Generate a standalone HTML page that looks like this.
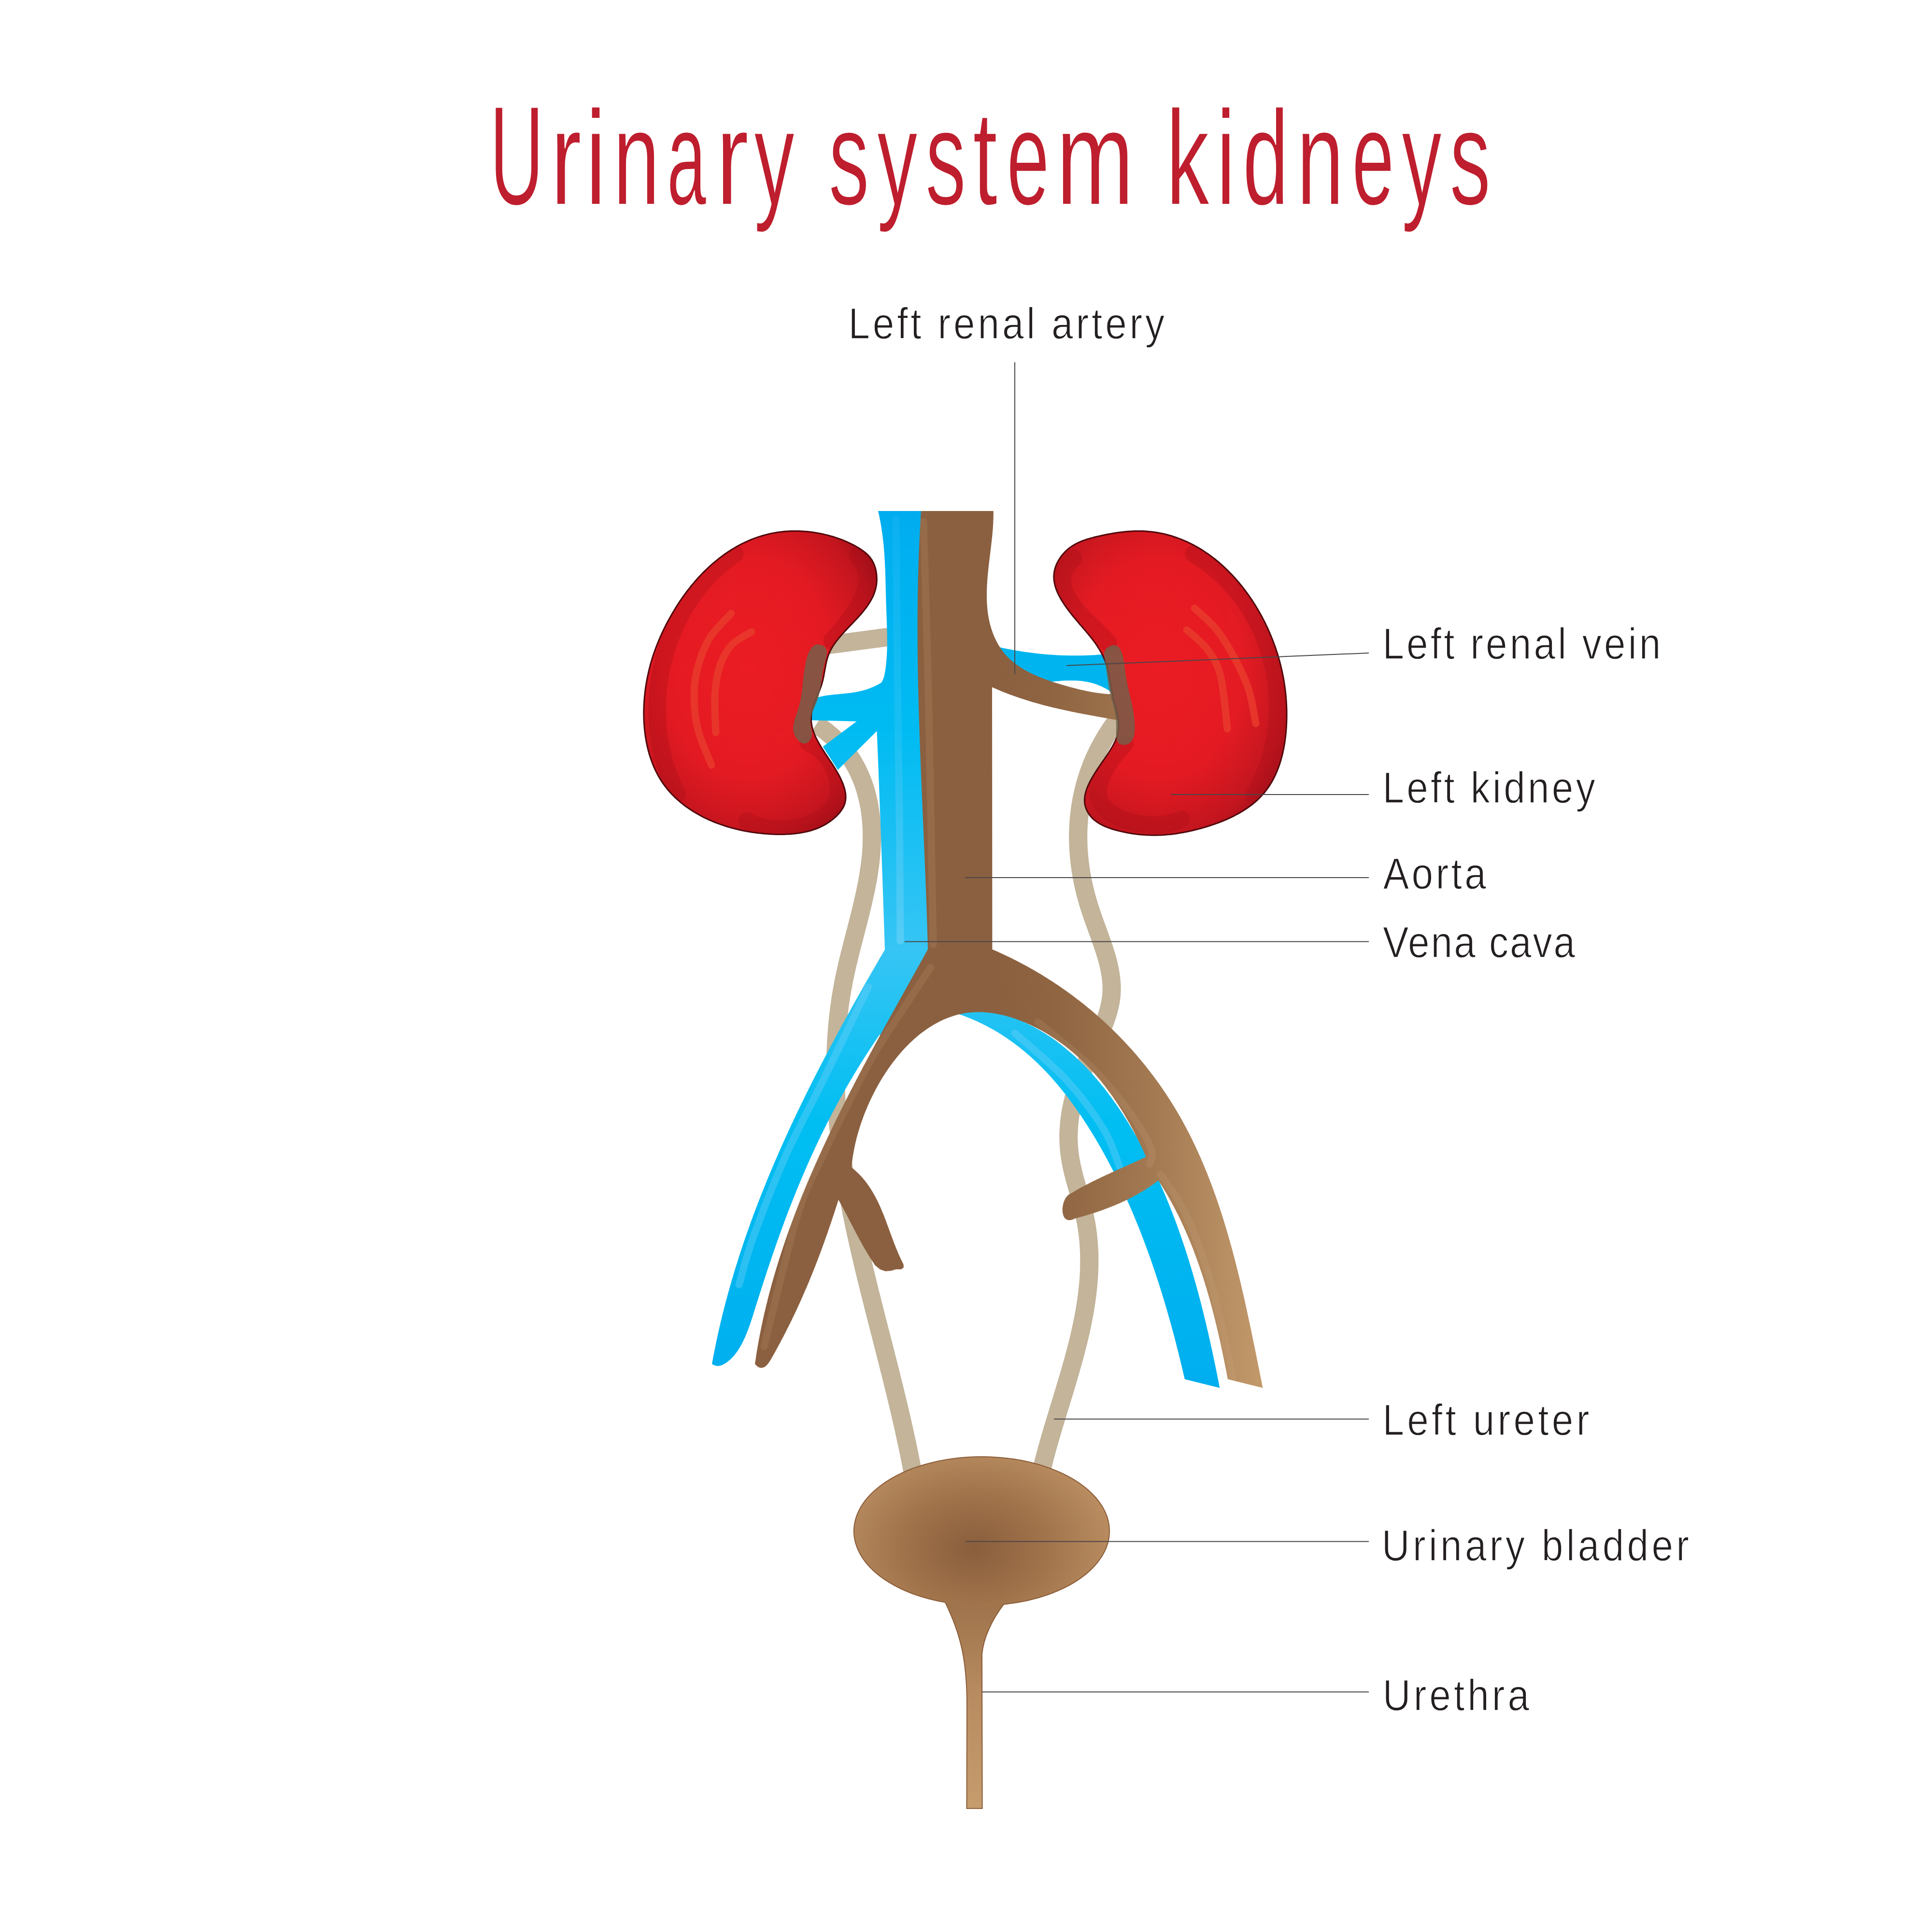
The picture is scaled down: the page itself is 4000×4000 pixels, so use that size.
<!DOCTYPE html>
<html><head><meta charset="utf-8"><style>
html,body{margin:0;padding:0;background:#fff;width:4000px;height:4000px;overflow:hidden}
svg{display:block}
</style></head><body>
<svg width="4000" height="4000" viewBox="0 0 4000 4000">
<rect width="4000" height="4000" fill="#fff"/>
<defs>
<radialGradient id="gKid" cx="0.45" cy="0.45" r="0.65"><stop offset="0" stop-color="#eb1c24"/><stop offset="0.55" stop-color="#e41b23"/><stop offset="0.85" stop-color="#c4161f"/><stop offset="1" stop-color="#9e0e18"/></radialGradient>
<linearGradient id="gBlue" gradientUnits="userSpaceOnUse" x1="0" y1="1058" x2="0" y2="2870"><stop offset="0" stop-color="#00adef"/><stop offset="0.25" stop-color="#00bbf2"/><stop offset="0.5" stop-color="#36c5f4"/><stop offset="0.7" stop-color="#00bef2"/><stop offset="1" stop-color="#00aeef"/></linearGradient>
<linearGradient id="gBrown" gradientUnits="userSpaceOnUse" x1="2060" y1="0" x2="2620" y2="0"><stop offset="0" stop-color="#8b6040"/><stop offset="0.2" stop-color="#8e6441"/><stop offset="0.6" stop-color="#a47a53"/><stop offset="1" stop-color="#c39a6b"/></linearGradient>
<radialGradient id="gBlad" gradientUnits="userSpaceOnUse" cx="2016" cy="3207" r="300" gradientTransform="translate(2016 3207) scale(1 0.75) translate(-2016 -3207)"><stop offset="0" stop-color="#8a5e3c"/><stop offset="0.5" stop-color="#a0734b"/><stop offset="1" stop-color="#bb8f62"/></radialGradient>
<linearGradient id="gUre" gradientUnits="userSpaceOnUse" x1="0" y1="3300" x2="0" y2="3744"><stop offset="0" stop-color="#9c7049"/><stop offset="0.45" stop-color="#b78b5f"/><stop offset="1" stop-color="#c69c6d"/></linearGradient>
<linearGradient id="gStripe" gradientUnits="userSpaceOnUse" x1="0" y1="1070" x2="0" y2="1950"><stop offset="0" stop-color="#6fd0f7" stop-opacity="0.25"/><stop offset="0.5" stop-color="#6fd0f7" stop-opacity="0.5"/><stop offset="1" stop-color="#8ad9f9" stop-opacity="1"/></linearGradient>
</defs>
<path d="M1700.0,1337.3 L1704.2,1336.7 L1708.3,1336.2 L1712.5,1335.6 L1716.7,1335.1 L1720.8,1334.5 L1725.0,1334.0 L1729.2,1333.4 L1733.3,1332.9 L1737.5,1332.3 L1741.7,1331.8 L1745.8,1331.2 L1750.0,1330.7 L1754.2,1330.1 L1758.3,1329.6 L1762.5,1329.0 L1766.7,1328.4 L1770.8,1327.9 L1775.0,1327.3 L1779.2,1326.8 L1783.3,1326.2 L1787.5,1325.7 L1791.7,1325.1 L1795.8,1324.6 L1800.0,1324.0 L1804.2,1323.4 L1808.3,1322.9 L1812.5,1322.3 L1816.7,1321.8 L1820.8,1321.2 L1825.0,1320.7 L1829.2,1320.1 L1833.3,1319.5 L1837.5,1319.0 L1841.7,1318.4 L1845.8,1317.9 L1850.0,1317.3 " fill="none" stroke="#c3b49a" stroke-width="38"/>
<path d="M1690.0,1500.0 L1693.7,1502.4 L1697.4,1504.8 L1701.0,1507.3 L1704.5,1509.8 L1707.9,1512.4 L1711.3,1515.0 L1714.6,1517.7 L1717.8,1520.4 L1721.0,1523.1 L1724.1,1525.9 L1727.2,1528.7 L1730.1,1531.6 L1733.0,1534.5 L1735.9,1537.4 L1738.6,1540.4 L1741.4,1543.4 L1744.0,1546.4 L1746.6,1549.5 L1749.1,1552.6 L1751.6,1555.8 L1754.0,1559.0 L1756.3,1562.2 L1758.6,1565.4 L1760.8,1568.7 L1762.9,1572.0 L1765.0,1575.3 L1767.1,1578.7 L1769.0,1582.1 L1770.9,1585.5 L1772.8,1589.0 L1774.6,1592.4 L1776.3,1595.9 L1778.0,1599.5 L1779.7,1603.0 L1781.2,1606.6 L1782.8,1610.2 L1784.2,1613.8 L1785.6,1617.4 L1787.0,1621.1 L1788.3,1624.8 L1789.5,1628.5 L1790.7,1632.2 L1791.9,1636.0 L1793.0,1639.7 L1794.0,1643.5 L1795.0,1647.3 L1796.0,1651.1 L1796.9,1654.9 L1797.7,1658.7 L1798.5,1662.6 L1799.3,1666.5 L1800.0,1670.3 L1800.6,1674.2 L1801.2,1678.1 L1801.8,1682.0 L1802.3,1685.9 L1802.8,1689.9 L1803.2,1693.8 L1803.6,1697.7 L1803.9,1701.7 L1804.2,1705.7 L1804.5,1709.6 L1804.7,1713.6 L1804.9,1717.6 L1805.0,1721.5 L1805.1,1725.5 L1805.1,1729.5 L1805.1,1733.5 L1805.1,1737.4 L1805.0,1741.4 L1804.9,1745.4 L1804.8,1749.4 L1804.6,1753.4 L1804.4,1757.4 L1804.1,1761.3 L1803.8,1765.3 L1803.5,1769.3 L1803.1,1773.3 L1802.7,1777.2 L1802.3,1781.2 L1801.9,1785.2 L1801.4,1789.2 L1800.9,1793.1 L1800.3,1797.1 L1799.7,1801.1 L1799.1,1805.0 L1798.5,1809.0 L1797.9,1813.0 L1797.2,1817.0 L1796.5,1820.9 L1795.8,1824.9 L1795.1,1828.9 L1794.3,1832.8 L1793.5,1836.8 L1792.7,1840.8 L1791.9,1844.7 L1791.0,1848.7 L1790.2,1852.7 L1789.3,1856.6 L1788.4,1860.6 L1787.5,1864.5 L1786.6,1868.5 L1785.7,1872.5 L1784.8,1876.4 L1783.8,1880.4 L1782.8,1884.4 L1781.9,1888.3 L1780.9,1892.3 L1779.9,1896.2 L1778.9,1900.2 L1777.9,1904.2 L1776.9,1908.1 L1775.9,1912.1 L1774.8,1916.0 L1773.8,1920.0 L1772.8,1924.0 L1771.8,1927.9 L1770.7,1931.9 L1769.7,1935.8 L1768.7,1939.8 L1767.7,1943.7 L1766.6,1947.7 L1765.6,1951.7 L1764.6,1955.6 L1763.6,1959.6 L1762.6,1963.5 L1761.6,1967.5 L1760.6,1971.4 L1759.6,1975.4 L1758.6,1979.3 L1757.6,1983.3 L1756.7,1987.3 L1755.7,1991.2 L1754.8,1995.2 L1753.9,1999.1 L1753.0,2003.1 L1752.1,2007.0 L1751.2,2011.0 L1750.3,2014.9 L1749.5,2018.9 L1748.6,2022.9 L1747.8,2026.8 L1747.0,2030.8 L1746.2,2034.7 L1745.5,2038.7 L1744.8,2042.6 L1744.0,2046.6 L1743.3,2050.5 L1742.7,2054.5 L1742.0,2058.5 L1741.4,2062.4 L1740.7,2066.4 L1740.1,2070.3 L1739.5,2074.3 L1739.0,2078.2 L1738.4,2082.2 L1737.9,2086.2 L1737.4,2090.1 L1736.9,2094.1 L1736.4,2098.0 L1735.9,2102.0 L1735.5,2105.9 L1735.1,2109.9 L1734.7,2113.8 L1734.3,2117.8 L1733.9,2121.8 L1733.5,2125.7 L1733.2,2129.7 L1732.9,2133.6 L1732.6,2137.6 L1732.3,2141.5 L1732.0,2145.5 L1731.7,2149.5 L1731.5,2153.4 L1731.3,2157.4 L1731.1,2161.3 L1730.9,2165.3 L1730.7,2169.2 L1730.5,2173.2 L1730.4,2177.2 L1730.2,2181.1 L1730.1,2185.1 L1730.0,2189.0 L1729.9,2193.0 L1729.9,2196.9 L1729.8,2200.9 L1729.8,2204.9 L1729.7,2208.8 L1729.7,2212.8 L1729.7,2216.7 L1729.7,2220.7 L1729.8,2224.6 L1729.8,2228.6 L1729.9,2232.6 L1730.0,2236.5 L1730.0,2240.5 L1730.1,2244.4 L1730.3,2248.4 L1730.4,2252.3 L1730.5,2256.3 L1730.7,2260.2 L1730.9,2264.2 L1731.0,2268.2 L1731.2,2272.1 L1731.4,2276.1 L1731.7,2280.0 L1731.9,2284.0 L1732.2,2287.9 L1732.4,2291.9 L1732.7,2295.8 L1733.0,2299.8 L1733.3,2303.8 L1733.6,2307.7 L1733.9,2311.7 L1734.2,2315.6 L1734.6,2319.6 L1734.9,2323.5 L1735.3,2327.5 L1735.7,2331.4 L1736.1,2335.4 L1736.5,2339.3 L1736.9,2343.3 L1737.3,2347.2 L1737.7,2351.2 L1738.2,2355.2 L1738.6,2359.1 L1739.1,2363.1 L1739.6,2367.0 L1740.1,2371.0 L1740.6,2374.9 L1741.1,2378.9 L1741.6,2382.8 L1742.1,2386.8 L1742.7,2390.7 L1743.2,2394.7 L1743.8,2398.6 L1744.3,2402.6 L1744.9,2406.5 L1745.5,2410.5 L1746.1,2414.4 L1746.7,2418.4 L1747.3,2422.3 L1748.0,2426.3 L1748.6,2430.2 L1749.2,2434.2 L1749.9,2438.1 L1750.5,2442.1 L1751.2,2446.0 L1751.9,2450.0 L1752.6,2453.9 L1753.3,2457.9 L1754.0,2461.8 L1754.7,2465.8 L1755.4,2469.7 L1756.1,2473.7 L1756.8,2477.6 L1757.6,2481.6 L1758.3,2485.5 L1759.1,2489.5 L1759.8,2493.4 L1760.6,2497.3 L1761.4,2501.3 L1762.2,2505.2 L1762.9,2509.2 L1763.7,2513.1 L1764.5,2517.1 L1765.4,2521.0 L1766.2,2525.0 L1767.0,2528.9 L1767.8,2532.8 L1768.7,2536.8 L1769.5,2540.7 L1770.3,2544.7 L1771.2,2548.6 L1772.0,2552.6 L1772.9,2556.5 L1773.8,2560.4 L1774.6,2564.4 L1775.5,2568.3 L1776.4,2572.3 L1777.3,2576.2 L1778.2,2580.2 L1779.1,2584.1 L1780.0,2588.0 L1780.9,2592.0 L1781.8,2595.9 L1782.7,2599.9 L1783.6,2603.8 L1784.6,2607.7 L1785.5,2611.7 L1786.4,2615.6 L1787.4,2619.5 L1788.3,2623.5 L1789.2,2627.4 L1790.2,2631.4 L1791.1,2635.3 L1792.1,2639.2 L1793.1,2643.2 L1794.0,2647.1 L1795.0,2651.0 L1795.9,2655.0 L1796.9,2658.9 L1797.9,2662.8 L1798.9,2666.8 L1799.8,2670.7 L1800.8,2674.6 L1801.8,2678.6 L1802.8,2682.5 L1803.8,2686.4 L1804.8,2690.4 L1805.7,2694.3 L1806.7,2698.2 L1807.7,2702.1 L1808.7,2706.1 L1809.7,2710.0 L1810.7,2713.9 L1811.7,2717.9 L1812.7,2721.8 L1813.7,2725.7 L1814.7,2729.6 L1815.7,2733.6 L1816.7,2737.5 L1817.7,2741.4 L1818.7,2745.3 L1819.7,2749.3 L1820.7,2753.2 L1821.7,2757.1 L1822.8,2761.0 L1823.8,2765.0 L1824.8,2768.9 L1825.8,2772.8 L1826.8,2776.7 L1827.8,2780.7 L1828.8,2784.6 L1829.8,2788.5 L1830.8,2792.4 L1831.8,2796.3 L1832.8,2800.3 L1833.8,2804.2 L1834.8,2808.1 L1835.8,2812.0 L1836.8,2815.9 L1837.8,2819.8 L1838.8,2823.8 L1839.8,2827.7 L1840.7,2831.6 L1841.7,2835.5 L1842.7,2839.4 L1843.7,2843.3 L1844.7,2847.2 L1845.7,2851.2 L1846.6,2855.1 L1847.6,2859.0 L1848.6,2862.9 L1849.5,2866.8 L1850.5,2870.7 L1851.5,2874.6 L1852.4,2878.5 L1853.4,2882.4 L1854.3,2886.4 L1855.3,2890.3 L1856.2,2894.2 L1857.2,2898.1 L1858.1,2902.0 L1859.0,2905.9 L1860.0,2909.8 L1860.9,2913.7 L1861.8,2917.6 L1862.7,2921.5 L1863.7,2925.4 L1864.6,2929.3 L1865.5,2933.2 L1866.4,2937.1 L1867.3,2941.0 L1868.2,2944.9 L1869.0,2948.8 L1869.9,2952.7 L1870.8,2956.6 L1871.7,2960.5 L1872.5,2964.4 L1873.4,2968.3 L1874.2,2972.2 L1875.1,2976.1 L1875.9,2980.0 L1876.8,2983.9 L1877.6,2987.8 L1878.4,2991.7 L1879.2,2995.6 L1880.1,2999.5 L1880.9,3003.3 L1881.7,3007.2 L1882.5,3011.1 L1883.2,3015.0 L1884.0,3018.9 L1884.8,3022.8 L1885.6,3026.7 L1886.3,3030.6 L1887.1,3034.5 L1887.8,3038.3 L1888.5,3042.2 L1889.3,3046.1 L1890.0,3050.0 " fill="none" stroke="#c3b49a" stroke-width="38"/>
<path d="M2312.0,1492.0 L2309.5,1495.4 L2307.0,1498.8 L2304.5,1502.2 L2302.1,1505.7 L2299.8,1509.1 L2297.4,1512.6 L2295.2,1516.1 L2292.9,1519.6 L2290.7,1523.1 L2288.6,1526.6 L2286.5,1530.2 L2284.4,1533.7 L2282.4,1537.3 L2280.4,1540.9 L2278.4,1544.5 L2276.5,1548.1 L2274.7,1551.7 L2272.9,1555.3 L2271.1,1558.9 L2269.4,1562.6 L2267.7,1566.2 L2266.0,1569.9 L2264.4,1573.6 L2262.8,1577.3 L2261.3,1581.0 L2259.8,1584.7 L2258.4,1588.4 L2257.0,1592.2 L2255.6,1595.9 L2254.3,1599.6 L2253.0,1603.4 L2251.7,1607.2 L2250.5,1610.9 L2249.4,1614.7 L2248.2,1618.5 L2247.2,1622.3 L2246.1,1626.1 L2245.1,1630.0 L2244.1,1633.8 L2243.2,1637.6 L2242.3,1641.5 L2241.4,1645.3 L2240.6,1649.2 L2239.9,1653.0 L2239.1,1656.9 L2238.4,1660.8 L2237.8,1664.6 L2237.1,1668.5 L2236.5,1672.4 L2236.0,1676.3 L2235.5,1680.2 L2235.0,1684.1 L2234.6,1688.1 L2234.2,1692.0 L2233.8,1695.9 L2233.5,1699.8 L2233.2,1703.8 L2233.0,1707.7 L2232.7,1711.6 L2232.6,1715.6 L2232.4,1719.5 L2232.3,1723.5 L2232.3,1727.4 L2232.2,1731.4 L2232.2,1735.3 L2232.3,1739.3 L2232.4,1743.3 L2232.5,1747.2 L2232.6,1751.2 L2232.8,1755.2 L2233.0,1759.1 L2233.3,1763.1 L2233.6,1767.1 L2233.9,1771.1 L2234.3,1775.0 L2234.7,1779.0 L2235.1,1783.0 L2235.6,1787.0 L2236.1,1790.9 L2236.6,1794.9 L2237.2,1798.9 L2237.8,1802.9 L2238.4,1806.9 L2239.1,1810.8 L2239.8,1814.8 L2240.5,1818.8 L2241.3,1822.7 L2242.1,1826.7 L2242.9,1830.7 L2243.8,1834.7 L2244.7,1838.6 L2245.7,1842.6 L2246.6,1846.5 L2247.6,1850.5 L2248.7,1854.4 L2249.7,1858.4 L2250.9,1862.3 L2252.0,1866.3 L2253.2,1870.2 L2254.4,1874.2 L2255.6,1878.1 L2256.9,1882.0 L2258.1,1885.9 L2259.5,1889.9 L2260.8,1893.8 L2262.1,1897.7 L2263.5,1901.6 L2264.9,1905.5 L2266.3,1909.4 L2267.7,1913.3 L2269.1,1917.2 L2270.5,1921.1 L2271.9,1925.0 L2273.3,1928.8 L2274.8,1932.7 L2276.2,1936.6 L2277.5,1940.4 L2278.9,1944.3 L2280.3,1948.2 L2281.6,1952.0 L2282.9,1955.9 L2284.2,1959.7 L2285.5,1963.6 L2286.8,1967.4 L2288.0,1971.2 L2289.2,1975.1 L2290.3,1978.9 L2291.4,1982.7 L2292.5,1986.6 L2293.5,1990.4 L2294.5,1994.2 L2295.4,1998.0 L2296.2,2001.8 L2297.1,2005.6 L2297.8,2009.4 L2298.5,2013.2 L2299.1,2017.0 L2299.7,2020.8 L2300.2,2024.6 L2300.6,2028.4 L2301.0,2032.1 L2301.3,2035.9 L2301.5,2039.7 L2301.6,2043.5 L2301.6,2047.2 L2301.6,2051.0 L2301.4,2054.7 L2301.2,2058.5 L2300.9,2062.3 L2300.4,2066.0 L2299.9,2069.7 L2299.3,2073.5 L2298.7,2077.2 L2297.9,2081.0 L2297.1,2084.7 L2296.1,2088.4 L2295.2,2092.2 L2294.1,2095.9 L2293.0,2099.6 L2291.8,2103.3 L2290.6,2107.1 L2289.3,2110.8 L2287.9,2114.5 L2286.5,2118.2 L2285.1,2121.9 L2283.6,2125.6 L2282.1,2129.3 L2280.5,2133.0 L2278.9,2136.7 L2277.3,2140.4 L2275.7,2144.2 L2274.0,2147.9 L2272.3,2151.6 L2270.6,2155.3 L2268.8,2159.0 L2267.1,2162.7 L2265.4,2166.4 L2263.6,2170.1 L2261.9,2173.8 L2260.1,2177.5 L2258.4,2181.2 L2256.6,2184.9 L2254.9,2188.6 L2253.2,2192.3 L2251.5,2196.0 L2249.8,2199.7 L2248.2,2203.4 L2246.5,2207.1 L2244.9,2210.8 L2243.4,2214.5 L2241.8,2218.2 L2240.3,2221.9 L2238.9,2225.6 L2237.4,2229.3 L2236.0,2233.0 L2234.7,2236.8 L2233.3,2240.5 L2232.1,2244.2 L2230.8,2247.9 L2229.6,2251.6 L2228.4,2255.4 L2227.2,2259.1 L2226.1,2262.8 L2225.1,2266.5 L2224.0,2270.3 L2223.0,2274.0 L2222.1,2277.8 L2221.2,2281.5 L2220.3,2285.2 L2219.5,2289.0 L2218.7,2292.7 L2217.9,2296.5 L2217.2,2300.3 L2216.6,2304.0 L2216.0,2307.8 L2215.4,2311.6 L2214.9,2315.3 L2214.4,2319.1 L2214.0,2322.9 L2213.6,2326.7 L2213.3,2330.5 L2213.0,2334.3 L2212.8,2338.1 L2212.6,2341.9 L2212.4,2345.7 L2212.3,2349.5 L2212.3,2353.3 L2212.3,2357.1 L2212.4,2361.0 L2212.5,2364.8 L2212.7,2368.6 L2212.9,2372.5 L2213.2,2376.3 L2213.5,2380.2 L2213.9,2384.0 L2214.4,2387.9 L2214.9,2391.8 L2215.4,2395.6 L2216.0,2399.5 L2216.7,2403.4 L2217.4,2407.3 L2218.2,2411.2 L2219.0,2415.1 L2219.9,2419.0 L2220.8,2423.0 L2221.7,2426.9 L2222.7,2430.8 L2223.7,2434.7 L2224.7,2438.7 L2225.8,2442.6 L2226.9,2446.6 L2228.0,2450.5 L2229.1,2454.5 L2230.2,2458.4 L2231.3,2462.4 L2232.4,2466.3 L2233.5,2470.3 L2234.7,2474.2 L2235.8,2478.2 L2236.9,2482.2 L2238.0,2486.1 L2239.1,2490.1 L2240.1,2494.1 L2241.2,2498.1 L2242.2,2502.0 L2243.1,2506.0 L2244.1,2510.0 L2245.0,2514.0 L2245.9,2517.9 L2246.7,2521.9 L2247.5,2525.9 L2248.2,2529.9 L2249.0,2533.8 L2249.6,2537.8 L2250.3,2541.8 L2250.8,2545.8 L2251.4,2549.7 L2251.9,2553.7 L2252.4,2557.7 L2252.8,2561.7 L2253.2,2565.6 L2253.6,2569.6 L2253.9,2573.6 L2254.2,2577.5 L2254.5,2581.5 L2254.7,2585.5 L2254.9,2589.4 L2255.1,2593.4 L2255.2,2597.4 L2255.3,2601.4 L2255.3,2605.3 L2255.3,2609.3 L2255.3,2613.3 L2255.3,2617.2 L2255.2,2621.2 L2255.1,2625.2 L2255.0,2629.1 L2254.8,2633.1 L2254.7,2637.0 L2254.4,2641.0 L2254.2,2645.0 L2253.9,2648.9 L2253.6,2652.9 L2253.3,2656.8 L2252.9,2660.8 L2252.5,2664.8 L2252.1,2668.7 L2251.7,2672.7 L2251.2,2676.6 L2250.8,2680.6 L2250.2,2684.5 L2249.7,2688.5 L2249.2,2692.4 L2248.6,2696.4 L2248.0,2700.3 L2247.4,2704.3 L2246.7,2708.2 L2246.1,2712.2 L2245.4,2716.1 L2244.7,2720.1 L2243.9,2724.0 L2243.2,2728.0 L2242.4,2731.9 L2241.6,2735.9 L2240.8,2739.8 L2240.0,2743.7 L2239.2,2747.7 L2238.3,2751.6 L2237.5,2755.5 L2236.6,2759.5 L2235.7,2763.4 L2234.8,2767.3 L2233.8,2771.3 L2232.9,2775.2 L2231.9,2779.1 L2230.9,2783.1 L2229.9,2787.0 L2228.9,2790.9 L2227.9,2794.8 L2226.9,2798.8 L2225.9,2802.7 L2224.8,2806.6 L2223.8,2810.5 L2222.7,2814.4 L2221.6,2818.3 L2220.5,2822.3 L2219.4,2826.2 L2218.3,2830.1 L2217.2,2834.0 L2216.1,2837.9 L2215.0,2841.8 L2213.8,2845.7 L2212.7,2849.6 L2211.5,2853.5 L2210.4,2857.4 L2209.2,2861.3 L2208.1,2865.2 L2206.9,2869.1 L2205.7,2873.0 L2204.6,2876.9 L2203.4,2880.8 L2202.2,2884.7 L2201.0,2888.6 L2199.8,2892.4 L2198.6,2896.3 L2197.5,2900.2 L2196.3,2904.1 L2195.1,2908.0 L2193.9,2911.8 L2192.7,2915.7 L2191.5,2919.6 L2190.3,2923.5 L2189.2,2927.3 L2188.0,2931.2 L2186.8,2935.0 L2185.6,2938.9 L2184.5,2942.8 L2183.3,2946.6 L2182.1,2950.5 L2181.0,2954.3 L2179.8,2958.2 L2178.7,2962.0 L2177.6,2965.9 L2176.4,2969.7 L2175.3,2973.6 L2174.2,2977.4 L2173.1,2981.3 L2172.0,2985.1 L2170.9,2988.9 L2169.8,2992.8 L2168.7,2996.6 L2167.7,3000.4 L2166.6,3004.3 L2165.6,3008.1 L2164.6,3011.9 L2163.5,3015.7 L2162.5,3019.5 L2161.6,3023.4 L2160.6,3027.2 L2159.6,3031.0 L2158.7,3034.8 L2157.7,3038.6 L2156.8,3042.4 L2155.9,3046.2 L2155.0,3050.0 " fill="none" stroke="#c3b49a" stroke-width="38"/>
<path d="M2040.0,1333.0 L2043.9,1334.0 L2047.9,1335.0 L2051.9,1336.0 L2055.8,1337.0 L2059.8,1337.9 L2063.7,1338.8 L2067.7,1339.7 L2071.7,1340.6 L2075.7,1341.4 L2079.6,1342.3 L2083.6,1343.1 L2087.6,1343.9 L2091.6,1344.6 L2095.6,1345.4 L2099.6,1346.1 L2103.6,1346.8 L2107.6,1347.5 L2111.6,1348.1 L2115.6,1348.8 L2119.7,1349.4 L2123.7,1350.0 L2127.7,1350.5 L2131.7,1351.1 L2135.7,1351.6 L2139.8,1352.1 L2143.8,1352.6 L2147.8,1353.1 L2151.9,1353.5 L2155.9,1353.9 L2159.9,1354.3 L2164.0,1354.7 L2168.0,1355.0 L2172.1,1355.3 L2176.1,1355.6 L2180.2,1355.9 L2184.2,1356.1 L2188.3,1356.4 L2192.3,1356.6 L2196.4,1356.7 L2200.4,1356.9 L2204.5,1357.0 L2208.5,1357.1 L2212.6,1357.2 L2216.6,1357.3 L2220.7,1357.3 L2224.8,1357.3 L2228.8,1357.3 L2232.9,1357.3 L2236.9,1357.2 L2241.0,1357.2 L2245.1,1357.1 L2249.1,1356.9 L2253.2,1356.8 L2257.2,1356.6 L2261.3,1356.4 L2265.4,1356.2 L2269.4,1355.9 L2273.5,1355.6 L2277.5,1355.3 L2281.6,1355.0 L2285.7,1354.6 L2289.7,1354.3 L2293.8,1353.9 L2297.8,1353.4 L2301.9,1353.0 L2305.9,1352.5 L2310.0,1352.0 L2310.0,1440.0 L2306.4,1437.0 L2302.7,1434.3 L2299.0,1431.6 L2295.3,1429.2 L2291.6,1426.9 L2287.8,1424.8 L2284.1,1422.9 L2280.3,1421.1 L2276.5,1419.4 L2272.7,1417.9 L2268.9,1416.5 L2265.0,1415.3 L2261.2,1414.2 L2257.3,1413.2 L2253.4,1412.3 L2249.5,1411.5 L2245.6,1410.9 L2241.7,1410.3 L2237.8,1409.8 L2233.8,1409.5 L2229.9,1409.2 L2225.9,1409.0 L2222.0,1408.9 L2218.0,1408.9 L2214.0,1408.9 L2210.0,1409.0 L2206.0,1409.1 L2202.0,1409.3 L2197.9,1409.6 L2193.9,1409.9 L2189.9,1410.2 L2185.8,1410.6 L2181.8,1411.0 L2177.7,1411.4 L2173.7,1411.8 L2169.6,1412.3 L2165.6,1412.7 L2161.5,1413.2 L2157.4,1413.7 L2153.3,1414.1 L2149.3,1414.6 L2145.2,1415.0 L2141.1,1415.4 L2137.0,1415.8 L2133.0,1416.2 L2128.9,1416.5 L2124.8,1416.8 L2120.7,1417.1 L2116.6,1417.3 L2112.6,1417.4 L2108.5,1417.5 L2104.4,1417.5 L2100.3,1417.4 L2096.3,1417.3 L2092.2,1417.1 L2088.2,1416.8 L2084.1,1416.4 L2080.1,1416.0 L2076.0,1415.4 L2072.0,1414.7 L2068.0,1413.9 L2063.9,1413.0 L2059.9,1412.0 L2055.9,1410.9 L2051.9,1409.6 L2047.9,1408.2 L2044.0,1406.7 L2040.0,1405.0 Z" fill="#00b5ef"/>
<path d="M1960.0,2092.0 L1964.0,2093.1 L1968.1,2094.3 L1972.0,2095.4 L1976.0,2096.7 L1979.9,2097.9 L1983.8,2099.2 L1987.7,2100.5 L1991.6,2101.9 L1995.4,2103.3 L1999.2,2104.7 L2003.0,2106.2 L2006.8,2107.7 L2010.5,2109.2 L2014.2,2110.8 L2017.9,2112.4 L2021.6,2114.0 L2025.2,2115.7 L2028.8,2117.4 L2032.4,2119.1 L2036.0,2120.9 L2039.5,2122.7 L2043.1,2124.5 L2046.6,2126.4 L2050.0,2128.2 L2053.5,2130.2 L2056.9,2132.1 L2060.3,2134.1 L2063.7,2136.1 L2067.1,2138.1 L2070.4,2140.2 L2073.8,2142.3 L2077.1,2144.4 L2080.3,2146.5 L2083.6,2148.7 L2086.8,2150.9 L2090.1,2153.2 L2093.2,2155.4 L2096.4,2157.7 L2099.6,2160.0 L2102.7,2162.4 L2105.8,2164.7 L2108.9,2167.1 L2112.0,2169.5 L2115.0,2172.0 L2118.1,2174.4 L2121.1,2176.9 L2124.1,2179.4 L2127.0,2182.0 L2130.0,2184.5 L2132.9,2187.1 L2135.8,2189.7 L2138.7,2192.4 L2141.6,2195.0 L2144.5,2197.7 L2147.3,2200.4 L2150.1,2203.1 L2152.9,2205.9 L2155.7,2208.7 L2158.5,2211.4 L2161.2,2214.3 L2163.9,2217.1 L2166.6,2219.9 L2169.3,2222.8 L2172.0,2225.7 L2174.7,2228.6 L2177.3,2231.5 L2179.9,2234.5 L2182.5,2237.5 L2185.1,2240.4 L2187.7,2243.5 L2190.3,2246.5 L2192.8,2249.5 L2195.3,2252.6 L2197.8,2255.7 L2200.3,2258.7 L2202.8,2261.9 L2205.3,2265.0 L2207.7,2268.1 L2210.1,2271.3 L2212.6,2274.5 L2215.0,2277.7 L2217.3,2280.9 L2219.7,2284.1 L2222.1,2287.3 L2224.4,2290.6 L2226.7,2293.8 L2229.0,2297.1 L2231.3,2300.4 L2233.6,2303.7 L2235.9,2307.0 L2238.2,2310.3 L2240.4,2313.7 L2242.6,2317.0 L2244.8,2320.4 L2247.0,2323.8 L2249.2,2327.2 L2251.4,2330.6 L2253.6,2334.0 L2255.7,2337.4 L2257.9,2340.8 L2260.0,2344.3 L2262.1,2347.7 L2264.2,2351.2 L2266.3,2354.7 L2268.4,2358.1 L2270.4,2361.6 L2272.5,2365.1 L2274.5,2368.6 L2276.5,2372.2 L2278.6,2375.7 L2280.6,2379.2 L2282.6,2382.8 L2284.5,2386.3 L2286.5,2389.9 L2288.5,2393.4 L2290.4,2397.0 L2292.3,2400.6 L2294.3,2404.2 L2296.2,2407.8 L2298.1,2411.4 L2300.0,2415.0 L2301.8,2418.6 L2303.7,2422.3 L2305.6,2425.9 L2307.4,2429.5 L2309.2,2433.2 L2311.1,2436.9 L2312.9,2440.5 L2314.7,2444.2 L2316.4,2447.9 L2318.2,2451.6 L2320.0,2455.2 L2321.7,2458.9 L2323.5,2462.6 L2325.2,2466.4 L2326.9,2470.1 L2328.7,2473.8 L2330.4,2477.5 L2332.0,2481.2 L2333.7,2485.0 L2335.4,2488.7 L2337.0,2492.5 L2338.7,2496.2 L2340.3,2500.0 L2342.0,2503.7 L2343.6,2507.5 L2345.2,2511.3 L2346.8,2515.1 L2348.4,2518.8 L2349.9,2522.6 L2351.5,2526.4 L2353.0,2530.2 L2354.6,2534.0 L2356.1,2537.8 L2357.7,2541.6 L2359.2,2545.4 L2360.7,2549.2 L2362.2,2553.0 L2363.7,2556.9 L2365.1,2560.7 L2366.6,2564.5 L2368.0,2568.3 L2369.5,2572.2 L2370.9,2576.0 L2372.4,2579.8 L2373.8,2583.7 L2375.2,2587.5 L2376.6,2591.4 L2378.0,2595.2 L2379.4,2599.1 L2380.7,2602.9 L2382.1,2606.8 L2383.4,2610.6 L2384.8,2614.5 L2386.1,2618.3 L2387.4,2622.2 L2388.8,2626.0 L2390.1,2629.9 L2391.4,2633.7 L2392.6,2637.6 L2393.9,2641.5 L2395.2,2645.3 L2396.5,2649.2 L2397.7,2653.1 L2399.0,2656.9 L2400.2,2660.8 L2401.4,2664.6 L2402.6,2668.5 L2403.9,2672.4 L2405.1,2676.2 L2406.2,2680.1 L2407.4,2684.0 L2408.6,2687.8 L2409.8,2691.7 L2410.9,2695.6 L2412.1,2699.4 L2413.2,2703.3 L2414.4,2707.1 L2415.5,2711.0 L2416.6,2714.8 L2417.7,2718.7 L2418.8,2722.5 L2419.9,2726.4 L2421.0,2730.2 L2422.1,2734.1 L2423.2,2737.9 L2424.2,2741.8 L2425.3,2745.6 L2426.3,2749.5 L2427.4,2753.3 L2428.4,2757.1 L2429.5,2761.0 L2430.5,2764.8 L2431.5,2768.6 L2432.5,2772.4 L2433.5,2776.2 L2434.5,2780.1 L2435.5,2783.9 L2436.4,2787.7 L2437.4,2791.5 L2438.4,2795.3 L2439.3,2799.1 L2440.3,2802.9 L2441.2,2806.7 L2442.1,2810.4 L2443.1,2814.2 L2444.0,2818.0 L2444.9,2821.8 L2445.8,2825.5 L2446.7,2829.3 L2447.6,2833.1 L2448.5,2836.8 L2449.4,2840.6 L2450.2,2844.3 L2451.1,2848.0 L2452.0,2851.8 L2452.8,2855.5 L2452.8,2855.5 L2525.3,2873.6 L2525.3,2873.6 L2524.5,2869.7 L2523.8,2865.7 L2523.0,2861.8 L2522.2,2857.8 L2521.4,2853.9 L2520.7,2850.0 L2519.9,2846.0 L2519.1,2842.1 L2518.3,2838.1 L2517.5,2834.2 L2516.7,2830.3 L2515.9,2826.3 L2515.0,2822.4 L2514.2,2818.5 L2513.4,2814.6 L2512.6,2810.6 L2511.7,2806.7 L2510.9,2802.8 L2510.1,2798.8 L2509.2,2794.9 L2508.4,2791.0 L2507.5,2787.1 L2506.6,2783.2 L2505.8,2779.2 L2504.9,2775.3 L2504.0,2771.4 L2503.1,2767.5 L2502.3,2763.6 L2501.4,2759.7 L2500.5,2755.8 L2499.5,2751.9 L2498.6,2748.0 L2497.7,2744.1 L2496.8,2740.1 L2495.9,2736.2 L2494.9,2732.3 L2494.0,2728.5 L2493.0,2724.6 L2492.1,2720.7 L2491.1,2716.8 L2490.1,2712.9 L2489.2,2709.0 L2488.2,2705.1 L2487.2,2701.2 L2486.2,2697.3 L2485.2,2693.5 L2484.2,2689.6 L2483.1,2685.7 L2482.1,2681.8 L2481.1,2678.0 L2480.0,2674.1 L2479.0,2670.2 L2477.9,2666.4 L2476.9,2662.5 L2475.8,2658.6 L2474.7,2654.8 L2473.6,2650.9 L2472.5,2647.1 L2471.4,2643.2 L2470.3,2639.4 L2469.2,2635.5 L2468.0,2631.7 L2466.9,2627.9 L2465.8,2624.0 L2464.6,2620.2 L2463.4,2616.4 L2462.3,2612.5 L2461.1,2608.7 L2459.9,2604.9 L2458.7,2601.1 L2457.5,2597.2 L2456.3,2593.4 L2455.0,2589.6 L2453.8,2585.8 L2452.5,2582.0 L2451.3,2578.2 L2450.0,2574.4 L2448.7,2570.6 L2447.4,2566.8 L2446.1,2563.0 L2444.8,2559.2 L2443.5,2555.4 L2442.2,2551.7 L2440.8,2547.9 L2439.5,2544.1 L2438.1,2540.3 L2436.8,2536.6 L2435.4,2532.8 L2434.0,2529.1 L2432.6,2525.3 L2431.2,2521.5 L2429.7,2517.8 L2428.3,2514.1 L2426.9,2510.3 L2425.4,2506.6 L2423.9,2502.8 L2422.5,2499.1 L2421.0,2495.4 L2419.5,2491.6 L2417.9,2487.9 L2416.4,2484.2 L2414.9,2480.5 L2413.3,2476.8 L2411.8,2473.1 L2410.2,2469.4 L2408.6,2465.7 L2407.0,2462.0 L2405.4,2458.3 L2403.8,2454.6 L2402.1,2450.9 L2400.5,2447.3 L2398.8,2443.6 L2397.1,2439.9 L2395.4,2436.3 L2393.7,2432.6 L2392.0,2428.9 L2390.3,2425.3 L2388.6,2421.6 L2386.8,2418.0 L2385.0,2414.4 L2383.3,2410.7 L2381.5,2407.1 L2379.6,2403.5 L2377.8,2399.9 L2376.0,2396.2 L2374.1,2392.6 L2372.3,2389.0 L2370.4,2385.4 L2368.5,2381.8 L2366.6,2378.2 L2364.7,2374.6 L2362.8,2371.1 L2360.8,2367.5 L2358.8,2363.9 L2356.9,2360.4 L2354.9,2356.8 L2352.9,2353.3 L2350.8,2349.7 L2348.8,2346.2 L2346.8,2342.7 L2344.7,2339.2 L2342.6,2335.7 L2340.5,2332.2 L2338.4,2328.7 L2336.3,2325.2 L2334.1,2321.7 L2332.0,2318.3 L2329.8,2314.9 L2327.6,2311.4 L2325.4,2308.0 L2323.2,2304.6 L2320.9,2301.2 L2318.7,2297.8 L2316.4,2294.5 L2314.1,2291.1 L2311.8,2287.8 L2309.5,2284.5 L2307.2,2281.2 L2304.8,2277.9 L2302.5,2274.6 L2300.1,2271.3 L2297.7,2268.1 L2295.3,2264.9 L2292.8,2261.6 L2290.4,2258.4 L2287.9,2255.3 L2285.4,2252.1 L2282.9,2249.0 L2280.4,2245.9 L2277.9,2242.7 L2275.3,2239.7 L2272.7,2236.6 L2270.1,2233.6 L2267.5,2230.5 L2264.9,2227.5 L2262.3,2224.6 L2259.6,2221.6 L2256.9,2218.7 L2254.2,2215.7 L2251.5,2212.8 L2248.8,2210.0 L2246.0,2207.1 L2243.3,2204.3 L2240.5,2201.5 L2237.7,2198.7 L2234.8,2196.0 L2232.0,2193.3 L2229.1,2190.6 L2226.3,2187.9 L2223.4,2185.2 L2220.4,2182.6 L2217.5,2180.0 L2214.5,2177.4 L2211.6,2174.9 L2208.6,2172.4 L2205.6,2169.9 L2202.5,2167.4 L2199.5,2165.0 L2196.4,2162.6 L2193.3,2160.2 L2190.2,2157.9 L2187.1,2155.6 L2183.9,2153.3 L2180.7,2151.0 L2177.6,2148.8 L2174.3,2146.6 L2171.1,2144.5 L2167.9,2142.4 L2164.6,2140.3 L2161.3,2138.2 L2158.0,2136.2 L2154.6,2134.2 L2151.3,2132.2 L2147.9,2130.3 L2144.5,2128.4 L2141.1,2126.6 L2137.7,2124.7 L2134.2,2123.0 L2130.7,2121.2 L2127.2,2119.5 L2123.7,2117.8 L2120.2,2116.2 L2116.6,2114.6 L2113.0,2113.0 L2109.4,2111.5 L2105.8,2110.0 L2102.1,2108.6 L2098.4,2107.2 L2094.7,2105.8 L2091.0,2104.5 L2087.3,2103.2 L2083.5,2101.9 L2079.7,2100.7 L2075.9,2099.6 L2072.1,2098.4 L2068.3,2097.3 L2064.4,2096.3 L2060.5,2095.3 L2056.6,2094.3 L2052.6,2093.4 L2048.7,2092.6 L2044.7,2091.7 L2040.7,2091.0 L2036.6,2090.2 L2032.6,2089.5 L2028.5,2088.9 L2024.4,2088.3 L2020.3,2087.7 L2016.1,2087.2 L2011.9,2086.8 L2007.7,2086.4 L2003.5,2086.0 L1999.3,2085.7 L1995.0,2085.4 L1990.7,2085.2 L1986.4,2085.0 L1982.1,2084.9 L1977.7,2084.8 L1973.3,2084.8 L1968.9,2084.8 L1964.5,2084.9 L1960.0,2085.0 Z" fill="url(#gBlue)"/>
<path d="M1818.0,1058.0 L1915.0,1058.0 L1915.0,1058.0 L1914.7,1062.0 L1914.4,1066.0 L1914.2,1070.1 L1913.9,1074.1 L1913.6,1078.1 L1913.4,1082.1 L1913.1,1086.1 L1912.9,1090.1 L1912.7,1094.2 L1912.4,1098.2 L1912.2,1102.2 L1912.0,1106.2 L1911.8,1110.2 L1911.6,1114.2 L1911.4,1118.3 L1911.2,1122.3 L1911.0,1126.3 L1910.8,1130.3 L1910.6,1134.3 L1910.4,1138.4 L1910.3,1142.4 L1910.1,1146.4 L1909.9,1150.4 L1909.8,1154.4 L1909.6,1158.4 L1909.5,1162.5 L1909.4,1166.5 L1909.2,1170.5 L1909.1,1174.5 L1909.0,1178.5 L1908.8,1182.6 L1908.7,1186.6 L1908.6,1190.6 L1908.5,1194.6 L1908.4,1198.6 L1908.3,1202.6 L1908.2,1206.7 L1908.1,1210.7 L1908.1,1214.7 L1908.0,1218.7 L1907.9,1222.7 L1907.8,1226.7 L1907.8,1230.8 L1907.7,1234.8 L1907.7,1238.8 L1907.6,1242.8 L1907.6,1246.8 L1907.5,1250.9 L1907.5,1254.9 L1907.5,1258.9 L1907.4,1262.9 L1907.4,1266.9 L1907.4,1270.9 L1907.4,1275.0 L1907.4,1279.0 L1907.3,1283.0 L1907.3,1287.0 L1907.3,1291.0 L1907.3,1295.1 L1907.3,1299.1 L1907.3,1303.1 L1907.4,1307.1 L1907.4,1311.1 L1907.4,1315.1 L1907.4,1319.2 L1907.4,1323.2 L1907.5,1327.2 L1907.5,1331.2 L1907.5,1335.2 L1907.6,1339.2 L1907.6,1343.3 L1907.7,1347.3 L1907.7,1351.3 L1907.8,1355.3 L1907.8,1359.3 L1907.9,1363.4 L1908.0,1367.4 L1908.0,1371.4 L1908.1,1375.4 L1908.2,1379.4 L1908.2,1383.4 L1908.3,1387.5 L1908.4,1391.5 L1908.5,1395.5 L1908.6,1399.5 L1908.7,1403.5 L1908.7,1407.5 L1908.8,1411.6 L1908.9,1415.6 L1909.0,1419.6 L1909.1,1423.6 L1909.2,1427.6 L1909.3,1431.7 L1909.5,1435.7 L1909.6,1439.7 L1909.7,1443.7 L1909.8,1447.7 L1909.9,1451.7 L1910.0,1455.8 L1910.2,1459.8 L1910.3,1463.8 L1910.4,1467.8 L1910.5,1471.8 L1910.7,1475.8 L1910.8,1479.9 L1910.9,1483.9 L1911.1,1487.9 L1911.2,1491.9 L1911.3,1495.9 L1911.5,1500.0 L1911.6,1504.0 L1911.8,1508.0 L1911.9,1512.0 L1912.1,1516.0 L1912.2,1520.0 L1912.4,1524.1 L1912.5,1528.1 L1912.7,1532.1 L1912.8,1536.1 L1913.0,1540.1 L1913.1,1544.1 L1913.3,1548.2 L1913.5,1552.2 L1913.6,1556.2 L1913.8,1560.2 L1913.9,1564.2 L1914.1,1568.3 L1914.3,1572.3 L1914.4,1576.3 L1914.6,1580.3 L1914.8,1584.3 L1914.9,1588.3 L1915.1,1592.4 L1915.3,1596.4 L1915.5,1600.4 L1915.6,1604.4 L1915.8,1608.4 L1916.0,1612.4 L1916.2,1616.5 L1916.3,1620.5 L1916.5,1624.5 L1916.7,1628.5 L1916.9,1632.5 L1917.0,1636.6 L1917.2,1640.6 L1917.4,1644.6 L1917.6,1648.6 L1917.7,1652.6 L1917.9,1656.6 L1918.1,1660.7 L1918.3,1664.7 L1918.4,1668.7 L1918.6,1672.7 L1918.8,1676.7 L1919.0,1680.7 L1919.2,1684.8 L1919.3,1688.8 L1919.5,1692.8 L1919.7,1696.8 L1919.9,1700.8 L1920.0,1704.9 L1920.2,1708.9 L1920.4,1712.9 L1920.6,1716.9 L1920.8,1720.9 L1920.9,1724.9 L1921.1,1729.0 L1921.3,1733.0 L1921.4,1737.0 L1921.6,1741.0 L1921.8,1745.0 L1922.0,1749.0 L1922.1,1753.1 L1922.3,1757.1 L1922.5,1761.1 L1922.6,1765.1 L1922.8,1769.1 L1923.0,1773.2 L1923.1,1777.2 L1923.3,1781.2 L1923.5,1785.2 L1923.6,1789.2 L1923.8,1793.2 L1923.9,1797.3 L1924.1,1801.3 L1924.3,1805.3 L1924.4,1809.3 L1924.6,1813.3 L1924.7,1817.3 L1924.9,1821.4 L1925.0,1825.4 L1925.2,1829.4 L1925.3,1833.4 L1925.5,1837.4 L1925.6,1841.5 L1925.7,1845.5 L1925.9,1849.5 L1926.0,1853.5 L1926.2,1857.5 L1926.3,1861.5 L1926.4,1865.6 L1926.6,1869.6 L1926.7,1873.6 L1926.8,1877.6 L1926.9,1881.6 L1927.1,1885.6 L1927.2,1889.7 L1927.3,1893.7 L1927.4,1897.7 L1927.5,1901.7 L1927.6,1905.7 L1927.7,1909.8 L1927.8,1913.8 L1928.0,1917.8 L1928.1,1921.8 L1928.2,1925.8 L1928.3,1929.8 L1928.3,1933.9 L1928.4,1937.9 L1928.5,1941.9 L1928.6,1945.9 L1928.7,1949.9 L1928.8,1953.9 L1928.9,1958.0 L1928.9,1962.0 L1929.0,1966.0 L1929.0,1966.0 L1826.0,2147.0 L1821.7,2141.5 L1819.3,2144.9 L1817.0,2148.3 L1814.7,2151.8 L1812.3,2155.2 L1810.0,2158.6 L1807.7,2162.0 L1805.5,2165.5 L1803.2,2168.9 L1800.9,2172.3 L1798.7,2175.8 L1796.5,2179.2 L1794.2,2182.6 L1792.0,2186.1 L1789.8,2189.5 L1787.6,2193.0 L1785.5,2196.4 L1783.3,2199.8 L1781.2,2203.3 L1779.0,2206.7 L1776.9,2210.2 L1774.8,2213.6 L1772.7,2217.1 L1770.6,2220.5 L1768.5,2224.0 L1766.4,2227.5 L1764.4,2230.9 L1762.3,2234.4 L1760.3,2237.8 L1758.2,2241.3 L1756.2,2244.8 L1754.2,2248.3 L1752.2,2251.7 L1750.2,2255.2 L1748.2,2258.7 L1746.3,2262.2 L1744.3,2265.7 L1742.4,2269.1 L1740.4,2272.6 L1738.5,2276.1 L1736.6,2279.6 L1734.7,2283.1 L1732.8,2286.6 L1730.9,2290.1 L1729.0,2293.6 L1727.2,2297.1 L1725.3,2300.6 L1723.4,2304.1 L1721.6,2307.7 L1719.8,2311.2 L1718.0,2314.7 L1716.1,2318.2 L1714.3,2321.8 L1712.5,2325.3 L1710.8,2328.8 L1709.0,2332.4 L1707.2,2335.9 L1705.4,2339.5 L1703.7,2343.0 L1702.0,2346.6 L1700.2,2350.1 L1698.5,2353.7 L1696.8,2357.2 L1695.1,2360.8 L1693.4,2364.4 L1691.7,2368.0 L1690.0,2371.5 L1688.3,2375.1 L1686.6,2378.7 L1685.0,2382.3 L1683.3,2385.9 L1681.7,2389.5 L1680.0,2393.1 L1678.4,2396.7 L1676.8,2400.3 L1675.2,2403.9 L1673.5,2407.5 L1671.9,2411.2 L1670.3,2414.8 L1668.8,2418.4 L1667.2,2422.1 L1665.6,2425.7 L1664.0,2429.3 L1662.5,2433.0 L1660.9,2436.6 L1659.4,2440.3 L1657.8,2444.0 L1656.3,2447.6 L1654.8,2451.3 L1653.2,2455.0 L1651.7,2458.7 L1650.2,2462.3 L1648.7,2466.0 L1647.2,2469.7 L1645.7,2473.4 L1644.2,2477.1 L1642.7,2480.9 L1641.3,2484.6 L1639.8,2488.3 L1638.3,2492.0 L1636.9,2495.8 L1635.4,2499.5 L1634.0,2503.2 L1632.5,2507.0 L1631.1,2510.7 L1629.7,2514.5 L1628.2,2518.3 L1626.8,2522.0 L1625.4,2525.8 L1624.0,2529.6 L1622.6,2533.4 L1621.2,2537.2 L1619.8,2541.0 L1618.4,2544.8 L1617.0,2548.6 L1615.6,2552.4 L1614.2,2556.2 L1612.9,2560.1 L1611.5,2563.9 L1610.1,2567.7 L1608.8,2571.6 L1607.4,2575.4 L1606.0,2579.3 L1604.7,2583.2 L1603.3,2587.0 L1602.0,2590.9 L1600.7,2594.8 L1599.3,2598.7 L1598.0,2602.6 L1596.7,2606.5 L1595.3,2610.4 L1594.0,2614.3 L1592.7,2618.2 L1591.4,2622.2 L1590.0,2626.1 L1588.7,2630.1 L1587.4,2634.0 L1586.1,2638.0 L1584.8,2641.9 L1583.5,2645.9 L1582.2,2649.9 L1580.9,2653.9 L1579.6,2657.9 L1578.3,2661.9 L1577.0,2665.9 L1575.8,2669.9 L1574.5,2673.9 L1573.2,2677.9 L1571.9,2682.0 L1570.6,2686.0 L1569.4,2690.1 L1568.1,2694.1 L1566.8,2698.2 L1565.5,2702.3 L1564.3,2706.3 L1563.0,2710.4 L1561.7,2714.5 L1560.4,2718.6 L1559.2,2722.7 L1557.9,2726.7 L1556.5,2730.8 L1555.2,2734.8 L1553.9,2738.8 L1552.5,2742.7 L1551.1,2746.7 L1549.7,2750.6 L1548.2,2754.5 L1546.7,2758.3 L1545.2,2762.0 L1543.7,2765.8 L1542.1,2769.4 L1540.4,2773.0 L1538.8,2776.6 L1537.0,2780.0 L1535.3,2783.4 L1533.4,2786.7 L1531.5,2790.0 L1529.6,2793.1 L1527.6,2796.2 L1525.5,2799.2 L1523.4,2802.1 L1521.2,2804.9 L1518.9,2807.5 L1516.6,2810.1 L1514.2,2812.5 L1511.7,2814.9 L1509.1,2817.1 L1506.5,2819.2 L1503.7,2821.2 L1500.9,2823.0 L1497.9,2824.7 L1494.9,2826.2 L1491.8,2827.3 L1488.5,2828.0 L1485.1,2828.2 L1481.6,2827.6 L1477.9,2826.3 L1474.0,2824.0 L1474.0,2824.0 L1474.7,2820.0 L1475.5,2816.0 L1476.2,2812.1 L1476.9,2808.1 L1477.7,2804.1 L1478.5,2800.2 L1479.3,2796.2 L1480.1,2792.3 L1480.9,2788.3 L1481.7,2784.4 L1482.5,2780.4 L1483.3,2776.5 L1484.2,2772.5 L1485.0,2768.6 L1485.9,2764.6 L1486.7,2760.7 L1487.6,2756.8 L1488.5,2752.8 L1489.4,2748.9 L1490.3,2745.0 L1491.2,2741.1 L1492.1,2737.1 L1493.1,2733.2 L1494.0,2729.3 L1495.0,2725.4 L1495.9,2721.5 L1496.9,2717.6 L1497.9,2713.7 L1498.9,2709.8 L1499.9,2705.9 L1500.9,2702.0 L1501.9,2698.1 L1502.9,2694.2 L1504.0,2690.3 L1505.0,2686.4 L1506.1,2682.5 L1507.1,2678.7 L1508.2,2674.8 L1509.3,2670.9 L1510.4,2667.0 L1511.5,2663.2 L1512.6,2659.3 L1513.7,2655.4 L1514.8,2651.6 L1515.9,2647.7 L1517.1,2643.9 L1518.2,2640.0 L1519.4,2636.2 L1520.5,2632.3 L1521.7,2628.5 L1522.9,2624.6 L1524.1,2620.8 L1525.3,2616.9 L1526.5,2613.1 L1527.7,2609.3 L1528.9,2605.4 L1530.1,2601.6 L1531.4,2597.8 L1532.6,2594.0 L1533.9,2590.1 L1535.1,2586.3 L1536.4,2582.5 L1537.7,2578.7 L1538.9,2574.9 L1540.2,2571.1 L1541.5,2567.3 L1542.8,2563.5 L1544.1,2559.7 L1545.5,2555.9 L1546.8,2552.1 L1548.1,2548.3 L1549.5,2544.5 L1550.8,2540.7 L1552.2,2536.9 L1553.5,2533.1 L1554.9,2529.3 L1556.3,2525.5 L1557.7,2521.8 L1559.1,2518.0 L1560.5,2514.2 L1561.9,2510.4 L1563.3,2506.7 L1564.7,2502.9 L1566.1,2499.2 L1567.6,2495.4 L1569.0,2491.6 L1570.5,2487.9 L1571.9,2484.1 L1573.4,2480.4 L1574.8,2476.6 L1576.3,2472.9 L1577.8,2469.1 L1579.3,2465.4 L1580.8,2461.7 L1582.3,2457.9 L1583.8,2454.2 L1585.3,2450.4 L1586.8,2446.7 L1588.4,2443.0 L1589.9,2439.3 L1591.4,2435.5 L1593.0,2431.8 L1594.5,2428.1 L1596.1,2424.4 L1597.6,2420.7 L1599.2,2417.0 L1600.8,2413.3 L1602.4,2409.5 L1604.0,2405.8 L1605.6,2402.1 L1607.2,2398.4 L1608.8,2394.7 L1610.4,2391.0 L1612.0,2387.3 L1613.6,2383.7 L1615.2,2380.0 L1616.9,2376.3 L1618.5,2372.6 L1620.2,2368.9 L1621.8,2365.2 L1623.5,2361.6 L1625.1,2357.9 L1626.8,2354.2 L1628.5,2350.5 L1630.1,2346.9 L1631.8,2343.2 L1633.5,2339.5 L1635.2,2335.9 L1636.9,2332.2 L1638.6,2328.6 L1640.3,2324.9 L1642.0,2321.2 L1643.7,2317.6 L1645.5,2313.9 L1647.2,2310.3 L1648.9,2306.6 L1650.7,2303.0 L1652.4,2299.4 L1654.2,2295.7 L1655.9,2292.1 L1657.7,2288.5 L1659.4,2284.8 L1661.2,2281.2 L1663.0,2277.6 L1664.7,2273.9 L1666.5,2270.3 L1668.3,2266.7 L1670.1,2263.1 L1671.9,2259.5 L1673.7,2255.8 L1675.5,2252.2 L1677.3,2248.6 L1679.1,2245.0 L1680.9,2241.4 L1682.7,2237.8 L1684.6,2234.2 L1686.4,2230.6 L1688.2,2227.0 L1690.0,2223.4 L1691.9,2219.8 L1693.7,2216.2 L1695.6,2212.6 L1697.4,2209.0 L1699.3,2205.4 L1701.1,2201.8 L1703.0,2198.3 L1704.9,2194.7 L1706.7,2191.1 L1708.6,2187.5 L1710.5,2184.0 L1712.3,2180.4 L1714.2,2176.8 L1716.1,2173.2 L1718.0,2169.7 L1719.9,2166.1 L1721.8,2162.5 L1723.7,2159.0 L1725.6,2155.4 L1727.5,2151.9 L1729.4,2148.3 L1731.3,2144.8 L1733.2,2141.2 L1735.1,2137.7 L1737.1,2134.1 L1739.0,2130.6 L1740.9,2127.0 L1742.8,2123.5 L1744.8,2119.9 L1746.7,2116.4 L1748.7,2112.9 L1750.6,2109.3 L1752.5,2105.8 L1754.5,2102.3 L1756.4,2098.7 L1758.4,2095.2 L1760.3,2091.7 L1762.3,2088.2 L1764.2,2084.6 L1766.2,2081.1 L1768.2,2077.6 L1770.1,2074.1 L1772.1,2070.6 L1774.1,2067.1 L1776.0,2063.6 L1778.0,2060.0 L1780.0,2056.5 L1782.0,2053.0 L1784.0,2049.5 L1785.9,2046.0 L1787.9,2042.5 L1789.9,2039.0 L1791.9,2035.5 L1793.9,2032.0 L1795.9,2028.6 L1797.9,2025.1 L1799.9,2021.6 L1801.9,2018.1 L1803.9,2014.6 L1805.9,2011.1 L1807.9,2007.6 L1809.9,2004.2 L1811.9,2000.7 L1813.9,1997.2 L1815.9,1993.7 L1817.9,1990.3 L1819.9,1986.8 L1821.9,1983.3 L1823.9,1979.9 L1825.9,1976.4 L1828.0,1972.9 L1830.0,1969.5 L1832.0,1966.0 L1832.0,1966.0 L1831.9,1962.0 L1831.7,1957.9 L1831.6,1953.9 L1831.5,1949.8 L1831.3,1945.8 L1831.2,1941.8 L1831.1,1937.7 L1830.9,1933.7 L1830.8,1929.6 L1830.7,1925.6 L1830.5,1921.6 L1830.4,1917.5 L1830.3,1913.5 L1830.1,1909.4 L1830.0,1905.4 L1829.9,1901.3 L1829.7,1897.3 L1829.6,1893.3 L1829.5,1889.2 L1829.3,1885.2 L1829.2,1881.1 L1829.0,1877.1 L1828.9,1873.1 L1828.8,1869.0 L1828.6,1865.0 L1828.5,1860.9 L1828.4,1856.9 L1828.2,1852.9 L1828.1,1848.8 L1827.9,1844.8 L1827.8,1840.7 L1827.7,1836.7 L1827.5,1832.7 L1827.4,1828.6 L1827.2,1824.6 L1827.1,1820.5 L1827.0,1816.5 L1826.8,1812.5 L1826.7,1808.4 L1826.5,1804.4 L1826.4,1800.3 L1826.2,1796.3 L1826.1,1792.3 L1826.0,1788.2 L1825.8,1784.2 L1825.7,1780.1 L1825.5,1776.1 L1825.4,1772.1 L1825.2,1768.0 L1825.1,1764.0 L1824.9,1759.9 L1824.8,1755.9 L1824.7,1751.9 L1824.5,1747.8 L1824.4,1743.8 L1824.2,1739.7 L1824.1,1735.7 L1823.9,1731.7 L1823.8,1727.6 L1823.6,1723.6 L1823.5,1719.5 L1823.3,1715.5 L1823.2,1711.5 L1823.0,1707.4 L1822.9,1703.4 L1822.7,1699.3 L1822.6,1695.3 L1822.4,1691.3 L1822.3,1687.2 L1822.1,1683.2 L1822.0,1679.1 L1821.8,1675.1 L1821.7,1671.1 L1821.5,1667.0 L1821.4,1663.0 L1821.2,1658.9 L1821.1,1654.9 L1820.9,1650.9 L1820.7,1646.8 L1820.6,1642.8 L1820.4,1638.7 L1820.3,1634.7 L1820.1,1630.7 L1820.0,1626.6 L1819.8,1622.6 L1819.7,1618.5 L1819.5,1614.5 L1819.3,1610.5 L1819.2,1606.4 L1819.0,1602.4 L1818.9,1598.3 L1818.7,1594.3 L1818.6,1590.3 L1818.4,1586.2 L1818.2,1582.2 L1818.1,1578.1 L1817.9,1574.1 L1817.8,1570.1 L1817.6,1566.0 L1817.4,1562.0 L1817.3,1557.9 L1817.1,1553.9 L1817.0,1549.9 L1816.8,1545.8 L1816.6,1541.8 L1816.5,1537.7 L1816.3,1533.7 L1816.2,1529.7 L1816.0,1525.6 L1815.8,1521.6 L1815.7,1517.5 L1815.5,1513.5 L1815.5,1513.5 L1734.7,1594.0 L1703.7,1546.0 L1773.5,1493.4 L1670.0,1491.0 L1670.0,1491.0 L1668.5,1485.1 L1667.6,1479.7 L1667.3,1474.8 L1667.4,1470.3 L1668.0,1466.3 L1669.0,1462.7 L1670.4,1459.5 L1672.2,1456.6 L1674.4,1454.0 L1676.8,1451.8 L1679.6,1449.8 L1682.6,1448.0 L1685.8,1446.5 L1689.2,1445.2 L1692.7,1444.0 L1696.4,1442.9 L1700.2,1442.0 L1704.1,1441.2 L1708.1,1440.4 L1712.1,1439.8 L1716.3,1439.2 L1720.5,1438.7 L1724.7,1438.2 L1729.0,1437.8 L1733.3,1437.4 L1737.7,1437.0 L1742.0,1436.6 L1746.4,1436.2 L1750.7,1435.7 L1755.0,1435.3 L1759.3,1434.8 L1763.6,1434.2 L1767.8,1433.6 L1771.9,1432.9 L1776.0,1432.1 L1780.0,1431.2 L1784.0,1430.3 L1788.0,1429.2 L1791.9,1428.1 L1795.7,1426.9 L1799.5,1425.5 L1803.3,1424.1 L1807.0,1422.6 L1810.7,1420.9 L1814.3,1419.1 L1817.9,1417.2 L1821.5,1415.2 L1825.0,1413.0 L1825.0,1413.0 L1827.0,1409.6 L1828.6,1406.1 L1829.9,1402.4 L1830.9,1398.7 L1831.7,1394.9 L1832.4,1391.0 L1833.0,1387.1 L1833.6,1383.2 L1834.1,1379.2 L1834.5,1375.3 L1834.9,1371.3 L1835.3,1367.3 L1835.6,1363.3 L1835.9,1359.3 L1836.1,1355.3 L1836.3,1351.3 L1836.5,1347.2 L1836.6,1343.1 L1836.7,1339.1 L1836.7,1335.0 L1836.8,1330.9 L1836.8,1326.8 L1836.8,1322.7 L1836.7,1318.6 L1836.7,1314.5 L1836.6,1310.3 L1836.5,1306.2 L1836.4,1302.1 L1836.3,1297.9 L1836.1,1293.8 L1836.0,1289.7 L1835.9,1285.5 L1835.7,1281.4 L1835.6,1277.2 L1835.4,1273.1 L1835.2,1269.0 L1835.1,1264.8 L1834.9,1260.7 L1834.8,1256.6 L1834.7,1252.5 L1834.6,1248.4 L1834.4,1244.3 L1834.3,1240.2 L1834.2,1236.1 L1834.1,1232.0 L1834.0,1227.9 L1833.9,1223.8 L1833.8,1219.7 L1833.7,1215.6 L1833.6,1211.6 L1833.5,1207.5 L1833.4,1203.4 L1833.3,1199.4 L1833.2,1195.3 L1833.0,1191.2 L1832.9,1187.2 L1832.8,1183.1 L1832.6,1179.1 L1832.4,1175.0 L1832.3,1171.0 L1832.1,1167.0 L1831.9,1162.9 L1831.6,1158.9 L1831.4,1154.8 L1831.1,1150.8 L1830.9,1146.8 L1830.6,1142.7 L1830.3,1138.7 L1829.9,1134.7 L1829.6,1130.6 L1829.2,1126.6 L1828.8,1122.6 L1828.3,1118.5 L1827.9,1114.5 L1827.4,1110.5 L1826.9,1106.4 L1826.3,1102.4 L1825.7,1098.4 L1825.1,1094.3 L1824.5,1090.3 L1823.8,1086.3 L1823.1,1082.2 L1822.3,1078.2 L1821.5,1074.2 L1820.7,1070.1 L1819.9,1066.1 L1818.9,1062.0 L1818.0,1058.0 Z" fill="url(#gBlue)"/>
<g fill="none" stroke="#6fd0f7" stroke-width="15" stroke-linecap="round" opacity="0.4">
<path d="M1855.0,1075.0 C1855.5,1129.2 1856.8,1299.2 1858.0,1400.0 C1859.2,1500.8 1861.0,1588.7 1862.0,1680.0 C1863.0,1771.3 1863.7,1903.3 1864.0,1948.0" stroke="url(#gStripe)"/>
<path d="M1798.0,2043.0 C1782.5,2075.0 1733.3,2177.2 1705.0,2235.0 C1676.7,2292.8 1652.2,2335.8 1628.0,2390.0 C1603.8,2444.2 1576.3,2515.0 1560.0,2560.0 C1543.7,2605.0 1535.0,2643.3 1530.0,2660.0"/>
<path d="M2101.0,2139.0 C2118.7,2155.0 2176.3,2201.8 2207.0,2235.0 C2237.7,2268.2 2266.5,2307.8 2285.0,2338.0 C2303.5,2368.2 2312.5,2403.0 2318.0,2416.0"/>
</g>
<path d="M1907.0,1058.0 L2056.7,1058.0 L2056.7,1058.0 L2056.8,1061.8 L2056.8,1065.7 L2056.7,1069.5 L2056.7,1073.4 L2056.5,1077.3 L2056.4,1081.2 L2056.2,1085.1 L2055.9,1089.1 L2055.7,1093.0 L2055.4,1097.0 L2055.0,1101.0 L2054.7,1105.0 L2054.3,1109.1 L2053.9,1113.1 L2053.4,1117.1 L2053.0,1121.2 L2052.5,1125.3 L2052.1,1129.3 L2051.6,1133.4 L2051.1,1137.5 L2050.6,1141.6 L2050.1,1145.7 L2049.6,1149.8 L2049.1,1153.9 L2048.6,1158.1 L2048.1,1162.2 L2047.6,1166.3 L2047.1,1170.4 L2046.7,1174.6 L2046.2,1178.7 L2045.8,1182.8 L2045.4,1187.0 L2045.0,1191.1 L2044.7,1195.2 L2044.3,1199.4 L2044.0,1203.5 L2043.8,1207.6 L2043.5,1211.7 L2043.3,1215.8 L2043.2,1219.9 L2043.1,1224.0 L2043.0,1228.1 L2043.0,1232.2 L2043.0,1236.3 L2043.1,1240.3 L2043.2,1244.4 L2043.4,1248.4 L2043.6,1252.4 L2043.9,1256.5 L2044.3,1260.5 L2044.7,1264.4 L2045.2,1268.4 L2045.7,1272.4 L2046.4,1276.3 L2047.1,1280.2 L2047.9,1284.1 L2048.7,1288.0 L2049.7,1291.9 L2050.7,1295.7 L2051.8,1299.5 L2053.0,1303.3 L2054.3,1307.0 L2055.6,1310.7 L2057.0,1314.4 L2058.5,1318.0 L2060.1,1321.6 L2061.8,1325.1 L2063.6,1328.6 L2065.4,1332.0 L2067.4,1335.4 L2069.4,1338.7 L2071.5,1342.0 L2073.7,1345.1 L2076.0,1348.3 L2078.4,1351.3 L2080.9,1354.3 L2083.5,1357.2 L2086.2,1360.0 L2088.9,1362.8 L2091.8,1365.4 L2094.7,1368.0 L2097.7,1370.6 L2100.8,1373.0 L2103.9,1375.4 L2107.2,1377.7 L2110.5,1380.0 L2113.8,1382.2 L2117.2,1384.3 L2120.7,1386.4 L2124.3,1388.4 L2127.9,1390.3 L2131.5,1392.2 L2135.2,1394.1 L2138.9,1395.9 L2142.7,1397.6 L2146.5,1399.3 L2150.3,1400.9 L2154.2,1402.5 L2158.1,1404.1 L2162.0,1405.6 L2166.0,1407.0 L2169.9,1408.4 L2173.9,1409.8 L2177.9,1411.2 L2181.9,1412.5 L2185.9,1413.8 L2189.9,1415.0 L2193.9,1416.2 L2197.9,1417.4 L2201.9,1418.6 L2205.9,1419.7 L2209.8,1420.8 L2213.8,1421.9 L2217.7,1422.9 L2221.7,1424.0 L2225.6,1425.0 L2229.4,1426.0 L2233.3,1426.9 L2237.2,1427.9 L2241.0,1428.8 L2244.8,1429.6 L2248.7,1430.5 L2252.5,1431.3 L2256.4,1432.0 L2260.2,1432.7 L2264.0,1433.4 L2267.9,1434.0 L2271.8,1434.6 L2275.6,1435.1 L2279.5,1435.6 L2283.5,1436.0 L2287.4,1436.4 L2291.4,1436.7 L2295.3,1436.9 L2299.4,1437.1 L2303.4,1437.2 L2307.5,1437.3 L2311.6,1437.3 L2315.8,1437.2 L2320.0,1437.0 L2320.0,1492.0 L2316.0,1491.3 L2311.9,1490.6 L2307.9,1489.9 L2303.8,1489.2 L2299.7,1488.5 L2295.7,1487.8 L2291.6,1487.1 L2287.6,1486.4 L2283.5,1485.6 L2279.5,1484.9 L2275.4,1484.2 L2271.4,1483.5 L2267.3,1482.7 L2263.3,1482.0 L2259.2,1481.3 L2255.2,1480.5 L2251.2,1479.8 L2247.1,1479.0 L2243.1,1478.2 L2239.0,1477.4 L2235.0,1476.7 L2231.0,1475.9 L2226.9,1475.0 L2222.9,1474.2 L2218.9,1473.4 L2214.8,1472.6 L2210.8,1471.7 L2206.8,1470.8 L2202.8,1470.0 L2198.8,1469.1 L2194.8,1468.2 L2190.7,1467.3 L2186.7,1466.3 L2182.7,1465.4 L2178.8,1464.4 L2174.8,1463.4 L2170.8,1462.5 L2166.8,1461.4 L2162.8,1460.4 L2158.8,1459.4 L2154.9,1458.3 L2150.9,1457.2 L2147.0,1456.1 L2143.0,1455.0 L2139.1,1453.9 L2135.1,1452.7 L2131.2,1451.5 L2127.3,1450.3 L2123.3,1449.1 L2119.4,1447.8 L2115.5,1446.6 L2111.6,1445.3 L2107.7,1444.0 L2103.8,1442.6 L2100.0,1441.2 L2096.1,1439.8 L2092.2,1438.4 L2088.4,1437.0 L2084.5,1435.5 L2080.7,1434.0 L2076.8,1432.5 L2073.0,1430.9 L2069.2,1429.3 L2065.4,1427.7 L2061.6,1426.1 L2057.8,1424.4 L2054.0,1422.7 L2054.0,1422.7 L2054.4,1965.5 L2054.4,1965.5 L2058.2,1967.2 L2062.0,1968.8 L2065.8,1970.5 L2069.5,1972.2 L2073.3,1973.9 L2077.0,1975.7 L2080.7,1977.4 L2084.5,1979.2 L2088.2,1981.0 L2091.9,1982.8 L2095.6,1984.6 L2099.2,1986.4 L2102.9,1988.3 L2106.5,1990.2 L2110.2,1992.1 L2113.8,1994.0 L2117.4,1995.9 L2121.0,1997.8 L2124.6,1999.8 L2128.2,2001.8 L2131.8,2003.7 L2135.3,2005.8 L2138.9,2007.8 L2142.4,2009.8 L2146.0,2011.9 L2149.5,2013.9 L2153.0,2016.0 L2156.5,2018.1 L2159.9,2020.3 L2163.4,2022.4 L2166.8,2024.5 L2170.3,2026.7 L2173.7,2028.9 L2177.1,2031.1 L2180.5,2033.3 L2183.9,2035.5 L2187.3,2037.8 L2190.7,2040.0 L2194.0,2042.3 L2197.3,2044.6 L2200.7,2046.9 L2204.0,2049.2 L2207.3,2051.6 L2210.6,2053.9 L2213.8,2056.3 L2217.1,2058.7 L2220.4,2061.1 L2223.6,2063.5 L2226.8,2065.9 L2230.0,2068.4 L2233.2,2070.8 L2236.4,2073.3 L2239.6,2075.8 L2242.7,2078.3 L2245.9,2080.8 L2249.0,2083.3 L2252.1,2085.9 L2255.2,2088.5 L2258.3,2091.0 L2261.4,2093.6 L2264.5,2096.2 L2267.5,2098.8 L2270.5,2101.5 L2273.6,2104.1 L2276.6,2106.8 L2279.6,2109.4 L2282.5,2112.1 L2285.5,2114.8 L2288.5,2117.5 L2291.4,2120.3 L2294.3,2123.0 L2297.2,2125.8 L2300.1,2128.5 L2303.0,2131.3 L2305.9,2134.1 L2308.7,2136.9 L2311.6,2139.7 L2314.4,2142.6 L2317.2,2145.4 L2320.0,2148.3 L2322.8,2151.2 L2325.5,2154.0 L2328.3,2156.9 L2331.0,2159.9 L2333.7,2162.8 L2336.4,2165.7 L2339.1,2168.7 L2341.8,2171.6 L2344.5,2174.6 L2347.1,2177.6 L2349.7,2180.6 L2352.3,2183.6 L2354.9,2186.6 L2357.5,2189.7 L2360.1,2192.7 L2362.6,2195.8 L2365.2,2198.8 L2367.7,2201.9 L2370.2,2205.0 L2372.7,2208.1 L2375.2,2211.3 L2377.6,2214.4 L2380.1,2217.5 L2382.5,2220.7 L2384.9,2223.9 L2387.3,2227.0 L2389.7,2230.2 L2392.1,2233.4 L2394.4,2236.6 L2396.8,2239.9 L2399.1,2243.1 L2401.4,2246.3 L2403.7,2249.6 L2405.9,2252.9 L2408.2,2256.2 L2410.4,2259.4 L2412.6,2262.7 L2414.9,2266.1 L2417.0,2269.4 L2419.2,2272.7 L2421.4,2276.1 L2423.5,2279.4 L2425.6,2282.8 L2427.7,2286.2 L2429.8,2289.5 L2431.9,2292.9 L2433.9,2296.4 L2436.0,2299.8 L2438.0,2303.2 L2440.0,2306.6 L2442.0,2310.1 L2444.0,2313.5 L2445.9,2317.0 L2447.9,2320.5 L2449.8,2324.0 L2451.7,2327.5 L2453.6,2331.0 L2455.4,2334.5 L2457.3,2338.0 L2459.1,2341.5 L2461.0,2345.1 L2462.8,2348.6 L2464.6,2352.2 L2466.4,2355.8 L2468.1,2359.3 L2469.9,2362.9 L2471.6,2366.5 L2473.3,2370.1 L2475.0,2373.7 L2476.7,2377.3 L2478.4,2381.0 L2480.1,2384.6 L2481.7,2388.3 L2483.4,2391.9 L2485.0,2395.6 L2486.6,2399.2 L2488.2,2402.9 L2489.8,2406.6 L2491.3,2410.3 L2492.9,2414.0 L2494.4,2417.7 L2495.9,2421.4 L2497.5,2425.1 L2499.0,2428.8 L2500.4,2432.5 L2501.9,2436.3 L2503.4,2440.0 L2504.8,2443.8 L2506.3,2447.5 L2507.7,2451.3 L2509.1,2455.1 L2510.5,2458.8 L2511.9,2462.6 L2513.3,2466.4 L2514.6,2470.2 L2516.0,2474.0 L2517.3,2477.8 L2518.7,2481.6 L2520.0,2485.4 L2521.3,2489.2 L2522.6,2493.0 L2523.9,2496.9 L2525.2,2500.7 L2526.4,2504.6 L2527.7,2508.4 L2528.9,2512.2 L2530.2,2516.1 L2531.4,2520.0 L2532.6,2523.8 L2533.8,2527.7 L2535.0,2531.6 L2536.2,2535.4 L2537.4,2539.3 L2538.5,2543.2 L2539.7,2547.1 L2540.8,2551.0 L2542.0,2554.9 L2543.1,2558.8 L2544.2,2562.7 L2545.3,2566.6 L2546.4,2570.5 L2547.5,2574.4 L2548.6,2578.3 L2549.7,2582.2 L2550.8,2586.1 L2551.8,2590.1 L2552.9,2594.0 L2553.9,2597.9 L2555.0,2601.8 L2556.0,2605.8 L2557.0,2609.7 L2558.0,2613.6 L2559.0,2617.6 L2560.0,2621.5 L2561.0,2625.5 L2562.0,2629.4 L2563.0,2633.4 L2564.0,2637.3 L2565.0,2641.3 L2565.9,2645.2 L2566.9,2649.2 L2567.8,2653.1 L2568.8,2657.1 L2569.7,2661.0 L2570.6,2665.0 L2571.5,2668.9 L2572.5,2672.9 L2573.4,2676.9 L2574.3,2680.8 L2575.2,2684.8 L2576.1,2688.7 L2577.0,2692.7 L2577.9,2696.7 L2578.7,2700.6 L2579.6,2704.6 L2580.5,2708.5 L2581.4,2712.5 L2582.2,2716.5 L2583.1,2720.4 L2583.9,2724.4 L2584.8,2728.4 L2585.6,2732.3 L2586.5,2736.3 L2587.3,2740.2 L2588.2,2744.2 L2589.0,2748.1 L2589.8,2752.1 L2590.7,2756.0 L2591.5,2760.0 L2592.3,2764.0 L2593.1,2767.9 L2593.9,2771.8 L2594.7,2775.8 L2595.5,2779.7 L2596.4,2783.7 L2597.2,2787.6 L2598.0,2791.6 L2598.8,2795.5 L2599.6,2799.4 L2600.4,2803.4 L2601.1,2807.3 L2601.9,2811.2 L2602.7,2815.1 L2603.5,2819.1 L2604.3,2823.0 L2605.1,2826.9 L2605.9,2830.8 L2606.7,2834.7 L2607.5,2838.6 L2608.2,2842.5 L2609.0,2846.4 L2609.8,2850.3 L2610.6,2854.2 L2611.4,2858.1 L2612.1,2862.0 L2612.9,2865.9 L2613.7,2869.7 L2614.5,2873.6 L2614.5,2873.6 L2542.0,2855.5 L2542.0,2855.5 L2541.2,2851.5 L2540.5,2847.6 L2539.7,2843.6 L2539.0,2839.6 L2538.2,2835.7 L2537.4,2831.7 L2536.6,2827.7 L2535.8,2823.8 L2535.0,2819.8 L2534.2,2815.8 L2533.4,2811.9 L2532.6,2807.9 L2531.8,2803.9 L2530.9,2799.9 L2530.1,2796.0 L2529.2,2792.0 L2528.4,2788.0 L2527.5,2784.1 L2526.7,2780.1 L2525.8,2776.1 L2524.9,2772.1 L2524.0,2768.2 L2523.1,2764.2 L2522.2,2760.2 L2521.3,2756.3 L2520.3,2752.3 L2519.4,2748.4 L2518.5,2744.4 L2517.5,2740.4 L2516.5,2736.5 L2515.6,2732.5 L2514.6,2728.6 L2513.6,2724.6 L2512.6,2720.7 L2511.6,2716.7 L2510.5,2712.8 L2509.5,2708.9 L2508.4,2704.9 L2507.4,2701.0 L2506.3,2697.1 L2505.2,2693.1 L2504.1,2689.2 L2503.0,2685.3 L2501.9,2681.4 L2500.8,2677.5 L2499.6,2673.6 L2498.5,2669.7 L2497.3,2665.8 L2496.1,2661.9 L2495.0,2658.0 L2493.7,2654.1 L2492.5,2650.2 L2491.3,2646.3 L2490.1,2642.5 L2488.8,2638.6 L2487.5,2634.7 L2486.2,2630.9 L2484.9,2627.0 L2483.6,2623.2 L2482.3,2619.4 L2481.0,2615.5 L2479.6,2611.7 L2478.2,2607.9 L2476.8,2604.0 L2475.4,2600.2 L2474.0,2596.4 L2472.6,2592.6 L2471.1,2588.8 L2469.7,2585.1 L2468.2,2581.3 L2466.7,2577.5 L2465.2,2573.8 L2463.6,2570.0 L2462.1,2566.2 L2460.5,2562.5 L2458.9,2558.8 L2457.3,2555.0 L2455.7,2551.3 L2454.1,2547.6 L2452.4,2543.9 L2450.8,2540.2 L2449.1,2536.5 L2447.4,2532.9 L2445.7,2529.2 L2443.9,2525.5 L2442.2,2521.9 L2440.4,2518.2 L2438.6,2514.6 L2436.8,2511.0 L2434.9,2507.4 L2433.1,2503.8 L2431.2,2500.2 L2429.3,2496.6 L2427.4,2493.0 L2425.5,2489.4 L2423.5,2485.9 L2421.5,2482.3 L2419.5,2478.8 L2417.5,2475.3 L2415.5,2471.7 L2413.4,2468.2 L2411.3,2464.7 L2409.2,2461.3 L2407.1,2457.8 L2405.0,2454.3 L2402.8,2450.9 L2400.6,2447.4 L2398.4,2444.0 L2398.4,2444.0 L2395.0,2446.5 L2391.6,2449.1 L2388.2,2451.5 L2384.8,2453.9 L2381.3,2456.3 L2377.8,2458.6 L2374.3,2460.9 L2370.8,2463.2 L2367.2,2465.4 L2363.7,2467.5 L2360.1,2469.6 L2356.5,2471.7 L2352.9,2473.8 L2349.2,2475.8 L2345.6,2477.7 L2341.9,2479.7 L2338.2,2481.6 L2334.5,2483.4 L2330.7,2485.3 L2327.0,2487.0 L2323.2,2488.8 L2319.5,2490.5 L2315.7,2492.2 L2311.9,2493.8 L2308.0,2495.5 L2304.2,2497.1 L2300.3,2498.6 L2296.5,2500.1 L2292.6,2501.6 L2288.7,2503.1 L2284.8,2504.5 L2280.9,2506.0 L2277.0,2507.3 L2273.0,2508.7 L2269.1,2510.0 L2265.1,2511.3 L2261.1,2512.6 L2257.2,2513.8 L2253.2,2515.1 L2249.2,2516.3 L2245.2,2517.4 L2241.2,2518.6 L2237.1,2519.7 L2233.1,2520.8 L2229.0,2521.9 L2225.0,2523.0 L2225.0,2523.0 L2220.0,2525.2 L2215.5,2526.2 L2211.7,2526.1 L2208.4,2525.0 L2205.6,2523.1 L2203.4,2520.4 L2201.7,2517.1 L2200.6,2513.3 L2199.9,2509.1 L2199.7,2504.6 L2199.9,2499.9 L2200.7,2495.3 L2201.8,2490.6 L2203.4,2486.2 L2205.3,2482.1 L2207.7,2478.4 L2210.4,2475.2 L2213.5,2472.7 L2217.0,2471.0 L2217.0,2471.0 L2220.5,2468.9 L2224.1,2466.8 L2227.6,2464.7 L2231.2,2462.6 L2234.8,2460.6 L2238.4,2458.6 L2242.1,2456.6 L2245.7,2454.7 L2249.3,2452.8 L2253.0,2450.9 L2256.7,2449.0 L2260.4,2447.1 L2264.0,2445.3 L2267.8,2443.5 L2271.5,2441.6 L2275.2,2439.9 L2278.9,2438.1 L2282.6,2436.3 L2286.4,2434.6 L2290.1,2432.8 L2293.9,2431.1 L2297.6,2429.4 L2301.4,2427.6 L2305.2,2425.9 L2308.9,2424.2 L2312.7,2422.5 L2316.5,2420.8 L2320.2,2419.1 L2324.0,2417.4 L2327.8,2415.7 L2331.5,2414.0 L2335.3,2412.3 L2339.1,2410.6 L2342.8,2408.9 L2346.6,2407.2 L2350.3,2405.5 L2354.1,2403.8 L2357.8,2402.0 L2361.5,2400.3 L2365.3,2398.5 L2369.0,2396.8 L2372.7,2395.0 L2372.7,2395.0 L2371.1,2391.4 L2369.5,2387.9 L2367.9,2384.3 L2366.3,2380.7 L2364.6,2377.1 L2362.9,2373.6 L2361.2,2370.0 L2359.5,2366.4 L2357.8,2362.9 L2356.0,2359.3 L2354.2,2355.8 L2352.4,2352.2 L2350.6,2348.7 L2348.8,2345.1 L2346.9,2341.6 L2345.0,2338.0 L2343.1,2334.5 L2341.2,2331.0 L2339.3,2327.5 L2337.3,2324.0 L2335.3,2320.5 L2333.3,2317.0 L2331.3,2313.5 L2329.2,2310.1 L2327.2,2306.6 L2325.1,2303.1 L2322.9,2299.7 L2320.8,2296.3 L2318.6,2292.9 L2316.4,2289.5 L2314.2,2286.1 L2312.0,2282.7 L2309.7,2279.3 L2307.4,2276.0 L2305.1,2272.6 L2302.8,2269.3 L2300.5,2266.0 L2298.1,2262.7 L2295.7,2259.4 L2293.2,2256.2 L2290.8,2252.9 L2288.3,2249.7 L2285.8,2246.5 L2283.3,2243.3 L2280.7,2240.1 L2278.2,2237.0 L2275.5,2233.8 L2272.9,2230.7 L2270.3,2227.6 L2267.6,2224.6 L2264.9,2221.5 L2262.1,2218.5 L2259.4,2215.5 L2256.6,2212.5 L2253.8,2209.5 L2250.9,2206.6 L2248.1,2203.7 L2245.2,2200.8 L2242.2,2197.9 L2239.3,2195.1 L2236.3,2192.2 L2233.3,2189.5 L2230.3,2186.7 L2227.2,2184.0 L2224.1,2181.2 L2221.0,2178.6 L2217.8,2175.9 L2214.7,2173.3 L2211.5,2170.7 L2208.2,2168.1 L2205.0,2165.6 L2201.7,2163.1 L2198.3,2160.6 L2195.0,2158.2 L2191.6,2155.8 L2188.2,2153.4 L2184.7,2151.0 L2181.3,2148.7 L2177.8,2146.4 L2174.2,2144.2 L2170.7,2142.0 L2167.1,2139.8 L2163.5,2137.7 L2159.8,2135.6 L2156.2,2133.5 L2152.5,2131.5 L2148.8,2129.5 L2145.0,2127.6 L2141.3,2125.7 L2137.5,2123.9 L2133.7,2122.1 L2129.9,2120.4 L2126.1,2118.7 L2122.3,2117.0 L2118.4,2115.4 L2114.6,2113.9 L2110.7,2112.4 L2106.8,2111.0 L2103.0,2109.6 L2099.1,2108.3 L2095.2,2107.0 L2091.3,2105.8 L2087.3,2104.7 L2083.4,2103.6 L2079.5,2102.6 L2075.6,2101.6 L2071.7,2100.7 L2067.8,2099.9 L2063.8,2099.1 L2059.9,2098.5 L2056.0,2097.8 L2052.1,2097.3 L2048.2,2096.8 L2044.3,2096.4 L2040.4,2096.1 L2036.6,2095.8 L2032.7,2095.6 L2028.8,2095.5 L2025.0,2095.5 L2021.2,2095.6 L2017.4,2095.7 L2013.6,2095.9 L2009.8,2096.2 L2006.0,2096.6 L2002.3,2097.0 L1998.5,2097.6 L1994.8,2098.2 L1991.2,2098.9 L1987.5,2099.7 L1983.8,2100.6 L1980.2,2101.5 L1976.6,2102.6 L1973.0,2103.7 L1969.5,2104.9 L1965.9,2106.1 L1962.4,2107.4 L1958.9,2108.8 L1955.4,2110.3 L1951.9,2111.8 L1948.5,2113.4 L1945.1,2115.1 L1941.7,2116.9 L1938.3,2118.7 L1935.0,2120.5 L1931.7,2122.5 L1928.4,2124.5 L1925.1,2126.5 L1921.9,2128.7 L1918.7,2130.8 L1915.5,2133.1 L1912.3,2135.4 L1909.1,2137.7 L1906.0,2140.1 L1902.9,2142.6 L1899.9,2145.1 L1896.8,2147.7 L1893.8,2150.3 L1890.8,2153.0 L1887.9,2155.7 L1884.9,2158.5 L1882.0,2161.3 L1879.2,2164.2 L1876.3,2167.1 L1873.5,2170.1 L1870.7,2173.1 L1867.9,2176.1 L1865.2,2179.2 L1862.5,2182.3 L1859.8,2185.5 L1857.2,2188.7 L1854.6,2192.0 L1852.0,2195.2 L1849.4,2198.5 L1846.9,2201.9 L1844.4,2205.3 L1842.0,2208.7 L1839.6,2212.1 L1837.2,2215.6 L1834.8,2219.1 L1832.5,2222.7 L1830.2,2226.2 L1827.9,2229.8 L1825.7,2233.4 L1823.5,2237.1 L1821.3,2240.7 L1819.2,2244.4 L1817.1,2248.1 L1815.1,2251.9 L1813.0,2255.6 L1811.0,2259.4 L1809.1,2263.2 L1807.2,2267.0 L1805.3,2270.8 L1803.5,2274.6 L1801.6,2278.4 L1799.9,2282.3 L1798.1,2286.2 L1796.4,2290.0 L1794.8,2293.9 L1793.2,2297.8 L1791.6,2301.7 L1790.0,2305.6 L1788.5,2309.5 L1787.1,2313.4 L1785.6,2317.4 L1784.2,2321.3 L1782.9,2325.2 L1781.6,2329.1 L1780.3,2333.0 L1779.1,2337.0 L1777.9,2340.9 L1776.7,2344.8 L1775.6,2348.7 L1774.6,2352.6 L1773.5,2356.5 L1772.6,2360.4 L1771.6,2364.3 L1770.7,2368.1 L1769.9,2372.0 L1769.1,2375.8 L1768.3,2379.6 L1767.6,2383.5 L1766.9,2387.3 L1766.2,2391.0 L1765.6,2394.8 L1765.1,2398.6 L1764.6,2402.3 L1764.1,2406.0 L1763.7,2409.7 L1763.3,2413.4 L1763.0,2417.0 L1763.0,2417.0 L1766.4,2419.7 L1769.7,2422.5 L1772.8,2425.4 L1775.9,2428.3 L1778.9,2431.2 L1781.8,2434.2 L1784.6,2437.3 L1787.3,2440.4 L1789.9,2443.6 L1792.4,2446.8 L1794.9,2450.0 L1797.3,2453.4 L1799.6,2456.7 L1801.9,2460.1 L1804.0,2463.5 L1806.2,2467.0 L1808.2,2470.5 L1810.2,2474.0 L1812.1,2477.6 L1814.0,2481.2 L1815.9,2484.8 L1817.7,2488.4 L1819.4,2492.1 L1821.1,2495.8 L1822.8,2499.5 L1824.4,2503.3 L1826.0,2507.1 L1827.5,2510.8 L1829.1,2514.6 L1830.6,2518.5 L1832.1,2522.3 L1833.6,2526.1 L1835.0,2530.0 L1836.4,2533.8 L1837.9,2537.7 L1839.3,2541.6 L1840.7,2545.4 L1842.1,2549.3 L1843.5,2553.2 L1845.0,2557.0 L1846.4,2560.9 L1847.8,2564.8 L1849.3,2568.6 L1850.7,2572.5 L1852.2,2576.3 L1853.7,2580.1 L1855.2,2584.0 L1856.8,2587.8 L1858.4,2591.5 L1860.0,2595.3 L1861.6,2599.0 L1863.3,2602.8 L1865.0,2606.5 L1866.8,2610.1 L1868.6,2613.8 L1870.5,2617.4 L1870.5,2617.4 L1871.0,2624.0 L1866.0,2628.0 L1855.0,2628.0 L1845.0,2631.0 L1833.0,2632.0 L1822.0,2628.0 L1812.0,2620.0 L1812.0,2620.0 L1809.6,2616.5 L1807.3,2613.0 L1805.0,2609.5 L1802.7,2605.9 L1800.4,2602.4 L1798.2,2598.8 L1796.0,2595.2 L1793.9,2591.6 L1791.7,2588.0 L1789.6,2584.3 L1787.5,2580.7 L1785.4,2577.0 L1783.4,2573.3 L1781.4,2569.6 L1779.3,2565.9 L1777.3,2562.2 L1775.4,2558.5 L1773.4,2554.8 L1771.4,2551.0 L1769.5,2547.3 L1767.5,2543.6 L1765.6,2539.8 L1763.6,2536.1 L1761.7,2532.4 L1759.7,2528.6 L1757.8,2524.9 L1755.9,2521.1 L1753.9,2517.4 L1752.0,2513.6 L1750.0,2509.9 L1748.1,2506.2 L1746.1,2502.5 L1744.1,2498.8 L1742.1,2495.1 L1740.1,2491.4 L1738.0,2487.7 L1736.0,2484.0 L1736.0,2484.0 L1734.7,2488.0 L1733.5,2491.9 L1732.2,2495.9 L1730.9,2499.8 L1729.6,2503.8 L1728.4,2507.7 L1727.1,2511.6 L1725.8,2515.5 L1724.5,2519.4 L1723.2,2523.3 L1721.9,2527.2 L1720.6,2531.1 L1719.3,2535.0 L1718.0,2538.8 L1716.6,2542.7 L1715.3,2546.5 L1714.0,2550.4 L1712.7,2554.2 L1711.3,2558.0 L1710.0,2561.8 L1708.6,2565.6 L1707.3,2569.4 L1705.9,2573.2 L1704.5,2577.0 L1703.2,2580.8 L1701.8,2584.6 L1700.4,2588.4 L1699.0,2592.1 L1697.6,2595.9 L1696.2,2599.6 L1694.8,2603.4 L1693.3,2607.1 L1691.9,2610.9 L1690.5,2614.6 L1689.0,2618.3 L1687.6,2622.1 L1686.1,2625.8 L1684.6,2629.5 L1683.1,2633.2 L1681.6,2636.9 L1680.2,2640.6 L1678.6,2644.3 L1677.1,2648.0 L1675.6,2651.7 L1674.1,2655.4 L1672.5,2659.1 L1671.0,2662.8 L1669.4,2666.4 L1667.8,2670.1 L1666.2,2673.8 L1664.6,2677.5 L1663.0,2681.1 L1661.4,2684.8 L1659.8,2688.5 L1658.2,2692.1 L1656.5,2695.8 L1654.9,2699.5 L1653.2,2703.1 L1651.5,2706.8 L1649.8,2710.4 L1648.1,2714.1 L1646.4,2717.8 L1644.6,2721.4 L1642.9,2725.1 L1641.1,2728.7 L1639.4,2732.4 L1637.6,2736.0 L1635.8,2739.7 L1634.0,2743.3 L1632.2,2747.0 L1630.3,2750.6 L1628.5,2754.3 L1626.6,2758.0 L1624.8,2761.6 L1622.9,2765.3 L1621.0,2768.9 L1619.0,2772.6 L1617.1,2776.3 L1615.2,2779.9 L1613.2,2783.6 L1611.2,2787.3 L1609.2,2790.9 L1607.2,2794.6 L1605.2,2798.3 L1603.2,2802.0 L1601.1,2805.7 L1599.0,2809.3 L1597.0,2813.0 L1594.8,2816.6 L1592.6,2820.0 L1590.3,2823.2 L1587.9,2826.0 L1585.4,2828.4 L1582.7,2830.3 L1579.8,2831.5 L1576.6,2832.0 L1573.3,2831.7 L1569.9,2830.3 L1566.5,2827.8 L1563.0,2824.0 L1563.0,2824.0 L1563.6,2820.0 L1564.2,2816.0 L1564.8,2812.0 L1565.4,2808.0 L1566.0,2804.1 L1566.6,2800.1 L1567.3,2796.1 L1568.0,2792.1 L1568.6,2788.2 L1569.3,2784.2 L1570.0,2780.2 L1570.7,2776.3 L1571.5,2772.3 L1572.2,2768.4 L1573.0,2764.4 L1573.7,2760.5 L1574.5,2756.6 L1575.3,2752.6 L1576.1,2748.7 L1576.9,2744.8 L1577.7,2740.8 L1578.6,2736.9 L1579.4,2733.0 L1580.3,2729.1 L1581.2,2725.2 L1582.0,2721.3 L1582.9,2717.3 L1583.9,2713.4 L1584.8,2709.5 L1585.7,2705.6 L1586.6,2701.8 L1587.6,2697.9 L1588.6,2694.0 L1589.5,2690.1 L1590.5,2686.2 L1591.5,2682.3 L1592.5,2678.5 L1593.6,2674.6 L1594.6,2670.7 L1595.6,2666.9 L1596.7,2663.0 L1597.7,2659.1 L1598.8,2655.3 L1599.9,2651.4 L1601.0,2647.6 L1602.1,2643.7 L1603.2,2639.9 L1604.3,2636.0 L1605.5,2632.2 L1606.6,2628.4 L1607.8,2624.5 L1608.9,2620.7 L1610.1,2616.9 L1611.3,2613.1 L1612.5,2609.2 L1613.7,2605.4 L1614.9,2601.6 L1616.1,2597.8 L1617.4,2594.0 L1618.6,2590.2 L1619.9,2586.4 L1621.1,2582.6 L1622.4,2578.8 L1623.7,2575.0 L1625.0,2571.2 L1626.3,2567.4 L1627.6,2563.6 L1628.9,2559.8 L1630.2,2556.1 L1631.6,2552.3 L1632.9,2548.5 L1634.2,2544.7 L1635.6,2541.0 L1637.0,2537.2 L1638.4,2533.4 L1639.7,2529.7 L1641.1,2525.9 L1642.5,2522.2 L1644.0,2518.4 L1645.4,2514.7 L1646.8,2510.9 L1648.2,2507.2 L1649.7,2503.4 L1651.1,2499.7 L1652.6,2496.0 L1654.1,2492.2 L1655.5,2488.5 L1657.0,2484.8 L1658.5,2481.0 L1660.0,2477.3 L1661.5,2473.6 L1663.0,2469.9 L1664.6,2466.2 L1666.1,2462.4 L1667.6,2458.7 L1669.2,2455.0 L1670.7,2451.3 L1672.3,2447.6 L1673.8,2443.9 L1675.4,2440.2 L1677.0,2436.5 L1678.6,2432.8 L1680.2,2429.1 L1681.8,2425.4 L1683.4,2421.8 L1685.0,2418.1 L1686.6,2414.4 L1688.2,2410.7 L1689.8,2407.0 L1691.5,2403.4 L1693.1,2399.7 L1694.8,2396.0 L1696.4,2392.3 L1698.1,2388.7 L1699.8,2385.0 L1701.4,2381.4 L1703.1,2377.7 L1704.8,2374.0 L1706.5,2370.4 L1708.2,2366.7 L1709.9,2363.1 L1711.6,2359.4 L1713.3,2355.8 L1715.0,2352.1 L1716.8,2348.5 L1718.5,2344.9 L1720.2,2341.2 L1722.0,2337.6 L1723.7,2334.0 L1725.5,2330.3 L1727.2,2326.7 L1729.0,2323.1 L1730.7,2319.4 L1732.5,2315.8 L1734.3,2312.2 L1736.1,2308.6 L1737.8,2305.0 L1739.6,2301.3 L1741.4,2297.7 L1743.2,2294.1 L1745.0,2290.5 L1746.8,2286.9 L1748.6,2283.3 L1750.5,2279.7 L1752.3,2276.1 L1754.1,2272.5 L1755.9,2268.9 L1757.8,2265.3 L1759.6,2261.7 L1761.4,2258.1 L1763.3,2254.5 L1765.1,2251.0 L1767.0,2247.4 L1768.8,2243.8 L1770.7,2240.2 L1772.5,2236.6 L1774.4,2233.0 L1776.3,2229.5 L1778.1,2225.9 L1780.0,2222.3 L1781.9,2218.7 L1783.8,2215.2 L1785.6,2211.6 L1787.5,2208.0 L1789.4,2204.5 L1791.3,2200.9 L1793.2,2197.4 L1795.1,2193.8 L1797.0,2190.2 L1798.9,2186.7 L1800.8,2183.1 L1802.7,2179.6 L1804.6,2176.0 L1806.5,2172.5 L1808.4,2168.9 L1810.4,2165.4 L1812.3,2161.8 L1814.2,2158.3 L1816.1,2154.7 L1818.0,2151.2 L1820.0,2147.7 L1821.9,2144.1 L1823.8,2140.6 L1825.7,2137.1 L1827.7,2133.5 L1829.6,2130.0 L1831.5,2126.5 L1833.5,2122.9 L1835.4,2119.4 L1837.4,2115.9 L1839.3,2112.4 L1841.2,2108.8 L1843.2,2105.3 L1845.1,2101.8 L1847.1,2098.3 L1849.0,2094.8 L1851.0,2091.3 L1852.9,2087.7 L1854.8,2084.2 L1856.8,2080.7 L1858.7,2077.2 L1860.7,2073.7 L1862.6,2070.2 L1864.6,2066.7 L1866.5,2063.2 L1868.5,2059.7 L1870.4,2056.2 L1872.4,2052.7 L1874.3,2049.2 L1876.3,2045.7 L1878.2,2042.2 L1880.2,2038.7 L1882.1,2035.2 L1884.1,2031.7 L1886.0,2028.2 L1888.0,2024.7 L1889.9,2021.2 L1891.9,2017.7 L1893.8,2014.2 L1895.8,2010.7 L1897.7,2007.3 L1899.7,2003.8 L1901.6,2000.3 L1903.6,1996.8 L1905.5,1993.3 L1907.4,1989.8 L1909.4,1986.4 L1911.3,1982.9 L1913.3,1979.4 L1915.2,1975.9 L1917.1,1972.4 L1919.1,1969.0 L1921.0,1965.5 L1921.0,1965.5 L1920.9,1961.5 L1920.8,1957.5 L1920.7,1953.5 L1920.6,1949.4 L1920.5,1945.4 L1920.3,1941.4 L1920.2,1937.4 L1920.1,1933.4 L1920.0,1929.4 L1919.9,1925.4 L1919.7,1921.3 L1919.6,1917.3 L1919.5,1913.3 L1919.4,1909.3 L1919.2,1905.3 L1919.1,1901.3 L1919.0,1897.3 L1918.8,1893.2 L1918.7,1889.2 L1918.6,1885.2 L1918.4,1881.2 L1918.3,1877.2 L1918.1,1873.2 L1918.0,1869.2 L1917.8,1865.1 L1917.7,1861.1 L1917.5,1857.1 L1917.4,1853.1 L1917.2,1849.1 L1917.1,1845.1 L1916.9,1841.1 L1916.8,1837.0 L1916.6,1833.0 L1916.5,1829.0 L1916.3,1825.0 L1916.1,1821.0 L1916.0,1817.0 L1915.8,1813.0 L1915.7,1808.9 L1915.5,1804.9 L1915.3,1800.9 L1915.2,1796.9 L1915.0,1792.9 L1914.8,1788.9 L1914.7,1784.8 L1914.5,1780.8 L1914.3,1776.8 L1914.2,1772.8 L1914.0,1768.8 L1913.8,1764.8 L1913.7,1760.8 L1913.5,1756.7 L1913.3,1752.7 L1913.1,1748.7 L1913.0,1744.7 L1912.8,1740.7 L1912.6,1736.7 L1912.5,1732.6 L1912.3,1728.6 L1912.1,1724.6 L1911.9,1720.6 L1911.8,1716.6 L1911.6,1712.6 L1911.4,1708.6 L1911.2,1704.5 L1911.1,1700.5 L1910.9,1696.5 L1910.7,1692.5 L1910.5,1688.5 L1910.4,1684.5 L1910.2,1680.4 L1910.0,1676.4 L1909.9,1672.4 L1909.7,1668.4 L1909.5,1664.4 L1909.3,1660.4 L1909.2,1656.4 L1909.0,1652.3 L1908.8,1648.3 L1908.7,1644.3 L1908.5,1640.3 L1908.3,1636.3 L1908.1,1632.3 L1908.0,1628.2 L1907.8,1624.2 L1907.6,1620.2 L1907.5,1616.2 L1907.3,1612.2 L1907.1,1608.2 L1907.0,1604.1 L1906.8,1600.1 L1906.7,1596.1 L1906.5,1592.1 L1906.3,1588.1 L1906.2,1584.1 L1906.0,1580.1 L1905.9,1576.0 L1905.7,1572.0 L1905.6,1568.0 L1905.4,1564.0 L1905.2,1560.0 L1905.1,1556.0 L1904.9,1551.9 L1904.8,1547.9 L1904.7,1543.9 L1904.5,1539.9 L1904.4,1535.9 L1904.2,1531.9 L1904.1,1527.8 L1903.9,1523.8 L1903.8,1519.8 L1903.7,1515.8 L1903.5,1511.8 L1903.4,1507.8 L1903.3,1503.7 L1903.1,1499.7 L1903.0,1495.7 L1902.9,1491.7 L1902.8,1487.7 L1902.6,1483.7 L1902.5,1479.7 L1902.4,1475.6 L1902.3,1471.6 L1902.2,1467.6 L1902.0,1463.6 L1901.9,1459.6 L1901.8,1455.6 L1901.7,1451.5 L1901.6,1447.5 L1901.5,1443.5 L1901.4,1439.5 L1901.3,1435.5 L1901.2,1431.5 L1901.1,1427.4 L1901.0,1423.4 L1900.9,1419.4 L1900.9,1415.4 L1900.8,1411.4 L1900.7,1407.4 L1900.6,1403.3 L1900.5,1399.3 L1900.5,1395.3 L1900.4,1391.3 L1900.3,1387.3 L1900.3,1383.3 L1900.2,1379.3 L1900.1,1375.2 L1900.1,1371.2 L1900.0,1367.2 L1900.0,1363.2 L1899.9,1359.2 L1899.9,1355.2 L1899.8,1351.1 L1899.8,1347.1 L1899.8,1343.1 L1899.7,1339.1 L1899.7,1335.1 L1899.7,1331.1 L1899.6,1327.0 L1899.6,1323.0 L1899.6,1319.0 L1899.6,1315.0 L1899.6,1311.0 L1899.6,1307.0 L1899.6,1302.9 L1899.6,1298.9 L1899.6,1294.9 L1899.6,1290.9 L1899.6,1286.9 L1899.6,1282.9 L1899.6,1278.9 L1899.6,1274.8 L1899.6,1270.8 L1899.7,1266.8 L1899.7,1262.8 L1899.7,1258.8 L1899.8,1254.8 L1899.8,1250.7 L1899.9,1246.7 L1899.9,1242.7 L1900.0,1238.7 L1900.0,1234.7 L1900.1,1230.7 L1900.2,1226.6 L1900.2,1222.6 L1900.3,1218.6 L1900.4,1214.6 L1900.5,1210.6 L1900.5,1206.6 L1900.6,1202.6 L1900.7,1198.5 L1900.8,1194.5 L1900.9,1190.5 L1901.0,1186.5 L1901.2,1182.5 L1901.3,1178.5 L1901.4,1174.4 L1901.5,1170.4 L1901.6,1166.4 L1901.8,1162.4 L1901.9,1158.4 L1902.1,1154.4 L1902.2,1150.3 L1902.4,1146.3 L1902.5,1142.3 L1902.7,1138.3 L1902.9,1134.3 L1903.0,1130.3 L1903.2,1126.3 L1903.4,1122.2 L1903.6,1118.2 L1903.8,1114.2 L1904.0,1110.2 L1904.2,1106.2 L1904.4,1102.2 L1904.6,1098.2 L1904.8,1094.1 L1905.0,1090.1 L1905.3,1086.1 L1905.5,1082.1 L1905.7,1078.1 L1906.0,1074.1 L1906.2,1070.0 L1906.5,1066.0 L1906.7,1062.0 L1907.0,1058.0 Z" fill="url(#gBrown)"/>
<g fill="none" stroke="#d8b890" stroke-width="15" stroke-linecap="round" opacity="0.13">
<path d="M1912.0,1080.0 C1913.8,1145.0 1919.7,1324.2 1923.0,1470.0 C1926.3,1615.8 1930.5,1874.2 1932.0,1955.0"/>
<path d="M1927.0,2003.0 C1918.5,2015.8 1897.2,2047.2 1876.0,2080.0 C1854.8,2112.8 1829.3,2146.7 1800.0,2200.0 C1770.7,2253.3 1725.0,2346.7 1700.0,2400.0 C1675.0,2453.3 1669.7,2455.3 1650.0,2520.0 C1630.3,2584.7 1593.3,2743.3 1582.0,2788.0"/>
<path d="M2149.0,2116.0 C2167.3,2131.5 2227.8,2178.5 2259.0,2209.0 C2290.2,2239.5 2315.3,2271.0 2336.0,2299.0 C2356.7,2327.0 2375.7,2358.5 2383.0,2377.0 C2390.3,2395.5 2380.5,2404.5 2380.0,2410.0"/>
<path d="M2403.0,2431.0 C2411.8,2445.2 2438.5,2478.0 2456.0,2516.0 C2473.5,2554.0 2492.0,2603.3 2508.0,2659.0 C2524.0,2714.7 2544.7,2818.2 2552.0,2850.0"/>
</g>
<clipPath id="ck0"><path d="M1641.2,1099.5 L1645.4,1099.4 L1649.5,1099.4 L1653.7,1099.5 L1657.9,1099.7 L1662.2,1099.9 L1666.4,1100.2 L1670.6,1100.6 L1674.9,1101.0 L1679.1,1101.5 L1683.3,1102.1 L1687.6,1102.7 L1691.8,1103.4 L1696.0,1104.2 L1700.2,1105.0 L1704.4,1105.9 L1708.6,1106.9 L1712.7,1107.9 L1716.9,1109.0 L1721.0,1110.1 L1725.0,1111.3 L1729.1,1112.6 L1733.1,1113.9 L1737.0,1115.3 L1741.0,1116.7 L1744.8,1118.2 L1748.7,1119.8 L1752.5,1121.4 L1756.2,1123.0 L1759.9,1124.8 L1763.5,1126.6 L1767.1,1128.4 L1770.6,1130.3 L1774.0,1132.2 L1777.4,1134.2 L1780.7,1136.3 L1783.9,1138.4 L1787.0,1140.6 L1790.0,1142.9 L1792.9,1145.3 L1795.7,1147.9 L1798.3,1150.5 L1800.7,1153.3 L1803.0,1156.3 L1805.1,1159.4 L1807.0,1162.7 L1808.7,1166.1 L1810.2,1169.7 L1811.5,1173.4 L1812.6,1177.2 L1813.5,1181.1 L1814.2,1185.0 L1814.8,1189.1 L1815.1,1193.1 L1815.3,1197.2 L1815.3,1201.2 L1815.1,1205.3 L1814.7,1209.3 L1814.1,1213.3 L1813.3,1217.2 L1812.4,1221.0 L1811.2,1224.8 L1809.9,1228.5 L1808.5,1232.2 L1806.9,1235.8 L1805.1,1239.3 L1803.2,1242.8 L1801.2,1246.3 L1799.1,1249.7 L1796.9,1253.0 L1794.6,1256.4 L1792.1,1259.6 L1789.6,1262.9 L1787.0,1266.1 L1784.4,1269.3 L1781.7,1272.4 L1778.9,1275.6 L1776.1,1278.7 L1773.2,1281.8 L1770.3,1284.8 L1767.4,1287.9 L1764.5,1291.0 L1761.6,1294.0 L1758.7,1297.0 L1755.8,1300.1 L1752.9,1303.1 L1750.1,1306.1 L1747.3,1309.2 L1744.5,1312.2 L1741.8,1315.3 L1739.1,1318.4 L1736.5,1321.4 L1734.0,1324.6 L1731.5,1327.7 L1729.2,1330.8 L1727.0,1334.0 L1724.8,1337.2 L1722.8,1340.5 L1720.9,1343.7 L1719.2,1347.0 L1717.6,1350.4 L1716.1,1353.8 L1714.8,1357.2 L1713.6,1360.7 L1712.5,1364.2 L1711.6,1367.8 L1710.8,1371.4 L1710.0,1375.1 L1709.3,1378.7 L1708.6,1382.5 L1707.9,1386.2 L1707.2,1390.0 L1706.5,1393.8 L1705.8,1397.7 L1705.1,1401.6 L1704.2,1405.5 L1703.3,1409.4 L1702.2,1413.4 L1701.1,1417.3 L1699.8,1421.3 L1698.3,1425.4 L1696.8,1429.4 L1695.2,1433.4 L1693.5,1437.5 L1691.8,1441.5 L1690.1,1445.6 L1688.5,1449.6 L1686.9,1453.6 L1685.4,1457.6 L1684.0,1461.6 L1682.8,1465.5 L1681.7,1469.4 L1680.8,1473.2 L1680.2,1477.0 L1679.7,1480.8 L1679.5,1484.5 L1679.4,1488.2 L1679.5,1491.9 L1679.8,1495.5 L1680.3,1499.0 L1680.9,1502.6 L1681.7,1506.1 L1682.6,1509.6 L1683.7,1513.1 L1684.9,1516.6 L1686.2,1520.0 L1687.7,1523.4 L1689.2,1526.8 L1690.9,1530.2 L1692.6,1533.6 L1694.5,1537.0 L1696.4,1540.4 L1698.4,1543.8 L1700.4,1547.2 L1702.5,1550.5 L1704.7,1553.9 L1706.9,1557.3 L1709.1,1560.7 L1711.4,1564.1 L1713.6,1567.6 L1715.9,1571.0 L1718.2,1574.5 L1720.5,1577.9 L1722.8,1581.4 L1725.1,1585.0 L1727.3,1588.5 L1729.5,1592.1 L1731.7,1595.7 L1733.8,1599.4 L1735.9,1603.1 L1737.9,1606.8 L1739.8,1610.5 L1741.6,1614.3 L1743.3,1618.1 L1744.9,1621.9 L1746.3,1625.7 L1747.6,1629.6 L1748.7,1633.4 L1749.6,1637.2 L1750.3,1641.0 L1750.8,1644.7 L1751.0,1648.5 L1751.0,1652.2 L1750.7,1655.8 L1750.1,1659.4 L1749.3,1663.0 L1748.1,1666.5 L1746.6,1670.0 L1744.8,1673.3 L1742.7,1676.6 L1740.4,1679.8 L1738.0,1683.0 L1735.3,1686.0 L1732.5,1688.9 L1729.6,1691.7 L1726.5,1694.4 L1723.5,1696.9 L1720.3,1699.3 L1717.1,1701.7 L1713.8,1703.8 L1710.5,1705.9 L1707.1,1707.9 L1703.7,1709.7 L1700.2,1711.4 L1696.7,1713.1 L1693.1,1714.6 L1689.5,1716.0 L1685.8,1717.4 L1682.1,1718.6 L1678.4,1719.7 L1674.6,1720.8 L1670.8,1721.7 L1666.9,1722.6 L1663.0,1723.4 L1659.1,1724.1 L1655.2,1724.8 L1651.2,1725.3 L1647.2,1725.8 L1643.2,1726.3 L1639.1,1726.6 L1635.1,1726.9 L1631.0,1727.1 L1626.9,1727.3 L1622.8,1727.4 L1618.6,1727.5 L1614.5,1727.5 L1610.4,1727.5 L1606.2,1727.4 L1602.0,1727.3 L1597.9,1727.1 L1593.7,1726.9 L1589.6,1726.6 L1585.4,1726.3 L1581.2,1726.0 L1577.1,1725.6 L1572.9,1725.1 L1568.7,1724.7 L1564.6,1724.1 L1560.4,1723.6 L1556.3,1722.9 L1552.2,1722.3 L1548.0,1721.6 L1543.9,1720.8 L1539.8,1720.0 L1535.7,1719.2 L1531.7,1718.3 L1527.6,1717.3 L1523.5,1716.3 L1519.5,1715.3 L1515.5,1714.2 L1511.5,1713.1 L1507.5,1712.0 L1503.5,1710.7 L1499.6,1709.5 L1495.7,1708.2 L1491.8,1706.8 L1487.9,1705.4 L1484.1,1704.0 L1480.3,1702.5 L1476.5,1701.0 L1472.7,1699.4 L1469.0,1697.8 L1465.3,1696.1 L1461.6,1694.4 L1458.0,1692.6 L1454.4,1690.8 L1450.8,1688.9 L1447.3,1687.0 L1443.8,1685.0 L1440.4,1683.0 L1437.0,1681.0 L1433.6,1678.9 L1430.3,1676.8 L1427.0,1674.6 L1423.7,1672.3 L1420.5,1670.0 L1417.4,1667.7 L1414.3,1665.3 L1411.2,1662.9 L1408.2,1660.4 L1405.3,1657.9 L1402.4,1655.3 L1399.5,1652.7 L1396.7,1650.1 L1394.0,1647.3 L1391.3,1644.6 L1388.7,1641.8 L1386.1,1638.9 L1383.6,1636.0 L1381.1,1633.1 L1378.7,1630.1 L1376.4,1627.0 L1374.1,1623.9 L1371.9,1620.8 L1369.8,1617.6 L1367.7,1614.3 L1365.7,1611.0 L1363.7,1607.7 L1361.9,1604.3 L1360.0,1600.9 L1358.3,1597.4 L1356.6,1593.9 L1355.0,1590.4 L1353.4,1586.8 L1351.9,1583.2 L1350.5,1579.5 L1349.1,1575.8 L1347.8,1572.1 L1346.5,1568.4 L1345.3,1564.6 L1344.1,1560.8 L1343.1,1556.9 L1342.0,1553.1 L1341.1,1549.2 L1340.1,1545.3 L1339.3,1541.3 L1338.5,1537.4 L1337.7,1533.4 L1337.1,1529.4 L1336.4,1525.4 L1335.8,1521.3 L1335.3,1517.3 L1334.8,1513.2 L1334.4,1509.1 L1334.0,1505.0 L1333.7,1500.9 L1333.4,1496.8 L1333.2,1492.7 L1333.1,1488.6 L1332.9,1484.5 L1332.9,1480.3 L1332.8,1476.2 L1332.9,1472.1 L1332.9,1467.9 L1333.1,1463.8 L1333.2,1459.6 L1333.5,1455.5 L1333.7,1451.4 L1334.0,1447.3 L1334.4,1443.2 L1334.8,1439.1 L1335.2,1435.0 L1335.7,1430.9 L1336.2,1426.8 L1336.8,1422.7 L1337.4,1418.7 L1338.1,1414.7 L1338.8,1410.7 L1339.5,1406.7 L1340.3,1402.7 L1341.1,1398.7 L1342.0,1394.8 L1342.9,1390.8 L1343.8,1386.9 L1344.8,1383.0 L1345.8,1379.1 L1346.8,1375.2 L1347.9,1371.4 L1349.1,1367.5 L1350.2,1363.7 L1351.4,1359.9 L1352.7,1356.1 L1353.9,1352.3 L1355.3,1348.5 L1356.6,1344.7 L1358.0,1341.0 L1359.4,1337.2 L1360.9,1333.5 L1362.4,1329.8 L1363.9,1326.1 L1365.5,1322.4 L1367.0,1318.8 L1368.7,1315.1 L1370.3,1311.4 L1372.0,1307.8 L1373.7,1304.2 L1375.5,1300.6 L1377.3,1297.0 L1379.1,1293.4 L1381.0,1289.8 L1382.8,1286.3 L1384.8,1282.7 L1386.7,1279.2 L1388.7,1275.7 L1390.7,1272.2 L1392.7,1268.7 L1394.8,1265.2 L1396.9,1261.7 L1399.0,1258.3 L1401.1,1254.9 L1403.3,1251.5 L1405.5,1248.1 L1407.8,1244.7 L1410.1,1241.3 L1412.4,1238.0 L1414.7,1234.7 L1417.1,1231.4 L1419.5,1228.2 L1421.9,1224.9 L1424.3,1221.7 L1426.8,1218.6 L1429.3,1215.4 L1431.8,1212.3 L1434.4,1209.2 L1437.0,1206.1 L1439.6,1203.0 L1442.3,1200.0 L1444.9,1197.0 L1447.6,1194.1 L1450.4,1191.2 L1453.1,1188.3 L1455.9,1185.4 L1458.7,1182.6 L1461.6,1179.8 L1464.5,1177.0 L1467.4,1174.3 L1470.3,1171.6 L1473.2,1169.0 L1476.2,1166.4 L1479.2,1163.8 L1482.3,1161.3 L1485.3,1158.8 L1488.4,1156.4 L1491.5,1154.0 L1494.7,1151.6 L1497.8,1149.3 L1501.0,1147.0 L1504.3,1144.8 L1507.5,1142.6 L1510.8,1140.4 L1514.1,1138.3 L1517.4,1136.3 L1520.8,1134.3 L1524.1,1132.3 L1527.6,1130.4 L1531.0,1128.5 L1534.4,1126.7 L1537.9,1125.0 L1541.4,1123.3 L1545.0,1121.6 L1548.5,1120.0 L1552.1,1118.5 L1555.7,1117.0 L1559.3,1115.6 L1563.0,1114.2 L1566.7,1112.9 L1570.4,1111.6 L1574.1,1110.4 L1577.9,1109.3 L1581.6,1108.2 L1585.5,1107.1 L1589.3,1106.2 L1593.1,1105.3 L1597.0,1104.4 L1600.9,1103.6 L1604.8,1102.9 L1608.8,1102.3 L1612.8,1101.7 L1616.7,1101.2 L1620.8,1100.7 L1624.8,1100.3 L1628.9,1100.0 L1633.0,1099.7 L1637.1,1099.6 L1641.2,1099.5 Z"/></clipPath>
<path d="M1641.2,1099.5 L1645.4,1099.4 L1649.5,1099.4 L1653.7,1099.5 L1657.9,1099.7 L1662.2,1099.9 L1666.4,1100.2 L1670.6,1100.6 L1674.9,1101.0 L1679.1,1101.5 L1683.3,1102.1 L1687.6,1102.7 L1691.8,1103.4 L1696.0,1104.2 L1700.2,1105.0 L1704.4,1105.9 L1708.6,1106.9 L1712.7,1107.9 L1716.9,1109.0 L1721.0,1110.1 L1725.0,1111.3 L1729.1,1112.6 L1733.1,1113.9 L1737.0,1115.3 L1741.0,1116.7 L1744.8,1118.2 L1748.7,1119.8 L1752.5,1121.4 L1756.2,1123.0 L1759.9,1124.8 L1763.5,1126.6 L1767.1,1128.4 L1770.6,1130.3 L1774.0,1132.2 L1777.4,1134.2 L1780.7,1136.3 L1783.9,1138.4 L1787.0,1140.6 L1790.0,1142.9 L1792.9,1145.3 L1795.7,1147.9 L1798.3,1150.5 L1800.7,1153.3 L1803.0,1156.3 L1805.1,1159.4 L1807.0,1162.7 L1808.7,1166.1 L1810.2,1169.7 L1811.5,1173.4 L1812.6,1177.2 L1813.5,1181.1 L1814.2,1185.0 L1814.8,1189.1 L1815.1,1193.1 L1815.3,1197.2 L1815.3,1201.2 L1815.1,1205.3 L1814.7,1209.3 L1814.1,1213.3 L1813.3,1217.2 L1812.4,1221.0 L1811.2,1224.8 L1809.9,1228.5 L1808.5,1232.2 L1806.9,1235.8 L1805.1,1239.3 L1803.2,1242.8 L1801.2,1246.3 L1799.1,1249.7 L1796.9,1253.0 L1794.6,1256.4 L1792.1,1259.6 L1789.6,1262.9 L1787.0,1266.1 L1784.4,1269.3 L1781.7,1272.4 L1778.9,1275.6 L1776.1,1278.7 L1773.2,1281.8 L1770.3,1284.8 L1767.4,1287.9 L1764.5,1291.0 L1761.6,1294.0 L1758.7,1297.0 L1755.8,1300.1 L1752.9,1303.1 L1750.1,1306.1 L1747.3,1309.2 L1744.5,1312.2 L1741.8,1315.3 L1739.1,1318.4 L1736.5,1321.4 L1734.0,1324.6 L1731.5,1327.7 L1729.2,1330.8 L1727.0,1334.0 L1724.8,1337.2 L1722.8,1340.5 L1720.9,1343.7 L1719.2,1347.0 L1717.6,1350.4 L1716.1,1353.8 L1714.8,1357.2 L1713.6,1360.7 L1712.5,1364.2 L1711.6,1367.8 L1710.8,1371.4 L1710.0,1375.1 L1709.3,1378.7 L1708.6,1382.5 L1707.9,1386.2 L1707.2,1390.0 L1706.5,1393.8 L1705.8,1397.7 L1705.1,1401.6 L1704.2,1405.5 L1703.3,1409.4 L1702.2,1413.4 L1701.1,1417.3 L1699.8,1421.3 L1698.3,1425.4 L1696.8,1429.4 L1695.2,1433.4 L1693.5,1437.5 L1691.8,1441.5 L1690.1,1445.6 L1688.5,1449.6 L1686.9,1453.6 L1685.4,1457.6 L1684.0,1461.6 L1682.8,1465.5 L1681.7,1469.4 L1680.8,1473.2 L1680.2,1477.0 L1679.7,1480.8 L1679.5,1484.5 L1679.4,1488.2 L1679.5,1491.9 L1679.8,1495.5 L1680.3,1499.0 L1680.9,1502.6 L1681.7,1506.1 L1682.6,1509.6 L1683.7,1513.1 L1684.9,1516.6 L1686.2,1520.0 L1687.7,1523.4 L1689.2,1526.8 L1690.9,1530.2 L1692.6,1533.6 L1694.5,1537.0 L1696.4,1540.4 L1698.4,1543.8 L1700.4,1547.2 L1702.5,1550.5 L1704.7,1553.9 L1706.9,1557.3 L1709.1,1560.7 L1711.4,1564.1 L1713.6,1567.6 L1715.9,1571.0 L1718.2,1574.5 L1720.5,1577.9 L1722.8,1581.4 L1725.1,1585.0 L1727.3,1588.5 L1729.5,1592.1 L1731.7,1595.7 L1733.8,1599.4 L1735.9,1603.1 L1737.9,1606.8 L1739.8,1610.5 L1741.6,1614.3 L1743.3,1618.1 L1744.9,1621.9 L1746.3,1625.7 L1747.6,1629.6 L1748.7,1633.4 L1749.6,1637.2 L1750.3,1641.0 L1750.8,1644.7 L1751.0,1648.5 L1751.0,1652.2 L1750.7,1655.8 L1750.1,1659.4 L1749.3,1663.0 L1748.1,1666.5 L1746.6,1670.0 L1744.8,1673.3 L1742.7,1676.6 L1740.4,1679.8 L1738.0,1683.0 L1735.3,1686.0 L1732.5,1688.9 L1729.6,1691.7 L1726.5,1694.4 L1723.5,1696.9 L1720.3,1699.3 L1717.1,1701.7 L1713.8,1703.8 L1710.5,1705.9 L1707.1,1707.9 L1703.7,1709.7 L1700.2,1711.4 L1696.7,1713.1 L1693.1,1714.6 L1689.5,1716.0 L1685.8,1717.4 L1682.1,1718.6 L1678.4,1719.7 L1674.6,1720.8 L1670.8,1721.7 L1666.9,1722.6 L1663.0,1723.4 L1659.1,1724.1 L1655.2,1724.8 L1651.2,1725.3 L1647.2,1725.8 L1643.2,1726.3 L1639.1,1726.6 L1635.1,1726.9 L1631.0,1727.1 L1626.9,1727.3 L1622.8,1727.4 L1618.6,1727.5 L1614.5,1727.5 L1610.4,1727.5 L1606.2,1727.4 L1602.0,1727.3 L1597.9,1727.1 L1593.7,1726.9 L1589.6,1726.6 L1585.4,1726.3 L1581.2,1726.0 L1577.1,1725.6 L1572.9,1725.1 L1568.7,1724.7 L1564.6,1724.1 L1560.4,1723.6 L1556.3,1722.9 L1552.2,1722.3 L1548.0,1721.6 L1543.9,1720.8 L1539.8,1720.0 L1535.7,1719.2 L1531.7,1718.3 L1527.6,1717.3 L1523.5,1716.3 L1519.5,1715.3 L1515.5,1714.2 L1511.5,1713.1 L1507.5,1712.0 L1503.5,1710.7 L1499.6,1709.5 L1495.7,1708.2 L1491.8,1706.8 L1487.9,1705.4 L1484.1,1704.0 L1480.3,1702.5 L1476.5,1701.0 L1472.7,1699.4 L1469.0,1697.8 L1465.3,1696.1 L1461.6,1694.4 L1458.0,1692.6 L1454.4,1690.8 L1450.8,1688.9 L1447.3,1687.0 L1443.8,1685.0 L1440.4,1683.0 L1437.0,1681.0 L1433.6,1678.9 L1430.3,1676.8 L1427.0,1674.6 L1423.7,1672.3 L1420.5,1670.0 L1417.4,1667.7 L1414.3,1665.3 L1411.2,1662.9 L1408.2,1660.4 L1405.3,1657.9 L1402.4,1655.3 L1399.5,1652.7 L1396.7,1650.1 L1394.0,1647.3 L1391.3,1644.6 L1388.7,1641.8 L1386.1,1638.9 L1383.6,1636.0 L1381.1,1633.1 L1378.7,1630.1 L1376.4,1627.0 L1374.1,1623.9 L1371.9,1620.8 L1369.8,1617.6 L1367.7,1614.3 L1365.7,1611.0 L1363.7,1607.7 L1361.9,1604.3 L1360.0,1600.9 L1358.3,1597.4 L1356.6,1593.9 L1355.0,1590.4 L1353.4,1586.8 L1351.9,1583.2 L1350.5,1579.5 L1349.1,1575.8 L1347.8,1572.1 L1346.5,1568.4 L1345.3,1564.6 L1344.1,1560.8 L1343.1,1556.9 L1342.0,1553.1 L1341.1,1549.2 L1340.1,1545.3 L1339.3,1541.3 L1338.5,1537.4 L1337.7,1533.4 L1337.1,1529.4 L1336.4,1525.4 L1335.8,1521.3 L1335.3,1517.3 L1334.8,1513.2 L1334.4,1509.1 L1334.0,1505.0 L1333.7,1500.9 L1333.4,1496.8 L1333.2,1492.7 L1333.1,1488.6 L1332.9,1484.5 L1332.9,1480.3 L1332.8,1476.2 L1332.9,1472.1 L1332.9,1467.9 L1333.1,1463.8 L1333.2,1459.6 L1333.5,1455.5 L1333.7,1451.4 L1334.0,1447.3 L1334.4,1443.2 L1334.8,1439.1 L1335.2,1435.0 L1335.7,1430.9 L1336.2,1426.8 L1336.8,1422.7 L1337.4,1418.7 L1338.1,1414.7 L1338.8,1410.7 L1339.5,1406.7 L1340.3,1402.7 L1341.1,1398.7 L1342.0,1394.8 L1342.9,1390.8 L1343.8,1386.9 L1344.8,1383.0 L1345.8,1379.1 L1346.8,1375.2 L1347.9,1371.4 L1349.1,1367.5 L1350.2,1363.7 L1351.4,1359.9 L1352.7,1356.1 L1353.9,1352.3 L1355.3,1348.5 L1356.6,1344.7 L1358.0,1341.0 L1359.4,1337.2 L1360.9,1333.5 L1362.4,1329.8 L1363.9,1326.1 L1365.5,1322.4 L1367.0,1318.8 L1368.7,1315.1 L1370.3,1311.4 L1372.0,1307.8 L1373.7,1304.2 L1375.5,1300.6 L1377.3,1297.0 L1379.1,1293.4 L1381.0,1289.8 L1382.8,1286.3 L1384.8,1282.7 L1386.7,1279.2 L1388.7,1275.7 L1390.7,1272.2 L1392.7,1268.7 L1394.8,1265.2 L1396.9,1261.7 L1399.0,1258.3 L1401.1,1254.9 L1403.3,1251.5 L1405.5,1248.1 L1407.8,1244.7 L1410.1,1241.3 L1412.4,1238.0 L1414.7,1234.7 L1417.1,1231.4 L1419.5,1228.2 L1421.9,1224.9 L1424.3,1221.7 L1426.8,1218.6 L1429.3,1215.4 L1431.8,1212.3 L1434.4,1209.2 L1437.0,1206.1 L1439.6,1203.0 L1442.3,1200.0 L1444.9,1197.0 L1447.6,1194.1 L1450.4,1191.2 L1453.1,1188.3 L1455.9,1185.4 L1458.7,1182.6 L1461.6,1179.8 L1464.5,1177.0 L1467.4,1174.3 L1470.3,1171.6 L1473.2,1169.0 L1476.2,1166.4 L1479.2,1163.8 L1482.3,1161.3 L1485.3,1158.8 L1488.4,1156.4 L1491.5,1154.0 L1494.7,1151.6 L1497.8,1149.3 L1501.0,1147.0 L1504.3,1144.8 L1507.5,1142.6 L1510.8,1140.4 L1514.1,1138.3 L1517.4,1136.3 L1520.8,1134.3 L1524.1,1132.3 L1527.6,1130.4 L1531.0,1128.5 L1534.4,1126.7 L1537.9,1125.0 L1541.4,1123.3 L1545.0,1121.6 L1548.5,1120.0 L1552.1,1118.5 L1555.7,1117.0 L1559.3,1115.6 L1563.0,1114.2 L1566.7,1112.9 L1570.4,1111.6 L1574.1,1110.4 L1577.9,1109.3 L1581.6,1108.2 L1585.5,1107.1 L1589.3,1106.2 L1593.1,1105.3 L1597.0,1104.4 L1600.9,1103.6 L1604.8,1102.9 L1608.8,1102.3 L1612.8,1101.7 L1616.7,1101.2 L1620.8,1100.7 L1624.8,1100.3 L1628.9,1100.0 L1633.0,1099.7 L1637.1,1099.6 L1641.2,1099.5 Z" fill="url(#gKid)"/>
<g fill="none" stroke="#a50f18" stroke-width="36" stroke-linecap="round" opacity="0.32" clip-path="url(#ck0)">
<path d="M1521.7,1146.9 L1518.3,1149.2 L1515.0,1151.5 L1511.7,1153.9 L1508.4,1156.3 L1505.2,1158.8 L1502.0,1161.3 L1498.9,1163.8 L1495.7,1166.3 L1492.6,1168.9 L1489.6,1171.6 L1486.6,1174.2 L1483.6,1177.0 L1480.6,1179.7 L1477.7,1182.5 L1474.8,1185.3 L1471.9,1188.1 L1469.1,1191.0 L1466.3,1193.9 L1463.6,1196.8 L1460.8,1199.8 L1458.2,1202.8 L1455.5,1205.8 L1452.9,1208.9 L1450.3,1212.0 L1447.8,1215.1 L1445.2,1218.3 L1442.8,1221.5 L1440.3,1224.7 L1437.9,1227.9 L1435.6,1231.2 L1433.2,1234.4 L1430.9,1237.8 L1428.7,1241.1 L1426.4,1244.5 L1424.2,1247.9 L1422.1,1251.3 L1420.0,1254.7 L1417.9,1258.2 L1415.8,1261.7 L1413.8,1265.2 L1411.8,1268.7 L1409.9,1272.3 L1408.0,1275.8 L1406.1,1279.4 L1404.3,1283.0 L1402.5,1286.7 L1400.7,1290.3 L1399.0,1294.0 L1397.3,1297.7 L1395.7,1301.4 L1394.1,1305.1 L1392.5,1308.9 L1391.0,1312.7 L1389.5,1316.4 L1388.0,1320.2 L1386.6,1324.0 L1385.2,1327.9 L1383.8,1331.7 L1382.5,1335.6 L1381.2,1339.4 L1380.0,1343.3 L1378.8,1347.2 L1377.6,1351.1 L1376.5,1355.0 L1375.4,1359.0 L1374.4,1362.9 L1373.4,1366.8 L1372.4,1370.8 L1371.5,1374.8 L1370.6,1378.8 L1369.7,1382.8 L1368.9,1386.8 L1368.1,1390.8 L1367.4,1394.8 L1366.7,1398.8 L1366.0,1402.8 L1365.4,1406.9 L1364.8,1410.9 L1364.2,1414.9 L1363.7,1419.0 L1363.3,1423.0 L1362.8,1427.1 L1362.4,1431.2 L1362.1,1435.2 L1361.8,1439.3 L1361.5,1443.4 L1361.3,1447.4 L1361.1,1451.5 L1360.9,1455.6 L1360.8,1459.6 L1360.8,1463.7 L1360.7,1467.8 L1360.7,1471.9 L1360.8,1475.9 L1360.9,1480.0 L1361.0,1484.1 L1361.2,1488.1 L1361.4,1492.2 L1361.6,1496.2 L1361.9,1500.3 L1362.2,1504.3 L1362.6,1508.4 L1363.0,1512.4 L1363.5,1516.4 L1364.0,1520.5 L1364.5,1524.5 L1365.1,1528.5 L1365.7,1532.5 L1366.4,1536.5 L1367.1,1540.5 L1367.8,1544.4 L1368.6,1548.4 L1369.4,1552.4 L1370.3,1556.3 L1371.2,1560.3 L1372.2,1564.2 L1373.2,1568.1 L1374.2,1572.0 L1375.3,1575.9 L1376.4,1579.8 L1377.6,1583.6 L1378.8,1587.5 L1380.0,1591.3 L1381.3,1595.1 L1382.6,1598.9 L1384.0,1602.7 L1385.4,1606.5 L1386.9,1610.2 L1388.4,1614.0 L1390.0,1617.7 L1391.5,1621.4 L1393.2,1625.1 L1394.9,1628.7 L1396.6,1632.4 L1398.3,1636.0 L1400.1,1639.6 L1402.0,1643.2 "/>
<path d="M1775.0,1150.4 L1778.2,1154.1 L1781.1,1157.8 L1783.7,1161.5 L1786.0,1165.3 L1788.1,1169.1 L1789.8,1173.0 L1791.3,1176.8 L1792.5,1180.7 L1793.5,1184.6 L1794.3,1188.5 L1794.8,1192.4 L1795.0,1196.3 L1795.1,1200.3 L1794.9,1204.2 L1794.6,1208.1 L1794.0,1212.1 L1793.3,1216.0 L1792.4,1220.0 L1791.3,1223.9 L1790.1,1227.8 L1788.7,1231.7 L1787.2,1235.6 L1785.5,1239.5 L1783.7,1243.4 L1781.8,1247.2 L1779.8,1251.0 L1777.7,1254.8 L1775.5,1258.6 L1773.2,1262.3 L1770.8,1266.0 L1768.4,1269.6 L1765.9,1273.3 L1763.3,1276.8 L1760.7,1280.4 L1758.1,1283.8 L1755.5,1287.3 L1752.8,1290.7 L1750.1,1294.0 L1747.4,1297.3 L1744.8,1300.5 L1742.1,1303.6 L1739.5,1306.7 L1736.9,1309.8 L1734.3,1312.7 L1731.8,1315.6 L1729.3,1318.4 L1727.0,1321.2 L1724.6,1323.8 L1722.4,1326.4 "/>
<path d="M1546.4,1700.0 L1549.8,1701.9 L1553.3,1703.6 L1556.9,1705.3 L1560.6,1706.8 L1564.4,1708.2 L1568.3,1709.5 L1572.3,1710.7 L1576.3,1711.8 L1580.3,1712.7 L1584.5,1713.6 L1588.7,1714.3 L1592.9,1714.9 L1597.2,1715.4 L1601.5,1715.8 L1605.8,1716.1 L1610.2,1716.3 L1614.5,1716.4 L1618.9,1716.3 L1623.3,1716.2 L1627.7,1715.9 L1632.1,1715.6 L1636.4,1715.1 L1640.8,1714.5 L1645.1,1713.8 L1649.4,1713.0 L1653.7,1712.1 L1657.9,1711.1 L1662.1,1710.0 L1666.2,1708.8 L1670.2,1707.5 L1674.2,1706.1 L1678.1,1704.6 L1682.0,1703.0 L1685.7,1701.3 L1689.4,1699.5 L1693.0,1697.6 L1696.5,1695.6 L1699.8,1693.5 L1703.1,1691.3 L1706.3,1689.0 L1709.3,1686.6 L1712.2,1684.1 L1714.9,1681.5 L1717.5,1678.9 L1720.0,1676.1 L1722.3,1673.2 L1724.5,1670.3 L1726.5,1667.2 L1728.3,1664.1 L1730.0,1660.9 L1731.4,1657.5 L1732.7,1654.1 L1733.8,1650.6 L1734.7,1647.0 L1735.4,1643.4 L1735.9,1639.6 L1736.1,1635.8 L1736.2,1631.9 L1736.1,1627.9 L1735.8,1623.9 L1735.3,1619.9 L1734.6,1615.8 L1733.8,1611.7 L1732.7,1607.7 L1731.5,1603.6 L1730.1,1599.5 L1728.6,1595.5 L1726.9,1591.5 L1725.0,1587.6 L1723.0,1583.7 L1720.8,1579.9 L1718.5,1576.1 L1716.1,1572.5 L1713.5,1568.9 L1710.7,1565.5 L1707.9,1562.2 L1704.9,1559.0 L1701.8,1555.9 L1698.6,1553.0 L1695.2,1550.2 L1691.8,1547.6 L1688.2,1545.2 L1684.6,1543.0 L1680.8,1541.0 L1676.9,1539.2 L1673.0,1537.6 "/>
</g>
<path d="M1641.2,1099.5 L1645.4,1099.4 L1649.5,1099.4 L1653.7,1099.5 L1657.9,1099.7 L1662.2,1099.9 L1666.4,1100.2 L1670.6,1100.6 L1674.9,1101.0 L1679.1,1101.5 L1683.3,1102.1 L1687.6,1102.7 L1691.8,1103.4 L1696.0,1104.2 L1700.2,1105.0 L1704.4,1105.9 L1708.6,1106.9 L1712.7,1107.9 L1716.9,1109.0 L1721.0,1110.1 L1725.0,1111.3 L1729.1,1112.6 L1733.1,1113.9 L1737.0,1115.3 L1741.0,1116.7 L1744.8,1118.2 L1748.7,1119.8 L1752.5,1121.4 L1756.2,1123.0 L1759.9,1124.8 L1763.5,1126.6 L1767.1,1128.4 L1770.6,1130.3 L1774.0,1132.2 L1777.4,1134.2 L1780.7,1136.3 L1783.9,1138.4 L1787.0,1140.6 L1790.0,1142.9 L1792.9,1145.3 L1795.7,1147.9 L1798.3,1150.5 L1800.7,1153.3 L1803.0,1156.3 L1805.1,1159.4 L1807.0,1162.7 L1808.7,1166.1 L1810.2,1169.7 L1811.5,1173.4 L1812.6,1177.2 L1813.5,1181.1 L1814.2,1185.0 L1814.8,1189.1 L1815.1,1193.1 L1815.3,1197.2 L1815.3,1201.2 L1815.1,1205.3 L1814.7,1209.3 L1814.1,1213.3 L1813.3,1217.2 L1812.4,1221.0 L1811.2,1224.8 L1809.9,1228.5 L1808.5,1232.2 L1806.9,1235.8 L1805.1,1239.3 L1803.2,1242.8 L1801.2,1246.3 L1799.1,1249.7 L1796.9,1253.0 L1794.6,1256.4 L1792.1,1259.6 L1789.6,1262.9 L1787.0,1266.1 L1784.4,1269.3 L1781.7,1272.4 L1778.9,1275.6 L1776.1,1278.7 L1773.2,1281.8 L1770.3,1284.8 L1767.4,1287.9 L1764.5,1291.0 L1761.6,1294.0 L1758.7,1297.0 L1755.8,1300.1 L1752.9,1303.1 L1750.1,1306.1 L1747.3,1309.2 L1744.5,1312.2 L1741.8,1315.3 L1739.1,1318.4 L1736.5,1321.4 L1734.0,1324.6 L1731.5,1327.7 L1729.2,1330.8 L1727.0,1334.0 L1724.8,1337.2 L1722.8,1340.5 L1720.9,1343.7 L1719.2,1347.0 L1717.6,1350.4 L1716.1,1353.8 L1714.8,1357.2 L1713.6,1360.7 L1712.5,1364.2 L1711.6,1367.8 L1710.8,1371.4 L1710.0,1375.1 L1709.3,1378.7 L1708.6,1382.5 L1707.9,1386.2 L1707.2,1390.0 L1706.5,1393.8 L1705.8,1397.7 L1705.1,1401.6 L1704.2,1405.5 L1703.3,1409.4 L1702.2,1413.4 L1701.1,1417.3 L1699.8,1421.3 L1698.3,1425.4 L1696.8,1429.4 L1695.2,1433.4 L1693.5,1437.5 L1691.8,1441.5 L1690.1,1445.6 L1688.5,1449.6 L1686.9,1453.6 L1685.4,1457.6 L1684.0,1461.6 L1682.8,1465.5 L1681.7,1469.4 L1680.8,1473.2 L1680.2,1477.0 L1679.7,1480.8 L1679.5,1484.5 L1679.4,1488.2 L1679.5,1491.9 L1679.8,1495.5 L1680.3,1499.0 L1680.9,1502.6 L1681.7,1506.1 L1682.6,1509.6 L1683.7,1513.1 L1684.9,1516.6 L1686.2,1520.0 L1687.7,1523.4 L1689.2,1526.8 L1690.9,1530.2 L1692.6,1533.6 L1694.5,1537.0 L1696.4,1540.4 L1698.4,1543.8 L1700.4,1547.2 L1702.5,1550.5 L1704.7,1553.9 L1706.9,1557.3 L1709.1,1560.7 L1711.4,1564.1 L1713.6,1567.6 L1715.9,1571.0 L1718.2,1574.5 L1720.5,1577.9 L1722.8,1581.4 L1725.1,1585.0 L1727.3,1588.5 L1729.5,1592.1 L1731.7,1595.7 L1733.8,1599.4 L1735.9,1603.1 L1737.9,1606.8 L1739.8,1610.5 L1741.6,1614.3 L1743.3,1618.1 L1744.9,1621.9 L1746.3,1625.7 L1747.6,1629.6 L1748.7,1633.4 L1749.6,1637.2 L1750.3,1641.0 L1750.8,1644.7 L1751.0,1648.5 L1751.0,1652.2 L1750.7,1655.8 L1750.1,1659.4 L1749.3,1663.0 L1748.1,1666.5 L1746.6,1670.0 L1744.8,1673.3 L1742.7,1676.6 L1740.4,1679.8 L1738.0,1683.0 L1735.3,1686.0 L1732.5,1688.9 L1729.6,1691.7 L1726.5,1694.4 L1723.5,1696.9 L1720.3,1699.3 L1717.1,1701.7 L1713.8,1703.8 L1710.5,1705.9 L1707.1,1707.9 L1703.7,1709.7 L1700.2,1711.4 L1696.7,1713.1 L1693.1,1714.6 L1689.5,1716.0 L1685.8,1717.4 L1682.1,1718.6 L1678.4,1719.7 L1674.6,1720.8 L1670.8,1721.7 L1666.9,1722.6 L1663.0,1723.4 L1659.1,1724.1 L1655.2,1724.8 L1651.2,1725.3 L1647.2,1725.8 L1643.2,1726.3 L1639.1,1726.6 L1635.1,1726.9 L1631.0,1727.1 L1626.9,1727.3 L1622.8,1727.4 L1618.6,1727.5 L1614.5,1727.5 L1610.4,1727.5 L1606.2,1727.4 L1602.0,1727.3 L1597.9,1727.1 L1593.7,1726.9 L1589.6,1726.6 L1585.4,1726.3 L1581.2,1726.0 L1577.1,1725.6 L1572.9,1725.1 L1568.7,1724.7 L1564.6,1724.1 L1560.4,1723.6 L1556.3,1722.9 L1552.2,1722.3 L1548.0,1721.6 L1543.9,1720.8 L1539.8,1720.0 L1535.7,1719.2 L1531.7,1718.3 L1527.6,1717.3 L1523.5,1716.3 L1519.5,1715.3 L1515.5,1714.2 L1511.5,1713.1 L1507.5,1712.0 L1503.5,1710.7 L1499.6,1709.5 L1495.7,1708.2 L1491.8,1706.8 L1487.9,1705.4 L1484.1,1704.0 L1480.3,1702.5 L1476.5,1701.0 L1472.7,1699.4 L1469.0,1697.8 L1465.3,1696.1 L1461.6,1694.4 L1458.0,1692.6 L1454.4,1690.8 L1450.8,1688.9 L1447.3,1687.0 L1443.8,1685.0 L1440.4,1683.0 L1437.0,1681.0 L1433.6,1678.9 L1430.3,1676.8 L1427.0,1674.6 L1423.7,1672.3 L1420.5,1670.0 L1417.4,1667.7 L1414.3,1665.3 L1411.2,1662.9 L1408.2,1660.4 L1405.3,1657.9 L1402.4,1655.3 L1399.5,1652.7 L1396.7,1650.1 L1394.0,1647.3 L1391.3,1644.6 L1388.7,1641.8 L1386.1,1638.9 L1383.6,1636.0 L1381.1,1633.1 L1378.7,1630.1 L1376.4,1627.0 L1374.1,1623.9 L1371.9,1620.8 L1369.8,1617.6 L1367.7,1614.3 L1365.7,1611.0 L1363.7,1607.7 L1361.9,1604.3 L1360.0,1600.9 L1358.3,1597.4 L1356.6,1593.9 L1355.0,1590.4 L1353.4,1586.8 L1351.9,1583.2 L1350.5,1579.5 L1349.1,1575.8 L1347.8,1572.1 L1346.5,1568.4 L1345.3,1564.6 L1344.1,1560.8 L1343.1,1556.9 L1342.0,1553.1 L1341.1,1549.2 L1340.1,1545.3 L1339.3,1541.3 L1338.5,1537.4 L1337.7,1533.4 L1337.1,1529.4 L1336.4,1525.4 L1335.8,1521.3 L1335.3,1517.3 L1334.8,1513.2 L1334.4,1509.1 L1334.0,1505.0 L1333.7,1500.9 L1333.4,1496.8 L1333.2,1492.7 L1333.1,1488.6 L1332.9,1484.5 L1332.9,1480.3 L1332.8,1476.2 L1332.9,1472.1 L1332.9,1467.9 L1333.1,1463.8 L1333.2,1459.6 L1333.5,1455.5 L1333.7,1451.4 L1334.0,1447.3 L1334.4,1443.2 L1334.8,1439.1 L1335.2,1435.0 L1335.7,1430.9 L1336.2,1426.8 L1336.8,1422.7 L1337.4,1418.7 L1338.1,1414.7 L1338.8,1410.7 L1339.5,1406.7 L1340.3,1402.7 L1341.1,1398.7 L1342.0,1394.8 L1342.9,1390.8 L1343.8,1386.9 L1344.8,1383.0 L1345.8,1379.1 L1346.8,1375.2 L1347.9,1371.4 L1349.1,1367.5 L1350.2,1363.7 L1351.4,1359.9 L1352.7,1356.1 L1353.9,1352.3 L1355.3,1348.5 L1356.6,1344.7 L1358.0,1341.0 L1359.4,1337.2 L1360.9,1333.5 L1362.4,1329.8 L1363.9,1326.1 L1365.5,1322.4 L1367.0,1318.8 L1368.7,1315.1 L1370.3,1311.4 L1372.0,1307.8 L1373.7,1304.2 L1375.5,1300.6 L1377.3,1297.0 L1379.1,1293.4 L1381.0,1289.8 L1382.8,1286.3 L1384.8,1282.7 L1386.7,1279.2 L1388.7,1275.7 L1390.7,1272.2 L1392.7,1268.7 L1394.8,1265.2 L1396.9,1261.7 L1399.0,1258.3 L1401.1,1254.9 L1403.3,1251.5 L1405.5,1248.1 L1407.8,1244.7 L1410.1,1241.3 L1412.4,1238.0 L1414.7,1234.7 L1417.1,1231.4 L1419.5,1228.2 L1421.9,1224.9 L1424.3,1221.7 L1426.8,1218.6 L1429.3,1215.4 L1431.8,1212.3 L1434.4,1209.2 L1437.0,1206.1 L1439.6,1203.0 L1442.3,1200.0 L1444.9,1197.0 L1447.6,1194.1 L1450.4,1191.2 L1453.1,1188.3 L1455.9,1185.4 L1458.7,1182.6 L1461.6,1179.8 L1464.5,1177.0 L1467.4,1174.3 L1470.3,1171.6 L1473.2,1169.0 L1476.2,1166.4 L1479.2,1163.8 L1482.3,1161.3 L1485.3,1158.8 L1488.4,1156.4 L1491.5,1154.0 L1494.7,1151.6 L1497.8,1149.3 L1501.0,1147.0 L1504.3,1144.8 L1507.5,1142.6 L1510.8,1140.4 L1514.1,1138.3 L1517.4,1136.3 L1520.8,1134.3 L1524.1,1132.3 L1527.6,1130.4 L1531.0,1128.5 L1534.4,1126.7 L1537.9,1125.0 L1541.4,1123.3 L1545.0,1121.6 L1548.5,1120.0 L1552.1,1118.5 L1555.7,1117.0 L1559.3,1115.6 L1563.0,1114.2 L1566.7,1112.9 L1570.4,1111.6 L1574.1,1110.4 L1577.9,1109.3 L1581.6,1108.2 L1585.5,1107.1 L1589.3,1106.2 L1593.1,1105.3 L1597.0,1104.4 L1600.9,1103.6 L1604.8,1102.9 L1608.8,1102.3 L1612.8,1101.7 L1616.7,1101.2 L1620.8,1100.7 L1624.8,1100.3 L1628.9,1100.0 L1633.0,1099.7 L1637.1,1099.6 L1641.2,1099.5 Z" fill="none" stroke="#4f080b" stroke-width="3"/>
<g fill="none" stroke="#e9392c" stroke-width="15" stroke-linecap="round" opacity="0.9">
<path d="M1514.0,1270.0 C1506.7,1278.3 1481.5,1301.7 1470.0,1320.0 C1458.5,1338.3 1450.5,1360.0 1445.0,1380.0 C1439.5,1400.0 1437.0,1418.3 1437.0,1440.0 C1437.0,1461.7 1439.0,1486.0 1445.0,1510.0 C1451.0,1534.0 1468.3,1571.7 1473.0,1584.0"/>
<path d="M1556.0,1308.0 C1549.2,1312.5 1526.0,1323.0 1515.0,1335.0 C1504.0,1347.0 1495.8,1362.5 1490.0,1380.0 C1484.2,1397.5 1481.3,1417.2 1480.0,1440.0 C1478.7,1462.8 1481.7,1504.2 1482.0,1517.0"/>
</g>
<path d="M1694.9,1334.2 L1698.2,1334.8 L1701.7,1335.9 L1704.9,1337.6 L1707.8,1339.8 L1710.0,1342.5 L1711.5,1345.6 L1712.1,1349.1 L1712.1,1352.9 L1711.5,1356.9 L1710.6,1361.1 L1709.4,1365.4 L1708.2,1369.8 L1707.0,1374.1 L1706.0,1378.4 L1705.1,1382.7 L1704.2,1386.9 L1703.5,1391.0 L1702.8,1395.1 L1702.2,1399.2 L1701.6,1403.2 L1701.1,1407.2 L1700.5,1411.2 L1700.0,1415.1 L1699.4,1419.0 L1698.8,1422.8 L1698.2,1426.7 L1697.5,1430.5 L1696.7,1434.3 L1695.8,1438.1 L1694.8,1441.8 L1693.7,1445.6 L1692.4,1449.3 L1691.0,1453.0 L1689.5,1456.7 L1687.9,1460.4 L1686.3,1464.1 L1684.7,1467.9 L1683.2,1471.6 L1681.8,1475.4 L1680.5,1479.2 L1679.4,1483.1 L1678.6,1487.0 L1678.1,1490.9 L1677.9,1494.9 L1678.1,1499.0 L1678.7,1503.2 L1679.5,1507.4 L1680.3,1511.6 L1680.9,1515.8 L1681.1,1519.9 L1680.6,1523.9 L1679.5,1527.7 L1677.9,1531.1 L1675.8,1534.1 L1673.3,1536.6 L1670.5,1538.3 L1667.5,1539.3 L1664.3,1539.4 L1661.0,1538.7 L1657.8,1537.1 L1654.6,1534.8 L1651.7,1532.0 L1649.0,1528.8 L1646.7,1525.2 L1644.8,1521.3 L1643.5,1517.4 L1642.6,1513.3 L1642.3,1509.2 L1642.4,1505.1 L1642.8,1500.9 L1643.6,1496.7 L1644.5,1492.5 L1645.7,1488.3 L1647.0,1484.1 L1648.4,1479.9 L1649.9,1475.8 L1651.2,1471.7 L1652.6,1467.7 L1653.7,1463.8 L1654.8,1460.0 L1655.8,1456.1 L1656.6,1452.4 L1657.4,1448.6 L1658.1,1444.9 L1658.7,1441.2 L1659.3,1437.5 L1659.8,1433.7 L1660.3,1430.0 L1660.8,1426.2 L1661.2,1422.3 L1661.6,1418.4 L1662.0,1414.4 L1662.5,1410.4 L1662.9,1406.2 L1663.4,1402.0 L1663.9,1397.6 L1664.5,1393.1 L1665.2,1388.5 L1665.9,1383.9 L1666.6,1379.2 L1667.5,1374.5 L1668.5,1369.9 L1669.6,1365.4 L1670.8,1361.0 L1672.1,1356.9 L1673.6,1352.9 L1675.2,1349.2 L1677.0,1345.8 L1679.0,1342.8 L1681.1,1340.1 L1683.4,1337.9 L1686.0,1336.2 L1688.7,1335.0 L1691.7,1334.3 L1694.9,1334.2 Z" fill="#73604a" opacity="0.82"/>
<clipPath id="ck1"><path d="M2353.4,1099.4 L2357.5,1099.4 L2361.6,1099.5 L2365.7,1099.6 L2369.8,1099.8 L2373.9,1100.0 L2377.9,1100.4 L2381.9,1100.8 L2385.9,1101.2 L2389.8,1101.7 L2393.8,1102.3 L2397.7,1103.0 L2401.6,1103.7 L2405.5,1104.5 L2409.3,1105.3 L2413.2,1106.2 L2417.0,1107.2 L2420.8,1108.2 L2424.5,1109.3 L2428.3,1110.5 L2432.0,1111.7 L2435.7,1112.9 L2439.4,1114.3 L2443.0,1115.6 L2446.7,1117.1 L2450.3,1118.6 L2453.8,1120.1 L2457.4,1121.7 L2460.9,1123.4 L2464.4,1125.1 L2467.9,1126.8 L2471.4,1128.6 L2474.8,1130.5 L2478.2,1132.4 L2481.6,1134.4 L2484.9,1136.4 L2488.3,1138.4 L2491.6,1140.5 L2494.9,1142.7 L2498.1,1144.9 L2501.3,1147.1 L2504.5,1149.4 L2507.7,1151.7 L2510.8,1154.1 L2514.0,1156.5 L2517.1,1159.0 L2520.1,1161.5 L2523.2,1164.0 L2526.2,1166.6 L2529.1,1169.2 L2532.1,1171.9 L2535.0,1174.5 L2537.9,1177.3 L2540.8,1180.1 L2543.6,1182.9 L2546.4,1185.7 L2549.2,1188.6 L2552.0,1191.5 L2554.7,1194.4 L2557.4,1197.4 L2560.0,1200.4 L2562.7,1203.5 L2565.3,1206.5 L2567.8,1209.6 L2570.4,1212.8 L2572.9,1215.9 L2575.4,1219.1 L2577.8,1222.3 L2580.2,1225.6 L2582.6,1228.9 L2585.0,1232.1 L2587.3,1235.5 L2589.6,1238.8 L2591.9,1242.2 L2594.1,1245.6 L2596.3,1249.0 L2598.5,1252.4 L2600.6,1255.9 L2602.7,1259.4 L2604.8,1262.9 L2606.8,1266.4 L2608.8,1269.9 L2610.8,1273.5 L2612.7,1277.0 L2614.6,1280.6 L2616.4,1284.2 L2618.3,1287.9 L2620.1,1291.5 L2621.8,1295.1 L2623.6,1298.8 L2625.3,1302.5 L2626.9,1306.1 L2628.5,1309.8 L2630.1,1313.6 L2631.7,1317.3 L2633.2,1321.0 L2634.7,1324.7 L2636.1,1328.5 L2637.5,1332.3 L2638.9,1336.0 L2640.3,1339.8 L2641.6,1343.6 L2642.8,1347.4 L2644.1,1351.2 L2645.3,1355.0 L2646.4,1358.9 L2647.5,1362.7 L2648.6,1366.6 L2649.7,1370.4 L2650.7,1374.3 L2651.7,1378.2 L2652.6,1382.1 L2653.5,1386.0 L2654.4,1389.9 L2655.2,1393.8 L2656.0,1397.7 L2656.8,1401.6 L2657.5,1405.6 L2658.2,1409.5 L2658.8,1413.5 L2659.4,1417.4 L2660.0,1421.4 L2660.5,1425.4 L2661.0,1429.3 L2661.5,1433.3 L2661.9,1437.3 L2662.3,1441.3 L2662.6,1445.3 L2662.9,1449.3 L2663.2,1453.4 L2663.4,1457.4 L2663.6,1461.4 L2663.8,1465.5 L2663.9,1469.5 L2664.0,1473.5 L2664.0,1477.6 L2664.0,1481.7 L2664.0,1485.7 L2663.9,1489.8 L2663.8,1493.9 L2663.6,1497.9 L2663.4,1502.0 L2663.2,1506.1 L2662.9,1510.2 L2662.6,1514.2 L2662.2,1518.3 L2661.8,1522.4 L2661.3,1526.4 L2660.8,1530.5 L2660.3,1534.5 L2659.7,1538.5 L2659.0,1542.6 L2658.3,1546.6 L2657.6,1550.5 L2656.7,1554.5 L2655.9,1558.4 L2655.0,1562.4 L2654.0,1566.2 L2652.9,1570.1 L2651.8,1574.0 L2650.7,1577.8 L2649.5,1581.6 L2648.2,1585.3 L2646.9,1589.0 L2645.5,1592.7 L2644.0,1596.4 L2642.5,1600.0 L2640.9,1603.6 L2639.2,1607.1 L2637.5,1610.6 L2635.7,1614.1 L2633.8,1617.5 L2631.9,1620.8 L2629.8,1624.1 L2627.8,1627.4 L2625.6,1630.6 L2623.4,1633.7 L2621.0,1636.8 L2618.7,1639.9 L2616.2,1642.9 L2613.6,1645.8 L2611.0,1648.6 L2608.3,1651.4 L2605.5,1654.2 L2602.7,1656.9 L2599.7,1659.5 L2596.7,1662.0 L2593.7,1664.5 L2590.6,1667.0 L2587.4,1669.4 L2584.1,1671.7 L2580.8,1674.0 L2577.5,1676.2 L2574.0,1678.4 L2570.6,1680.5 L2567.1,1682.6 L2563.5,1684.6 L2559.9,1686.5 L2556.3,1688.5 L2552.6,1690.3 L2548.9,1692.1 L2545.1,1693.9 L2541.4,1695.6 L2537.6,1697.3 L2533.7,1698.9 L2529.9,1700.5 L2526.0,1702.0 L2522.1,1703.5 L2518.2,1704.9 L2514.3,1706.3 L2510.3,1707.7 L2506.4,1709.0 L2502.4,1710.3 L2498.5,1711.5 L2494.5,1712.7 L2490.5,1713.8 L2486.6,1715.0 L2482.6,1716.0 L2478.7,1717.1 L2474.7,1718.1 L2470.8,1719.0 L2466.8,1720.0 L2462.9,1720.8 L2459.0,1721.7 L2455.0,1722.5 L2451.1,1723.3 L2447.2,1724.0 L2443.3,1724.6 L2439.4,1725.3 L2435.4,1725.9 L2431.5,1726.4 L2427.6,1726.9 L2423.7,1727.4 L2419.8,1727.8 L2415.8,1728.1 L2411.9,1728.4 L2408.0,1728.7 L2404.0,1728.9 L2400.1,1729.1 L2396.2,1729.2 L2392.2,1729.3 L2388.3,1729.3 L2384.3,1729.2 L2380.3,1729.1 L2376.4,1729.0 L2372.4,1728.8 L2368.4,1728.5 L2364.4,1728.2 L2360.4,1727.9 L2356.4,1727.5 L2352.4,1727.0 L2348.4,1726.5 L2344.3,1725.9 L2340.3,1725.2 L2336.2,1724.5 L2332.1,1723.8 L2328.0,1722.9 L2323.9,1722.1 L2319.8,1721.1 L2315.7,1720.1 L2311.5,1719.0 L2307.4,1717.9 L2303.3,1716.7 L2299.2,1715.4 L2295.2,1713.9 L2291.2,1712.4 L2287.4,1710.8 L2283.6,1709.1 L2279.9,1707.2 L2276.3,1705.2 L2272.9,1703.1 L2269.6,1700.8 L2266.5,1698.4 L2263.5,1695.8 L2260.8,1693.1 L2258.2,1690.3 L2255.8,1687.3 L2253.7,1684.2 L2251.8,1681.0 L2250.1,1677.7 L2248.7,1674.4 L2247.5,1671.0 L2246.6,1667.5 L2245.9,1664.1 L2245.6,1660.5 L2245.4,1657.0 L2245.6,1653.4 L2245.9,1649.8 L2246.5,1646.2 L2247.2,1642.6 L2248.2,1638.9 L2249.4,1635.3 L2250.7,1631.6 L2252.1,1627.9 L2253.8,1624.2 L2255.5,1620.5 L2257.4,1616.8 L2259.4,1613.1 L2261.5,1609.4 L2263.7,1605.7 L2266.0,1602.0 L2268.3,1598.3 L2270.7,1594.6 L2273.1,1590.9 L2275.6,1587.3 L2278.1,1583.6 L2280.5,1580.0 L2283.0,1576.4 L2285.5,1572.8 L2287.9,1569.3 L2290.3,1565.8 L2292.7,1562.3 L2295.0,1558.8 L2297.2,1555.4 L2299.3,1552.0 L2301.3,1548.6 L2303.3,1545.3 L2305.1,1542.0 L2306.8,1538.7 L2308.4,1535.4 L2309.9,1532.1 L2311.2,1528.7 L2312.4,1525.4 L2313.4,1522.1 L2314.3,1518.7 L2315.0,1515.3 L2315.6,1511.9 L2315.9,1508.4 L2316.1,1504.9 L2316.1,1501.3 L2315.9,1497.7 L2315.6,1494.0 L2315.1,1490.3 L2314.5,1486.5 L2313.9,1482.7 L2313.1,1478.9 L2312.2,1475.0 L2311.3,1471.1 L2310.3,1467.1 L2309.3,1463.1 L2308.3,1459.1 L2307.3,1455.1 L2306.3,1451.0 L2305.3,1446.9 L2304.3,1442.8 L2303.5,1438.7 L2302.6,1434.6 L2301.9,1430.4 L2301.1,1426.3 L2300.4,1422.2 L2299.7,1418.0 L2298.9,1413.9 L2298.2,1409.8 L2297.5,1405.7 L2296.7,1401.7 L2296.0,1397.6 L2295.1,1393.7 L2294.3,1389.7 L2293.3,1385.8 L2292.4,1382.0 L2291.3,1378.2 L2290.1,1374.5 L2288.9,1370.8 L2287.5,1367.3 L2286.1,1363.7 L2284.6,1360.3 L2283.0,1356.9 L2281.3,1353.5 L2279.5,1350.2 L2277.6,1347.0 L2275.7,1343.8 L2273.7,1340.6 L2271.7,1337.4 L2269.6,1334.3 L2267.4,1331.2 L2265.1,1328.2 L2262.9,1325.1 L2260.5,1322.1 L2258.1,1319.1 L2255.7,1316.1 L2253.3,1313.1 L2250.8,1310.1 L2248.2,1307.1 L2245.7,1304.1 L2243.1,1301.0 L2240.5,1298.0 L2237.9,1294.9 L2235.2,1291.9 L2232.6,1288.7 L2229.9,1285.6 L2227.2,1282.4 L2224.6,1279.2 L2221.9,1276.0 L2219.2,1272.7 L2216.6,1269.4 L2214.0,1266.0 L2211.4,1262.6 L2208.8,1259.1 L2206.4,1255.6 L2203.9,1252.1 L2201.6,1248.5 L2199.3,1245.0 L2197.1,1241.4 L2195.0,1237.7 L2193.1,1234.1 L2191.2,1230.4 L2189.5,1226.8 L2188.0,1223.1 L2186.6,1219.4 L2185.3,1215.7 L2184.2,1211.9 L2183.4,1208.2 L2182.7,1204.5 L2182.2,1200.8 L2181.9,1197.0 L2181.8,1193.3 L2182.0,1189.6 L2182.4,1185.9 L2183.0,1182.2 L2183.9,1178.6 L2184.9,1175.0 L2186.2,1171.4 L2187.6,1167.9 L2189.3,1164.4 L2191.1,1161.0 L2193.1,1157.7 L2195.2,1154.4 L2197.5,1151.2 L2200.0,1148.2 L2202.6,1145.2 L2205.3,1142.3 L2208.2,1139.6 L2211.1,1137.0 L2214.2,1134.5 L2217.4,1132.1 L2220.7,1129.9 L2224.0,1127.9 L2227.5,1126.0 L2231.0,1124.2 L2234.6,1122.5 L2238.3,1120.9 L2242.0,1119.5 L2245.8,1118.1 L2249.7,1116.8 L2253.6,1115.6 L2257.6,1114.4 L2261.6,1113.4 L2265.6,1112.3 L2269.7,1111.3 L2273.7,1110.4 L2277.9,1109.4 L2282.0,1108.5 L2286.2,1107.6 L2290.3,1106.8 L2294.5,1106.0 L2298.7,1105.2 L2302.9,1104.4 L2307.2,1103.7 L2311.4,1103.1 L2315.6,1102.5 L2319.8,1101.9 L2324.1,1101.4 L2328.3,1100.9 L2332.5,1100.5 L2336.7,1100.2 L2340.9,1099.9 L2345.1,1099.7 L2349.3,1099.5 L2353.4,1099.4 Z"/></clipPath>
<path d="M2353.4,1099.4 L2357.5,1099.4 L2361.6,1099.5 L2365.7,1099.6 L2369.8,1099.8 L2373.9,1100.0 L2377.9,1100.4 L2381.9,1100.8 L2385.9,1101.2 L2389.8,1101.7 L2393.8,1102.3 L2397.7,1103.0 L2401.6,1103.7 L2405.5,1104.5 L2409.3,1105.3 L2413.2,1106.2 L2417.0,1107.2 L2420.8,1108.2 L2424.5,1109.3 L2428.3,1110.5 L2432.0,1111.7 L2435.7,1112.9 L2439.4,1114.3 L2443.0,1115.6 L2446.7,1117.1 L2450.3,1118.6 L2453.8,1120.1 L2457.4,1121.7 L2460.9,1123.4 L2464.4,1125.1 L2467.9,1126.8 L2471.4,1128.6 L2474.8,1130.5 L2478.2,1132.4 L2481.6,1134.4 L2484.9,1136.4 L2488.3,1138.4 L2491.6,1140.5 L2494.9,1142.7 L2498.1,1144.9 L2501.3,1147.1 L2504.5,1149.4 L2507.7,1151.7 L2510.8,1154.1 L2514.0,1156.5 L2517.1,1159.0 L2520.1,1161.5 L2523.2,1164.0 L2526.2,1166.6 L2529.1,1169.2 L2532.1,1171.9 L2535.0,1174.5 L2537.9,1177.3 L2540.8,1180.1 L2543.6,1182.9 L2546.4,1185.7 L2549.2,1188.6 L2552.0,1191.5 L2554.7,1194.4 L2557.4,1197.4 L2560.0,1200.4 L2562.7,1203.5 L2565.3,1206.5 L2567.8,1209.6 L2570.4,1212.8 L2572.9,1215.9 L2575.4,1219.1 L2577.8,1222.3 L2580.2,1225.6 L2582.6,1228.9 L2585.0,1232.1 L2587.3,1235.5 L2589.6,1238.8 L2591.9,1242.2 L2594.1,1245.6 L2596.3,1249.0 L2598.5,1252.4 L2600.6,1255.9 L2602.7,1259.4 L2604.8,1262.9 L2606.8,1266.4 L2608.8,1269.9 L2610.8,1273.5 L2612.7,1277.0 L2614.6,1280.6 L2616.4,1284.2 L2618.3,1287.9 L2620.1,1291.5 L2621.8,1295.1 L2623.6,1298.8 L2625.3,1302.5 L2626.9,1306.1 L2628.5,1309.8 L2630.1,1313.6 L2631.7,1317.3 L2633.2,1321.0 L2634.7,1324.7 L2636.1,1328.5 L2637.5,1332.3 L2638.9,1336.0 L2640.3,1339.8 L2641.6,1343.6 L2642.8,1347.4 L2644.1,1351.2 L2645.3,1355.0 L2646.4,1358.9 L2647.5,1362.7 L2648.6,1366.6 L2649.7,1370.4 L2650.7,1374.3 L2651.7,1378.2 L2652.6,1382.1 L2653.5,1386.0 L2654.4,1389.9 L2655.2,1393.8 L2656.0,1397.7 L2656.8,1401.6 L2657.5,1405.6 L2658.2,1409.5 L2658.8,1413.5 L2659.4,1417.4 L2660.0,1421.4 L2660.5,1425.4 L2661.0,1429.3 L2661.5,1433.3 L2661.9,1437.3 L2662.3,1441.3 L2662.6,1445.3 L2662.9,1449.3 L2663.2,1453.4 L2663.4,1457.4 L2663.6,1461.4 L2663.8,1465.5 L2663.9,1469.5 L2664.0,1473.5 L2664.0,1477.6 L2664.0,1481.7 L2664.0,1485.7 L2663.9,1489.8 L2663.8,1493.9 L2663.6,1497.9 L2663.4,1502.0 L2663.2,1506.1 L2662.9,1510.2 L2662.6,1514.2 L2662.2,1518.3 L2661.8,1522.4 L2661.3,1526.4 L2660.8,1530.5 L2660.3,1534.5 L2659.7,1538.5 L2659.0,1542.6 L2658.3,1546.6 L2657.6,1550.5 L2656.7,1554.5 L2655.9,1558.4 L2655.0,1562.4 L2654.0,1566.2 L2652.9,1570.1 L2651.8,1574.0 L2650.7,1577.8 L2649.5,1581.6 L2648.2,1585.3 L2646.9,1589.0 L2645.5,1592.7 L2644.0,1596.4 L2642.5,1600.0 L2640.9,1603.6 L2639.2,1607.1 L2637.5,1610.6 L2635.7,1614.1 L2633.8,1617.5 L2631.9,1620.8 L2629.8,1624.1 L2627.8,1627.4 L2625.6,1630.6 L2623.4,1633.7 L2621.0,1636.8 L2618.7,1639.9 L2616.2,1642.9 L2613.6,1645.8 L2611.0,1648.6 L2608.3,1651.4 L2605.5,1654.2 L2602.7,1656.9 L2599.7,1659.5 L2596.7,1662.0 L2593.7,1664.5 L2590.6,1667.0 L2587.4,1669.4 L2584.1,1671.7 L2580.8,1674.0 L2577.5,1676.2 L2574.0,1678.4 L2570.6,1680.5 L2567.1,1682.6 L2563.5,1684.6 L2559.9,1686.5 L2556.3,1688.5 L2552.6,1690.3 L2548.9,1692.1 L2545.1,1693.9 L2541.4,1695.6 L2537.6,1697.3 L2533.7,1698.9 L2529.9,1700.5 L2526.0,1702.0 L2522.1,1703.5 L2518.2,1704.9 L2514.3,1706.3 L2510.3,1707.7 L2506.4,1709.0 L2502.4,1710.3 L2498.5,1711.5 L2494.5,1712.7 L2490.5,1713.8 L2486.6,1715.0 L2482.6,1716.0 L2478.7,1717.1 L2474.7,1718.1 L2470.8,1719.0 L2466.8,1720.0 L2462.9,1720.8 L2459.0,1721.7 L2455.0,1722.5 L2451.1,1723.3 L2447.2,1724.0 L2443.3,1724.6 L2439.4,1725.3 L2435.4,1725.9 L2431.5,1726.4 L2427.6,1726.9 L2423.7,1727.4 L2419.8,1727.8 L2415.8,1728.1 L2411.9,1728.4 L2408.0,1728.7 L2404.0,1728.9 L2400.1,1729.1 L2396.2,1729.2 L2392.2,1729.3 L2388.3,1729.3 L2384.3,1729.2 L2380.3,1729.1 L2376.4,1729.0 L2372.4,1728.8 L2368.4,1728.5 L2364.4,1728.2 L2360.4,1727.9 L2356.4,1727.5 L2352.4,1727.0 L2348.4,1726.5 L2344.3,1725.9 L2340.3,1725.2 L2336.2,1724.5 L2332.1,1723.8 L2328.0,1722.9 L2323.9,1722.1 L2319.8,1721.1 L2315.7,1720.1 L2311.5,1719.0 L2307.4,1717.9 L2303.3,1716.7 L2299.2,1715.4 L2295.2,1713.9 L2291.2,1712.4 L2287.4,1710.8 L2283.6,1709.1 L2279.9,1707.2 L2276.3,1705.2 L2272.9,1703.1 L2269.6,1700.8 L2266.5,1698.4 L2263.5,1695.8 L2260.8,1693.1 L2258.2,1690.3 L2255.8,1687.3 L2253.7,1684.2 L2251.8,1681.0 L2250.1,1677.7 L2248.7,1674.4 L2247.5,1671.0 L2246.6,1667.5 L2245.9,1664.1 L2245.6,1660.5 L2245.4,1657.0 L2245.6,1653.4 L2245.9,1649.8 L2246.5,1646.2 L2247.2,1642.6 L2248.2,1638.9 L2249.4,1635.3 L2250.7,1631.6 L2252.1,1627.9 L2253.8,1624.2 L2255.5,1620.5 L2257.4,1616.8 L2259.4,1613.1 L2261.5,1609.4 L2263.7,1605.7 L2266.0,1602.0 L2268.3,1598.3 L2270.7,1594.6 L2273.1,1590.9 L2275.6,1587.3 L2278.1,1583.6 L2280.5,1580.0 L2283.0,1576.4 L2285.5,1572.8 L2287.9,1569.3 L2290.3,1565.8 L2292.7,1562.3 L2295.0,1558.8 L2297.2,1555.4 L2299.3,1552.0 L2301.3,1548.6 L2303.3,1545.3 L2305.1,1542.0 L2306.8,1538.7 L2308.4,1535.4 L2309.9,1532.1 L2311.2,1528.7 L2312.4,1525.4 L2313.4,1522.1 L2314.3,1518.7 L2315.0,1515.3 L2315.6,1511.9 L2315.9,1508.4 L2316.1,1504.9 L2316.1,1501.3 L2315.9,1497.7 L2315.6,1494.0 L2315.1,1490.3 L2314.5,1486.5 L2313.9,1482.7 L2313.1,1478.9 L2312.2,1475.0 L2311.3,1471.1 L2310.3,1467.1 L2309.3,1463.1 L2308.3,1459.1 L2307.3,1455.1 L2306.3,1451.0 L2305.3,1446.9 L2304.3,1442.8 L2303.5,1438.7 L2302.6,1434.6 L2301.9,1430.4 L2301.1,1426.3 L2300.4,1422.2 L2299.7,1418.0 L2298.9,1413.9 L2298.2,1409.8 L2297.5,1405.7 L2296.7,1401.7 L2296.0,1397.6 L2295.1,1393.7 L2294.3,1389.7 L2293.3,1385.8 L2292.4,1382.0 L2291.3,1378.2 L2290.1,1374.5 L2288.9,1370.8 L2287.5,1367.3 L2286.1,1363.7 L2284.6,1360.3 L2283.0,1356.9 L2281.3,1353.5 L2279.5,1350.2 L2277.6,1347.0 L2275.7,1343.8 L2273.7,1340.6 L2271.7,1337.4 L2269.6,1334.3 L2267.4,1331.2 L2265.1,1328.2 L2262.9,1325.1 L2260.5,1322.1 L2258.1,1319.1 L2255.7,1316.1 L2253.3,1313.1 L2250.8,1310.1 L2248.2,1307.1 L2245.7,1304.1 L2243.1,1301.0 L2240.5,1298.0 L2237.9,1294.9 L2235.2,1291.9 L2232.6,1288.7 L2229.9,1285.6 L2227.2,1282.4 L2224.6,1279.2 L2221.9,1276.0 L2219.2,1272.7 L2216.6,1269.4 L2214.0,1266.0 L2211.4,1262.6 L2208.8,1259.1 L2206.4,1255.6 L2203.9,1252.1 L2201.6,1248.5 L2199.3,1245.0 L2197.1,1241.4 L2195.0,1237.7 L2193.1,1234.1 L2191.2,1230.4 L2189.5,1226.8 L2188.0,1223.1 L2186.6,1219.4 L2185.3,1215.7 L2184.2,1211.9 L2183.4,1208.2 L2182.7,1204.5 L2182.2,1200.8 L2181.9,1197.0 L2181.8,1193.3 L2182.0,1189.6 L2182.4,1185.9 L2183.0,1182.2 L2183.9,1178.6 L2184.9,1175.0 L2186.2,1171.4 L2187.6,1167.9 L2189.3,1164.4 L2191.1,1161.0 L2193.1,1157.7 L2195.2,1154.4 L2197.5,1151.2 L2200.0,1148.2 L2202.6,1145.2 L2205.3,1142.3 L2208.2,1139.6 L2211.1,1137.0 L2214.2,1134.5 L2217.4,1132.1 L2220.7,1129.9 L2224.0,1127.9 L2227.5,1126.0 L2231.0,1124.2 L2234.6,1122.5 L2238.3,1120.9 L2242.0,1119.5 L2245.8,1118.1 L2249.7,1116.8 L2253.6,1115.6 L2257.6,1114.4 L2261.6,1113.4 L2265.6,1112.3 L2269.7,1111.3 L2273.7,1110.4 L2277.9,1109.4 L2282.0,1108.5 L2286.2,1107.6 L2290.3,1106.8 L2294.5,1106.0 L2298.7,1105.2 L2302.9,1104.4 L2307.2,1103.7 L2311.4,1103.1 L2315.6,1102.5 L2319.8,1101.9 L2324.1,1101.4 L2328.3,1100.9 L2332.5,1100.5 L2336.7,1100.2 L2340.9,1099.9 L2345.1,1099.7 L2349.3,1099.5 L2353.4,1099.4 Z" fill="url(#gKid)"/>
<g fill="none" stroke="#a50f18" stroke-width="36" stroke-linecap="round" opacity="0.32" clip-path="url(#ck1)">
<path d="M2222.7,1155.5 L2219.0,1159.0 L2215.6,1162.5 L2212.6,1166.0 L2209.9,1169.5 L2207.5,1173.1 L2205.5,1176.6 L2203.8,1180.2 L2202.4,1183.8 L2201.2,1187.4 L2200.4,1191.0 L2199.8,1194.6 L2199.5,1198.2 L2199.5,1201.8 L2199.7,1205.4 L2200.1,1209.0 L2200.7,1212.6 L2201.6,1216.2 L2202.7,1219.8 L2203.9,1223.4 L2205.4,1227.0 L2207.0,1230.6 L2208.8,1234.2 L2210.8,1237.7 L2212.9,1241.3 L2215.1,1244.8 L2217.5,1248.3 L2220.0,1251.8 L2222.6,1255.3 L2225.3,1258.7 L2228.1,1262.2 L2230.9,1265.6 L2233.9,1269.0 L2236.9,1272.3 L2239.9,1275.6 L2243.0,1278.9 L2246.1,1282.2 L2249.3,1285.4 L2252.5,1288.6 L2255.6,1291.8 L2258.8,1294.9 L2261.9,1298.0 L2265.1,1301.0 L2268.1,1304.1 L2271.2,1307.0 L2274.2,1309.9 L2277.1,1312.8 L2280.0,1315.6 L2282.7,1318.4 L2285.4,1321.1 L2288.0,1323.8 L2290.4,1326.4 L2292.8,1329.0 L2295.0,1331.5 "/>
<path d="M2471.4,1147.0 L2475.0,1149.2 L2478.6,1151.4 L2482.1,1153.7 L2485.6,1156.0 L2489.1,1158.3 L2492.5,1160.7 L2495.9,1163.1 L2499.2,1165.5 L2502.6,1168.0 L2505.8,1170.5 L2509.1,1173.0 L2512.3,1175.6 L2515.5,1178.3 L2518.6,1180.9 L2521.7,1183.6 L2524.8,1186.3 L2527.8,1189.1 L2530.8,1191.8 L2533.8,1194.7 L2536.7,1197.5 L2539.6,1200.4 L2542.4,1203.3 L2545.2,1206.2 L2548.0,1209.2 L2550.7,1212.2 L2553.4,1215.2 L2556.1,1218.3 L2558.7,1221.4 L2561.3,1224.5 L2563.8,1227.6 L2566.4,1230.8 L2568.8,1234.0 L2571.3,1237.2 L2573.7,1240.4 L2576.0,1243.7 L2578.3,1247.0 L2580.6,1250.3 L2582.9,1253.7 L2585.1,1257.0 L2587.2,1260.4 L2589.4,1263.8 L2591.4,1267.3 L2593.5,1270.7 L2595.5,1274.2 L2597.5,1277.7 L2599.4,1281.2 L2601.3,1284.7 L2603.2,1288.3 L2605.0,1291.9 L2606.8,1295.5 L2608.5,1299.1 L2610.2,1302.7 L2611.9,1306.4 L2613.5,1310.1 L2615.1,1313.7 L2616.6,1317.5 L2618.1,1321.2 L2619.6,1324.9 L2621.0,1328.7 L2622.4,1332.4 L2623.7,1336.2 L2625.0,1340.0 L2626.3,1343.8 L2627.5,1347.6 L2628.7,1351.5 L2629.9,1355.3 L2631.0,1359.2 L2632.0,1363.1 L2633.0,1366.9 L2634.0,1370.8 L2635.0,1374.7 L2635.9,1378.6 L2636.7,1382.6 L2637.5,1386.5 L2638.3,1390.4 L2639.0,1394.4 L2639.7,1398.4 L2640.4,1402.3 L2641.0,1406.3 L2641.6,1410.3 L2642.1,1414.3 L2642.6,1418.3 L2643.0,1422.3 L2643.4,1426.3 L2643.8,1430.3 L2644.1,1434.3 L2644.4,1438.3 L2644.6,1442.3 L2644.8,1446.3 L2645.0,1450.4 L2645.1,1454.4 L2645.2,1458.4 L2645.2,1462.5 L2645.2,1466.5 L2645.1,1470.5 L2645.0,1474.5 L2644.8,1478.6 L2644.7,1482.6 L2644.4,1486.6 L2644.1,1490.7 L2643.8,1494.7 L2643.5,1498.7 L2643.1,1502.8 L2642.6,1506.8 L2642.1,1510.8 L2641.6,1514.8 L2641.0,1518.8 L2640.4,1522.8 L2639.7,1526.8 L2639.0,1530.8 L2638.3,1534.8 L2637.5,1538.8 L2636.6,1542.7 L2635.7,1546.7 L2634.8,1550.7 L2633.8,1554.6 L2632.8,1558.6 L2631.8,1562.5 L2630.6,1566.4 L2629.5,1570.3 L2628.3,1574.2 L2627.1,1578.1 L2625.8,1582.0 L2624.4,1585.9 L2623.1,1589.8 L2621.6,1593.6 L2620.2,1597.4 L2618.7,1601.3 L2617.1,1605.1 L2615.5,1608.9 L2613.9,1612.7 L2612.2,1616.4 L2610.4,1620.2 L2608.7,1623.9 L2606.8,1627.6 L2605.0,1631.3 L2603.0,1635.0 L2601.1,1638.7 L2599.1,1642.4 L2597.0,1646.0 "/>
<path d="M2446.0,1696.0 L2442.8,1697.5 L2439.5,1699.0 L2436.1,1700.3 L2432.5,1701.5 L2428.8,1702.6 L2424.9,1703.6 L2421.0,1704.5 L2417.0,1705.2 L2412.9,1705.9 L2408.7,1706.4 L2404.5,1706.8 L2400.2,1707.2 L2395.8,1707.4 L2391.4,1707.5 L2386.9,1707.5 L2382.5,1707.4 L2378.0,1707.2 L2373.4,1706.9 L2368.9,1706.4 L2364.4,1705.9 L2359.9,1705.3 L2355.5,1704.5 L2351.0,1703.7 L2346.6,1702.7 L2342.3,1701.7 L2338.0,1700.6 L2333.7,1699.3 L2329.6,1698.0 L2325.5,1696.5 L2321.5,1695.0 L2317.6,1693.3 L2313.8,1691.5 L2310.1,1689.7 L2306.6,1687.8 L2303.1,1685.7 L2299.9,1683.6 L2296.7,1681.3 L2293.7,1679.0 L2290.9,1676.6 L2288.3,1674.0 L2285.8,1671.4 L2283.5,1668.7 L2281.5,1665.9 L2279.6,1663.0 L2277.9,1660.0 L2276.5,1656.9 L2275.3,1653.7 L2274.3,1650.4 L2273.6,1647.1 L2273.2,1643.6 L2273.0,1640.1 L2273.0,1636.4 L2273.4,1632.7 L2273.9,1628.9 L2274.7,1625.1 L2275.8,1621.2 L2277.0,1617.3 L2278.4,1613.3 L2280.0,1609.3 L2281.8,1605.3 L2283.7,1601.3 L2285.8,1597.3 L2287.9,1593.3 L2290.2,1589.4 L2292.6,1585.5 L2295.1,1581.6 L2297.6,1577.8 L2300.2,1574.0 L2302.9,1570.3 L2305.6,1566.8 L2308.3,1563.2 L2311.0,1559.8 L2313.7,1556.6 L2316.4,1553.4 L2319.0,1550.3 L2321.6,1547.5 L2324.2,1544.7 L2326.6,1542.1 L2329.0,1539.7 "/>
</g>
<path d="M2353.4,1099.4 L2357.5,1099.4 L2361.6,1099.5 L2365.7,1099.6 L2369.8,1099.8 L2373.9,1100.0 L2377.9,1100.4 L2381.9,1100.8 L2385.9,1101.2 L2389.8,1101.7 L2393.8,1102.3 L2397.7,1103.0 L2401.6,1103.7 L2405.5,1104.5 L2409.3,1105.3 L2413.2,1106.2 L2417.0,1107.2 L2420.8,1108.2 L2424.5,1109.3 L2428.3,1110.5 L2432.0,1111.7 L2435.7,1112.9 L2439.4,1114.3 L2443.0,1115.6 L2446.7,1117.1 L2450.3,1118.6 L2453.8,1120.1 L2457.4,1121.7 L2460.9,1123.4 L2464.4,1125.1 L2467.9,1126.8 L2471.4,1128.6 L2474.8,1130.5 L2478.2,1132.4 L2481.6,1134.4 L2484.9,1136.4 L2488.3,1138.4 L2491.6,1140.5 L2494.9,1142.7 L2498.1,1144.9 L2501.3,1147.1 L2504.5,1149.4 L2507.7,1151.7 L2510.8,1154.1 L2514.0,1156.5 L2517.1,1159.0 L2520.1,1161.5 L2523.2,1164.0 L2526.2,1166.6 L2529.1,1169.2 L2532.1,1171.9 L2535.0,1174.5 L2537.9,1177.3 L2540.8,1180.1 L2543.6,1182.9 L2546.4,1185.7 L2549.2,1188.6 L2552.0,1191.5 L2554.7,1194.4 L2557.4,1197.4 L2560.0,1200.4 L2562.7,1203.5 L2565.3,1206.5 L2567.8,1209.6 L2570.4,1212.8 L2572.9,1215.9 L2575.4,1219.1 L2577.8,1222.3 L2580.2,1225.6 L2582.6,1228.9 L2585.0,1232.1 L2587.3,1235.5 L2589.6,1238.8 L2591.9,1242.2 L2594.1,1245.6 L2596.3,1249.0 L2598.5,1252.4 L2600.6,1255.9 L2602.7,1259.4 L2604.8,1262.9 L2606.8,1266.4 L2608.8,1269.9 L2610.8,1273.5 L2612.7,1277.0 L2614.6,1280.6 L2616.4,1284.2 L2618.3,1287.9 L2620.1,1291.5 L2621.8,1295.1 L2623.6,1298.8 L2625.3,1302.5 L2626.9,1306.1 L2628.5,1309.8 L2630.1,1313.6 L2631.7,1317.3 L2633.2,1321.0 L2634.7,1324.7 L2636.1,1328.5 L2637.5,1332.3 L2638.9,1336.0 L2640.3,1339.8 L2641.6,1343.6 L2642.8,1347.4 L2644.1,1351.2 L2645.3,1355.0 L2646.4,1358.9 L2647.5,1362.7 L2648.6,1366.6 L2649.7,1370.4 L2650.7,1374.3 L2651.7,1378.2 L2652.6,1382.1 L2653.5,1386.0 L2654.4,1389.9 L2655.2,1393.8 L2656.0,1397.7 L2656.8,1401.6 L2657.5,1405.6 L2658.2,1409.5 L2658.8,1413.5 L2659.4,1417.4 L2660.0,1421.4 L2660.5,1425.4 L2661.0,1429.3 L2661.5,1433.3 L2661.9,1437.3 L2662.3,1441.3 L2662.6,1445.3 L2662.9,1449.3 L2663.2,1453.4 L2663.4,1457.4 L2663.6,1461.4 L2663.8,1465.5 L2663.9,1469.5 L2664.0,1473.5 L2664.0,1477.6 L2664.0,1481.7 L2664.0,1485.7 L2663.9,1489.8 L2663.8,1493.9 L2663.6,1497.9 L2663.4,1502.0 L2663.2,1506.1 L2662.9,1510.2 L2662.6,1514.2 L2662.2,1518.3 L2661.8,1522.4 L2661.3,1526.4 L2660.8,1530.5 L2660.3,1534.5 L2659.7,1538.5 L2659.0,1542.6 L2658.3,1546.6 L2657.6,1550.5 L2656.7,1554.5 L2655.9,1558.4 L2655.0,1562.4 L2654.0,1566.2 L2652.9,1570.1 L2651.8,1574.0 L2650.7,1577.8 L2649.5,1581.6 L2648.2,1585.3 L2646.9,1589.0 L2645.5,1592.7 L2644.0,1596.4 L2642.5,1600.0 L2640.9,1603.6 L2639.2,1607.1 L2637.5,1610.6 L2635.7,1614.1 L2633.8,1617.5 L2631.9,1620.8 L2629.8,1624.1 L2627.8,1627.4 L2625.6,1630.6 L2623.4,1633.7 L2621.0,1636.8 L2618.7,1639.9 L2616.2,1642.9 L2613.6,1645.8 L2611.0,1648.6 L2608.3,1651.4 L2605.5,1654.2 L2602.7,1656.9 L2599.7,1659.5 L2596.7,1662.0 L2593.7,1664.5 L2590.6,1667.0 L2587.4,1669.4 L2584.1,1671.7 L2580.8,1674.0 L2577.5,1676.2 L2574.0,1678.4 L2570.6,1680.5 L2567.1,1682.6 L2563.5,1684.6 L2559.9,1686.5 L2556.3,1688.5 L2552.6,1690.3 L2548.9,1692.1 L2545.1,1693.9 L2541.4,1695.6 L2537.6,1697.3 L2533.7,1698.9 L2529.9,1700.5 L2526.0,1702.0 L2522.1,1703.5 L2518.2,1704.9 L2514.3,1706.3 L2510.3,1707.7 L2506.4,1709.0 L2502.4,1710.3 L2498.5,1711.5 L2494.5,1712.7 L2490.5,1713.8 L2486.6,1715.0 L2482.6,1716.0 L2478.7,1717.1 L2474.7,1718.1 L2470.8,1719.0 L2466.8,1720.0 L2462.9,1720.8 L2459.0,1721.7 L2455.0,1722.5 L2451.1,1723.3 L2447.2,1724.0 L2443.3,1724.6 L2439.4,1725.3 L2435.4,1725.9 L2431.5,1726.4 L2427.6,1726.9 L2423.7,1727.4 L2419.8,1727.8 L2415.8,1728.1 L2411.9,1728.4 L2408.0,1728.7 L2404.0,1728.9 L2400.1,1729.1 L2396.2,1729.2 L2392.2,1729.3 L2388.3,1729.3 L2384.3,1729.2 L2380.3,1729.1 L2376.4,1729.0 L2372.4,1728.8 L2368.4,1728.5 L2364.4,1728.2 L2360.4,1727.9 L2356.4,1727.5 L2352.4,1727.0 L2348.4,1726.5 L2344.3,1725.9 L2340.3,1725.2 L2336.2,1724.5 L2332.1,1723.8 L2328.0,1722.9 L2323.9,1722.1 L2319.8,1721.1 L2315.7,1720.1 L2311.5,1719.0 L2307.4,1717.9 L2303.3,1716.7 L2299.2,1715.4 L2295.2,1713.9 L2291.2,1712.4 L2287.4,1710.8 L2283.6,1709.1 L2279.9,1707.2 L2276.3,1705.2 L2272.9,1703.1 L2269.6,1700.8 L2266.5,1698.4 L2263.5,1695.8 L2260.8,1693.1 L2258.2,1690.3 L2255.8,1687.3 L2253.7,1684.2 L2251.8,1681.0 L2250.1,1677.7 L2248.7,1674.4 L2247.5,1671.0 L2246.6,1667.5 L2245.9,1664.1 L2245.6,1660.5 L2245.4,1657.0 L2245.6,1653.4 L2245.9,1649.8 L2246.5,1646.2 L2247.2,1642.6 L2248.2,1638.9 L2249.4,1635.3 L2250.7,1631.6 L2252.1,1627.9 L2253.8,1624.2 L2255.5,1620.5 L2257.4,1616.8 L2259.4,1613.1 L2261.5,1609.4 L2263.7,1605.7 L2266.0,1602.0 L2268.3,1598.3 L2270.7,1594.6 L2273.1,1590.9 L2275.6,1587.3 L2278.1,1583.6 L2280.5,1580.0 L2283.0,1576.4 L2285.5,1572.8 L2287.9,1569.3 L2290.3,1565.8 L2292.7,1562.3 L2295.0,1558.8 L2297.2,1555.4 L2299.3,1552.0 L2301.3,1548.6 L2303.3,1545.3 L2305.1,1542.0 L2306.8,1538.7 L2308.4,1535.4 L2309.9,1532.1 L2311.2,1528.7 L2312.4,1525.4 L2313.4,1522.1 L2314.3,1518.7 L2315.0,1515.3 L2315.6,1511.9 L2315.9,1508.4 L2316.1,1504.9 L2316.1,1501.3 L2315.9,1497.7 L2315.6,1494.0 L2315.1,1490.3 L2314.5,1486.5 L2313.9,1482.7 L2313.1,1478.9 L2312.2,1475.0 L2311.3,1471.1 L2310.3,1467.1 L2309.3,1463.1 L2308.3,1459.1 L2307.3,1455.1 L2306.3,1451.0 L2305.3,1446.9 L2304.3,1442.8 L2303.5,1438.7 L2302.6,1434.6 L2301.9,1430.4 L2301.1,1426.3 L2300.4,1422.2 L2299.7,1418.0 L2298.9,1413.9 L2298.2,1409.8 L2297.5,1405.7 L2296.7,1401.7 L2296.0,1397.6 L2295.1,1393.7 L2294.3,1389.7 L2293.3,1385.8 L2292.4,1382.0 L2291.3,1378.2 L2290.1,1374.5 L2288.9,1370.8 L2287.5,1367.3 L2286.1,1363.7 L2284.6,1360.3 L2283.0,1356.9 L2281.3,1353.5 L2279.5,1350.2 L2277.6,1347.0 L2275.7,1343.8 L2273.7,1340.6 L2271.7,1337.4 L2269.6,1334.3 L2267.4,1331.2 L2265.1,1328.2 L2262.9,1325.1 L2260.5,1322.1 L2258.1,1319.1 L2255.7,1316.1 L2253.3,1313.1 L2250.8,1310.1 L2248.2,1307.1 L2245.7,1304.1 L2243.1,1301.0 L2240.5,1298.0 L2237.9,1294.9 L2235.2,1291.9 L2232.6,1288.7 L2229.9,1285.6 L2227.2,1282.4 L2224.6,1279.2 L2221.9,1276.0 L2219.2,1272.7 L2216.6,1269.4 L2214.0,1266.0 L2211.4,1262.6 L2208.8,1259.1 L2206.4,1255.6 L2203.9,1252.1 L2201.6,1248.5 L2199.3,1245.0 L2197.1,1241.4 L2195.0,1237.7 L2193.1,1234.1 L2191.2,1230.4 L2189.5,1226.8 L2188.0,1223.1 L2186.6,1219.4 L2185.3,1215.7 L2184.2,1211.9 L2183.4,1208.2 L2182.7,1204.5 L2182.2,1200.8 L2181.9,1197.0 L2181.8,1193.3 L2182.0,1189.6 L2182.4,1185.9 L2183.0,1182.2 L2183.9,1178.6 L2184.9,1175.0 L2186.2,1171.4 L2187.6,1167.9 L2189.3,1164.4 L2191.1,1161.0 L2193.1,1157.7 L2195.2,1154.4 L2197.5,1151.2 L2200.0,1148.2 L2202.6,1145.2 L2205.3,1142.3 L2208.2,1139.6 L2211.1,1137.0 L2214.2,1134.5 L2217.4,1132.1 L2220.7,1129.9 L2224.0,1127.9 L2227.5,1126.0 L2231.0,1124.2 L2234.6,1122.5 L2238.3,1120.9 L2242.0,1119.5 L2245.8,1118.1 L2249.7,1116.8 L2253.6,1115.6 L2257.6,1114.4 L2261.6,1113.4 L2265.6,1112.3 L2269.7,1111.3 L2273.7,1110.4 L2277.9,1109.4 L2282.0,1108.5 L2286.2,1107.6 L2290.3,1106.8 L2294.5,1106.0 L2298.7,1105.2 L2302.9,1104.4 L2307.2,1103.7 L2311.4,1103.1 L2315.6,1102.5 L2319.8,1101.9 L2324.1,1101.4 L2328.3,1100.9 L2332.5,1100.5 L2336.7,1100.2 L2340.9,1099.9 L2345.1,1099.7 L2349.3,1099.5 L2353.4,1099.4 Z" fill="none" stroke="#4f080b" stroke-width="3"/>
<g fill="none" stroke="#e9392c" stroke-width="15" stroke-linecap="round" opacity="0.9">
<path d="M2473.0,1259.0 C2480.8,1266.7 2505.5,1286.5 2520.0,1305.0 C2534.5,1323.5 2549.0,1349.2 2560.0,1370.0 C2571.0,1390.8 2579.3,1408.7 2586.0,1430.0 C2592.7,1451.3 2597.7,1486.7 2600.0,1498.0"/>
<path d="M2457.0,1304.0 C2464.2,1310.8 2488.3,1329.0 2500.0,1345.0 C2511.7,1361.0 2520.2,1372.7 2527.0,1400.0 C2533.8,1427.3 2538.7,1490.8 2541.0,1509.0"/>
</g>
<path d="M2305.1,1335.7 L2308.3,1335.7 L2311.2,1336.5 L2313.7,1337.8 L2316.0,1339.6 L2318.0,1342.0 L2319.8,1344.8 L2321.3,1348.1 L2322.7,1351.7 L2323.9,1355.6 L2325.0,1359.8 L2325.9,1364.1 L2326.7,1368.7 L2327.4,1373.4 L2328.1,1378.1 L2328.7,1382.8 L2329.4,1387.6 L2330.0,1392.2 L2330.6,1396.7 L2331.3,1401.1 L2332.0,1405.3 L2332.8,1409.4 L2333.5,1413.4 L2334.3,1417.3 L2335.1,1421.1 L2336.0,1424.9 L2336.8,1428.6 L2337.7,1432.2 L2338.5,1435.8 L2339.4,1439.4 L2340.2,1443.0 L2341.1,1446.6 L2341.9,1450.3 L2342.7,1454.0 L2343.5,1457.7 L2344.3,1461.6 L2345.1,1465.5 L2345.8,1469.5 L2346.5,1473.6 L2347.2,1477.8 L2347.8,1482.2 L2348.3,1486.8 L2348.8,1491.4 L2349.2,1496.0 L2349.4,1500.7 L2349.5,1505.3 L2349.5,1509.9 L2349.2,1514.3 L2348.7,1518.6 L2347.9,1522.6 L2346.8,1526.4 L2345.5,1529.9 L2343.8,1533.0 L2341.8,1535.8 L2339.4,1538.1 L2336.6,1540.0 L2333.3,1541.3 L2329.7,1542.1 L2325.9,1542.3 L2322.2,1541.8 L2319.0,1540.7 L2316.4,1539.0 L2314.4,1536.6 L2312.9,1533.6 L2311.8,1530.3 L2311.2,1526.5 L2310.8,1522.4 L2310.7,1518.1 L2310.7,1513.6 L2310.8,1509.0 L2310.9,1504.4 L2310.8,1499.8 L2310.7,1495.4 L2310.4,1491.0 L2310.0,1486.8 L2309.4,1482.7 L2308.8,1478.6 L2308.1,1474.7 L2307.3,1470.8 L2306.4,1466.9 L2305.5,1463.2 L2304.5,1459.4 L2303.5,1455.7 L2302.5,1452.0 L2301.5,1448.3 L2300.5,1444.6 L2299.5,1440.8 L2298.6,1437.1 L2297.7,1433.3 L2296.9,1429.5 L2296.1,1425.6 L2295.4,1421.7 L2294.8,1417.8 L2294.2,1413.8 L2293.6,1409.8 L2293.0,1405.7 L2292.4,1401.6 L2291.9,1397.5 L2291.3,1393.4 L2290.8,1389.2 L2290.2,1385.0 L2289.6,1380.7 L2288.9,1376.5 L2288.2,1372.2 L2287.5,1367.9 L2286.8,1363.6 L2286.2,1359.4 L2285.9,1355.3 L2286.2,1351.5 L2287.1,1347.9 L2288.9,1344.6 L2291.5,1341.8 L2294.6,1339.4 L2298.1,1337.6 L2301.7,1336.3 L2305.1,1335.7 Z" fill="#73604a" opacity="0.82"/>
<path d="M1940,3260 L2100,3260 L2078,3321.7 C2055,3352 2036,3390 2033,3425 L2033.7,3744.3 L2001.5,3744.3 L2002,3530 C2002,3440 1990,3385 1957,3317.6 Z" fill="url(#gUre)" stroke="#8a5a36" stroke-width="2"/>
<ellipse cx="2032.5" cy="3170" rx="264.5" ry="154" fill="url(#gBlad)"/>
<path d="M1957,3317.6 A264.5,154 0 1 1 2078,3321.7" fill="none" stroke="#8a5a36" stroke-width="2"/>
<g stroke="#4a4648" stroke-width="2" fill="none">
<line x1="2101" y1="750" x2="2101" y2="1396"/>
<line x1="2208" y1="1378" x2="2834" y2="1352"/>
<line x1="2424" y1="1645" x2="2834" y2="1645"/>
<line x1="1998" y1="1817" x2="2834" y2="1817"/>
<line x1="1873" y1="1949.5" x2="2834" y2="1949.5"/>
<line x1="2182" y1="2938" x2="2834" y2="2938"/>
<line x1="1999.5" y1="3191.5" x2="2834" y2="3191.5"/>
<line x1="2033" y1="3503" x2="2834" y2="3503"/>
</g>
<g fill="#be1e2d" stroke="#fff" stroke-width="2" font-family="Liberation Sans, sans-serif" font-size="278">
<text transform="translate(1025.9 423) scale(0.5573 1.050)" x="-21.4" y="0">U</text>
<text transform="translate(1152.7 423) scale(0.6892 1.000)" x="-18.3" y="0">r</text>
<text transform="translate(1225.0 423) scale(0.6949 1.000)" x="-18.6" y="0">i</text>
<text transform="translate(1280.8 423) scale(0.6246 1.000)" x="-18.3" y="0">n</text>
<text transform="translate(1386.9 423) scale(0.5256 1.000)" x="-11.7" y="0">a</text>
<text transform="translate(1495.6 423) scale(0.7338 1.000)" x="-18.3" y="0">r</text>
<text transform="translate(1562.0 423) scale(0.5988 1.000)" x="-0.8" y="0">y</text>
<text transform="translate(1720.5 423) scale(0.6023 1.000)" x="-7.8" y="0">s</text>
<text transform="translate(1816.8 423) scale(0.5973 1.000)" x="-0.8" y="0">y</text>
<text transform="translate(1920.8 423) scale(0.6023 1.000)" x="-7.8" y="0">s</text>
<text transform="translate(2017.0 423) scale(0.6562 1.000)" x="-4.2" y="0">t</text>
<text transform="translate(2090.9 423) scale(0.5702 1.000)" x="-11.7" y="0">e</text>
<text transform="translate(2199.6 423) scale(0.6933 1.000)" x="-18.3" y="0">m</text>
<text transform="translate(2426.3 423) scale(0.6432 1.000)" x="-18.6" y="0">k</text>
<text transform="translate(2530.3 423) scale(0.6336 1.000)" x="-18.6" y="0">i</text>
<text transform="translate(2580.0 423) scale(0.6155 1.000)" x="-11.7" y="0">d</text>
<text transform="translate(2696.3 423) scale(0.6306 1.000)" x="-18.3" y="0">n</text>
<text transform="translate(2805.7 423) scale(0.5648 1.000)" x="-11.7" y="0">e</text>
<text transform="translate(2902.8 423) scale(0.5923 1.000)" x="-0.8" y="0">y</text>
<text transform="translate(3006.3 423) scale(0.6080 1.000)" x="-7.8" y="0">s</text>
</g>
<text transform="translate(1756.4 701.0) scale(0.880 1)" x="0" y="0" font-family="Liberation Sans, sans-serif" font-size="91" fill="#231f20" stroke="#fff" stroke-width="1.4" textLength="744.0" lengthAdjust="spacing">Left renal artery</text>
<text transform="translate(2862.4 1364.0) scale(0.880 1)" x="0" y="0" font-family="Liberation Sans, sans-serif" font-size="91" fill="#231f20" stroke="#fff" stroke-width="1.4" textLength="654.3" lengthAdjust="spacing">Left renal vein</text>
<text transform="translate(2862.4 1661.5) scale(0.880 1)" x="0" y="0" font-family="Liberation Sans, sans-serif" font-size="91" fill="#231f20" stroke="#fff" stroke-width="1.4" textLength="500.4" lengthAdjust="spacing">Left kidney</text>
<text transform="translate(2863.8 1839.7) scale(0.880 1)" x="0" y="0" font-family="Liberation Sans, sans-serif" font-size="91" fill="#231f20" stroke="#fff" stroke-width="1.4" textLength="241.9" lengthAdjust="spacing">Aorta</text>
<text transform="translate(2863.1 1982.0) scale(0.880 1)" x="0" y="0" font-family="Liberation Sans, sans-serif" font-size="91" fill="#231f20" stroke="#fff" stroke-width="1.4" textLength="452.2" lengthAdjust="spacing">Vena cava</text>
<text transform="translate(2862.4 2970.6) scale(0.880 1)" x="0" y="0" font-family="Liberation Sans, sans-serif" font-size="91" fill="#231f20" stroke="#fff" stroke-width="1.4" textLength="486.3" lengthAdjust="spacing">Left ureter</text>
<text transform="translate(2860.8 3230.7) scale(0.880 1)" x="0" y="0" font-family="Liberation Sans, sans-serif" font-size="91" fill="#231f20" stroke="#fff" stroke-width="1.4" textLength="723.0" lengthAdjust="spacing">Urinary bladder</text>
<text transform="translate(2862.8 3541.0) scale(0.880 1)" x="0" y="0" font-family="Liberation Sans, sans-serif" font-size="91" fill="#231f20" stroke="#fff" stroke-width="1.4" textLength="344.6" lengthAdjust="spacing">Urethra</text>
</svg></body></html>
